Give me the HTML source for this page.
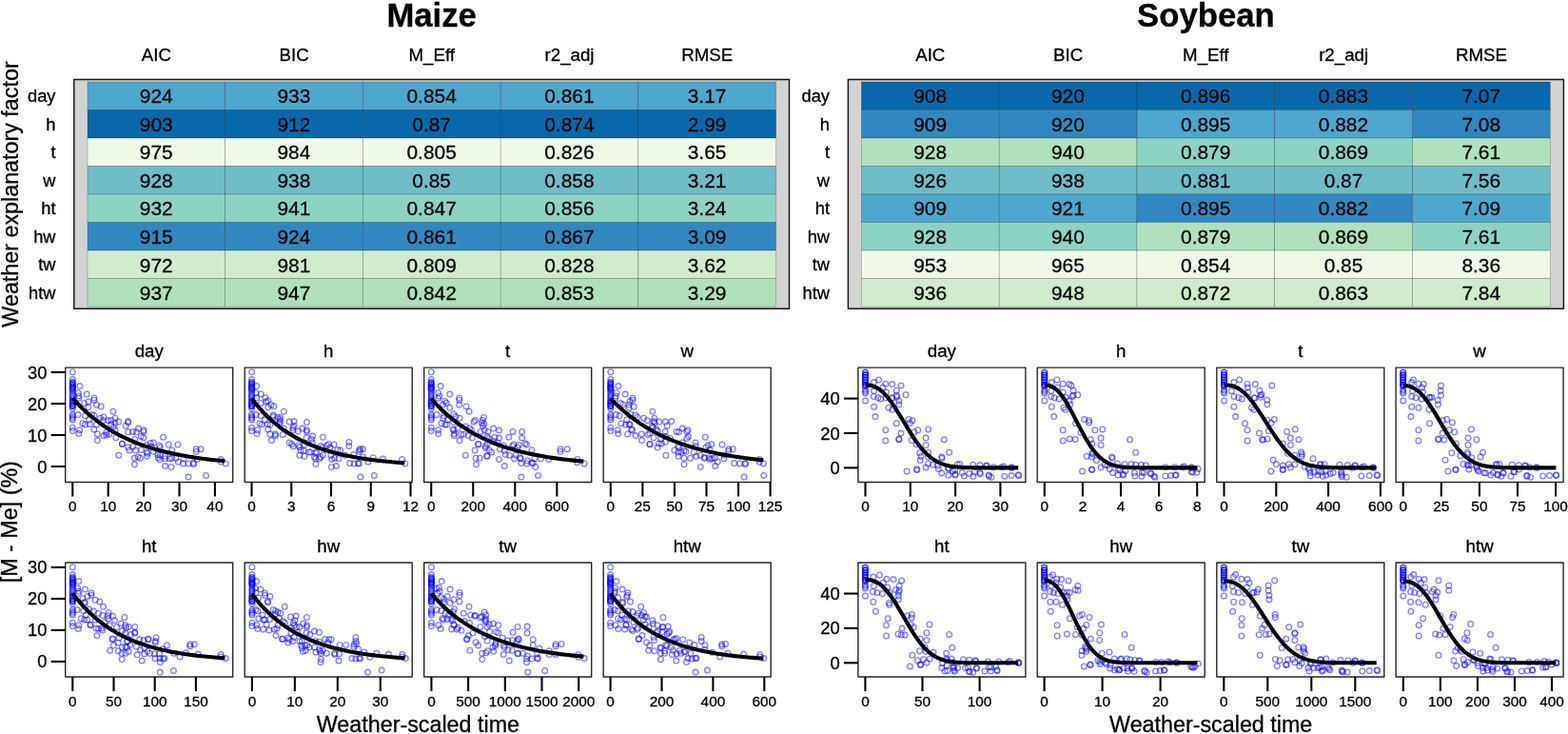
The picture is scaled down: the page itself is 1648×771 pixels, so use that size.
<!DOCTYPE html>
<html lang="en"><head><meta charset="utf-8"><title>Maize and Soybean weather-scaled drying models</title>
<style>
html,body{margin:0;padding:0;background:#fff;}
body{width:1648px;height:771px;overflow:hidden;font-family:"Liberation Sans", sans-serif;}
svg{display:block;}
text{font-family:"Liberation Sans", sans-serif;stroke:#000;stroke-width:0.3px;stroke-linejoin:round;}
</style></head><body>
<svg width="1648" height="771" viewBox="0 0 1648 771" font-family='"Liberation Sans", sans-serif'><rect x="0" y="0" width="1648" height="771" fill="#fff"/>
<rect x="77.8" y="83.45" width="751.7" height="240.75" fill="#d3d3d3"/>
<rect x="92.00" y="86.00" width="144.72" height="29.51" fill="#4EA7CD" stroke="#000" stroke-opacity="0.38" stroke-width="0.5"/>
<rect x="236.72" y="86.00" width="144.72" height="29.51" fill="#4EA7CD" stroke="#000" stroke-opacity="0.38" stroke-width="0.5"/>
<rect x="381.44" y="86.00" width="144.72" height="29.51" fill="#4EA7CD" stroke="#000" stroke-opacity="0.38" stroke-width="0.5"/>
<rect x="526.16" y="86.00" width="144.72" height="29.51" fill="#4EA7CD" stroke="#000" stroke-opacity="0.38" stroke-width="0.5"/>
<rect x="670.88" y="86.00" width="144.72" height="29.51" fill="#4EA7CD" stroke="#000" stroke-opacity="0.38" stroke-width="0.5"/>
<rect x="92.00" y="115.51" width="144.72" height="29.51" fill="#0868AC" stroke="#000" stroke-opacity="0.38" stroke-width="0.5"/>
<rect x="236.72" y="115.51" width="144.72" height="29.51" fill="#0868AC" stroke="#000" stroke-opacity="0.38" stroke-width="0.5"/>
<rect x="381.44" y="115.51" width="144.72" height="29.51" fill="#0868AC" stroke="#000" stroke-opacity="0.38" stroke-width="0.5"/>
<rect x="526.16" y="115.51" width="144.72" height="29.51" fill="#0868AC" stroke="#000" stroke-opacity="0.38" stroke-width="0.5"/>
<rect x="670.88" y="115.51" width="144.72" height="29.51" fill="#0868AC" stroke="#000" stroke-opacity="0.38" stroke-width="0.5"/>
<rect x="92.00" y="145.03" width="144.72" height="29.51" fill="#F0F9E8" stroke="#000" stroke-opacity="0.38" stroke-width="0.5"/>
<rect x="236.72" y="145.03" width="144.72" height="29.51" fill="#F0F9E8" stroke="#000" stroke-opacity="0.38" stroke-width="0.5"/>
<rect x="381.44" y="145.03" width="144.72" height="29.51" fill="#F0F9E8" stroke="#000" stroke-opacity="0.38" stroke-width="0.5"/>
<rect x="526.16" y="145.03" width="144.72" height="29.51" fill="#F0F9E8" stroke="#000" stroke-opacity="0.38" stroke-width="0.5"/>
<rect x="670.88" y="145.03" width="144.72" height="29.51" fill="#F0F9E8" stroke="#000" stroke-opacity="0.38" stroke-width="0.5"/>
<rect x="92.00" y="174.54" width="144.72" height="29.51" fill="#6EBDC9" stroke="#000" stroke-opacity="0.38" stroke-width="0.5"/>
<rect x="236.72" y="174.54" width="144.72" height="29.51" fill="#6EBDC9" stroke="#000" stroke-opacity="0.38" stroke-width="0.5"/>
<rect x="381.44" y="174.54" width="144.72" height="29.51" fill="#6EBDC9" stroke="#000" stroke-opacity="0.38" stroke-width="0.5"/>
<rect x="526.16" y="174.54" width="144.72" height="29.51" fill="#6EBDC9" stroke="#000" stroke-opacity="0.38" stroke-width="0.5"/>
<rect x="670.88" y="174.54" width="144.72" height="29.51" fill="#6EBDC9" stroke="#000" stroke-opacity="0.38" stroke-width="0.5"/>
<rect x="92.00" y="204.05" width="144.72" height="29.51" fill="#8DD3C4" stroke="#000" stroke-opacity="0.38" stroke-width="0.5"/>
<rect x="236.72" y="204.05" width="144.72" height="29.51" fill="#8DD3C4" stroke="#000" stroke-opacity="0.38" stroke-width="0.5"/>
<rect x="381.44" y="204.05" width="144.72" height="29.51" fill="#8DD3C4" stroke="#000" stroke-opacity="0.38" stroke-width="0.5"/>
<rect x="526.16" y="204.05" width="144.72" height="29.51" fill="#8DD3C4" stroke="#000" stroke-opacity="0.38" stroke-width="0.5"/>
<rect x="670.88" y="204.05" width="144.72" height="29.51" fill="#8DD3C4" stroke="#000" stroke-opacity="0.38" stroke-width="0.5"/>
<rect x="92.00" y="233.56" width="144.72" height="29.51" fill="#3188C0" stroke="#000" stroke-opacity="0.38" stroke-width="0.5"/>
<rect x="236.72" y="233.56" width="144.72" height="29.51" fill="#3188C0" stroke="#000" stroke-opacity="0.38" stroke-width="0.5"/>
<rect x="381.44" y="233.56" width="144.72" height="29.51" fill="#3188C0" stroke="#000" stroke-opacity="0.38" stroke-width="0.5"/>
<rect x="526.16" y="233.56" width="144.72" height="29.51" fill="#3188C0" stroke="#000" stroke-opacity="0.38" stroke-width="0.5"/>
<rect x="670.88" y="233.56" width="144.72" height="29.51" fill="#3188C0" stroke="#000" stroke-opacity="0.38" stroke-width="0.5"/>
<rect x="92.00" y="263.08" width="144.72" height="29.51" fill="#CFECCB" stroke="#000" stroke-opacity="0.38" stroke-width="0.5"/>
<rect x="236.72" y="263.08" width="144.72" height="29.51" fill="#CFECCB" stroke="#000" stroke-opacity="0.38" stroke-width="0.5"/>
<rect x="381.44" y="263.08" width="144.72" height="29.51" fill="#CFECCB" stroke="#000" stroke-opacity="0.38" stroke-width="0.5"/>
<rect x="526.16" y="263.08" width="144.72" height="29.51" fill="#CFECCB" stroke="#000" stroke-opacity="0.38" stroke-width="0.5"/>
<rect x="670.88" y="263.08" width="144.72" height="29.51" fill="#CFECCB" stroke="#000" stroke-opacity="0.38" stroke-width="0.5"/>
<rect x="92.00" y="292.59" width="144.72" height="29.51" fill="#B0E1BC" stroke="#000" stroke-opacity="0.38" stroke-width="0.5"/>
<rect x="236.72" y="292.59" width="144.72" height="29.51" fill="#B0E1BC" stroke="#000" stroke-opacity="0.38" stroke-width="0.5"/>
<rect x="381.44" y="292.59" width="144.72" height="29.51" fill="#B0E1BC" stroke="#000" stroke-opacity="0.38" stroke-width="0.5"/>
<rect x="526.16" y="292.59" width="144.72" height="29.51" fill="#B0E1BC" stroke="#000" stroke-opacity="0.38" stroke-width="0.5"/>
<rect x="670.88" y="292.59" width="144.72" height="29.51" fill="#B0E1BC" stroke="#000" stroke-opacity="0.38" stroke-width="0.5"/>
<text x="164.21" y="108.44" font-size="20.9" text-anchor="middle" fill="#000">924</text>
<text x="308.93" y="108.44" font-size="20.9" text-anchor="middle" fill="#000">933</text>
<text x="453.65" y="108.44" font-size="20.9" text-anchor="middle" fill="#000">0.854</text>
<text x="598.37" y="108.44" font-size="20.9" text-anchor="middle" fill="#000">0.861</text>
<text x="743.09" y="108.44" font-size="20.9" text-anchor="middle" fill="#000">3.17</text>
<text x="164.21" y="137.95" font-size="20.9" text-anchor="middle" fill="#000">903</text>
<text x="308.93" y="137.95" font-size="20.9" text-anchor="middle" fill="#000">912</text>
<text x="453.65" y="137.95" font-size="20.9" text-anchor="middle" fill="#000">0.87</text>
<text x="598.37" y="137.95" font-size="20.9" text-anchor="middle" fill="#000">0.874</text>
<text x="743.09" y="137.95" font-size="20.9" text-anchor="middle" fill="#000">2.99</text>
<text x="164.21" y="167.46" font-size="20.9" text-anchor="middle" fill="#000">975</text>
<text x="308.93" y="167.46" font-size="20.9" text-anchor="middle" fill="#000">984</text>
<text x="453.65" y="167.46" font-size="20.9" text-anchor="middle" fill="#000">0.805</text>
<text x="598.37" y="167.46" font-size="20.9" text-anchor="middle" fill="#000">0.826</text>
<text x="743.09" y="167.46" font-size="20.9" text-anchor="middle" fill="#000">3.65</text>
<text x="164.21" y="196.98" font-size="20.9" text-anchor="middle" fill="#000">928</text>
<text x="308.93" y="196.98" font-size="20.9" text-anchor="middle" fill="#000">938</text>
<text x="453.65" y="196.98" font-size="20.9" text-anchor="middle" fill="#000">0.85</text>
<text x="598.37" y="196.98" font-size="20.9" text-anchor="middle" fill="#000">0.858</text>
<text x="743.09" y="196.98" font-size="20.9" text-anchor="middle" fill="#000">3.21</text>
<text x="164.21" y="226.49" font-size="20.9" text-anchor="middle" fill="#000">932</text>
<text x="308.93" y="226.49" font-size="20.9" text-anchor="middle" fill="#000">941</text>
<text x="453.65" y="226.49" font-size="20.9" text-anchor="middle" fill="#000">0.847</text>
<text x="598.37" y="226.49" font-size="20.9" text-anchor="middle" fill="#000">0.856</text>
<text x="743.09" y="226.49" font-size="20.9" text-anchor="middle" fill="#000">3.24</text>
<text x="164.21" y="256.00" font-size="20.9" text-anchor="middle" fill="#000">915</text>
<text x="308.93" y="256.00" font-size="20.9" text-anchor="middle" fill="#000">924</text>
<text x="453.65" y="256.00" font-size="20.9" text-anchor="middle" fill="#000">0.861</text>
<text x="598.37" y="256.00" font-size="20.9" text-anchor="middle" fill="#000">0.867</text>
<text x="743.09" y="256.00" font-size="20.9" text-anchor="middle" fill="#000">3.09</text>
<text x="164.21" y="285.51" font-size="20.9" text-anchor="middle" fill="#000">972</text>
<text x="308.93" y="285.51" font-size="20.9" text-anchor="middle" fill="#000">981</text>
<text x="453.65" y="285.51" font-size="20.9" text-anchor="middle" fill="#000">0.809</text>
<text x="598.37" y="285.51" font-size="20.9" text-anchor="middle" fill="#000">0.828</text>
<text x="743.09" y="285.51" font-size="20.9" text-anchor="middle" fill="#000">3.62</text>
<text x="164.21" y="315.03" font-size="20.9" text-anchor="middle" fill="#000">937</text>
<text x="308.93" y="315.03" font-size="20.9" text-anchor="middle" fill="#000">947</text>
<text x="453.65" y="315.03" font-size="20.9" text-anchor="middle" fill="#000">0.842</text>
<text x="598.37" y="315.03" font-size="20.9" text-anchor="middle" fill="#000">0.853</text>
<text x="743.09" y="315.03" font-size="20.9" text-anchor="middle" fill="#000">3.29</text>
<rect x="77.8" y="83.45" width="751.7" height="240.75" fill="none" stroke="#161616" stroke-width="1.45" stroke-linejoin="round"/>
<text x="164.36" y="64.10" font-size="18.7" text-anchor="middle" fill="#000">AIC</text>
<text x="309.08" y="64.10" font-size="18.7" text-anchor="middle" fill="#000">BIC</text>
<text x="453.80" y="64.10" font-size="18.7" text-anchor="middle" fill="#000">M_Eff</text>
<text x="598.52" y="64.10" font-size="18.7" text-anchor="middle" fill="#000">r2_adj</text>
<text x="743.24" y="64.10" font-size="18.7" text-anchor="middle" fill="#000">RMSE</text>
<text x="58.50" y="107.01" font-size="18.3" text-anchor="end" fill="#000">day</text>
<text x="58.50" y="136.52" font-size="18.3" text-anchor="end" fill="#000">h</text>
<text x="58.50" y="166.03" font-size="18.3" text-anchor="end" fill="#000">t</text>
<text x="58.50" y="195.55" font-size="18.3" text-anchor="end" fill="#000">w</text>
<text x="58.50" y="225.06" font-size="18.3" text-anchor="end" fill="#000">ht</text>
<text x="58.50" y="254.57" font-size="18.3" text-anchor="end" fill="#000">hw</text>
<text x="58.50" y="284.08" font-size="18.3" text-anchor="end" fill="#000">tw</text>
<text x="58.50" y="313.60" font-size="18.3" text-anchor="end" fill="#000">htw</text>
<text x="453.65" y="27.50" font-size="34.7" text-anchor="middle" font-weight="bold" stroke-width="0.2" fill="#000">Maize</text>
<rect x="891.4" y="83.45" width="752.0000000000001" height="240.75" fill="#d3d3d3"/>
<rect x="905.40" y="86.00" width="144.78" height="29.51" fill="#0868AC" stroke="#000" stroke-opacity="0.38" stroke-width="0.5"/>
<rect x="1050.18" y="86.00" width="144.78" height="29.51" fill="#0868AC" stroke="#000" stroke-opacity="0.38" stroke-width="0.5"/>
<rect x="1194.96" y="86.00" width="144.78" height="29.51" fill="#0868AC" stroke="#000" stroke-opacity="0.38" stroke-width="0.5"/>
<rect x="1339.74" y="86.00" width="144.78" height="29.51" fill="#0868AC" stroke="#000" stroke-opacity="0.38" stroke-width="0.5"/>
<rect x="1484.52" y="86.00" width="144.78" height="29.51" fill="#0868AC" stroke="#000" stroke-opacity="0.38" stroke-width="0.5"/>
<rect x="905.40" y="115.51" width="144.78" height="29.51" fill="#3188C0" stroke="#000" stroke-opacity="0.38" stroke-width="0.5"/>
<rect x="1050.18" y="115.51" width="144.78" height="29.51" fill="#3188C0" stroke="#000" stroke-opacity="0.38" stroke-width="0.5"/>
<rect x="1194.96" y="115.51" width="144.78" height="29.51" fill="#4EA7CD" stroke="#000" stroke-opacity="0.38" stroke-width="0.5"/>
<rect x="1339.74" y="115.51" width="144.78" height="29.51" fill="#4EA7CD" stroke="#000" stroke-opacity="0.38" stroke-width="0.5"/>
<rect x="1484.52" y="115.51" width="144.78" height="29.51" fill="#3188C0" stroke="#000" stroke-opacity="0.38" stroke-width="0.5"/>
<rect x="905.40" y="145.03" width="144.78" height="29.51" fill="#B0E1BC" stroke="#000" stroke-opacity="0.38" stroke-width="0.5"/>
<rect x="1050.18" y="145.03" width="144.78" height="29.51" fill="#B0E1BC" stroke="#000" stroke-opacity="0.38" stroke-width="0.5"/>
<rect x="1194.96" y="145.03" width="144.78" height="29.51" fill="#8DD3C4" stroke="#000" stroke-opacity="0.38" stroke-width="0.5"/>
<rect x="1339.74" y="145.03" width="144.78" height="29.51" fill="#8DD3C4" stroke="#000" stroke-opacity="0.38" stroke-width="0.5"/>
<rect x="1484.52" y="145.03" width="144.78" height="29.51" fill="#B0E1BC" stroke="#000" stroke-opacity="0.38" stroke-width="0.5"/>
<rect x="905.40" y="174.54" width="144.78" height="29.51" fill="#6EBDC9" stroke="#000" stroke-opacity="0.38" stroke-width="0.5"/>
<rect x="1050.18" y="174.54" width="144.78" height="29.51" fill="#6EBDC9" stroke="#000" stroke-opacity="0.38" stroke-width="0.5"/>
<rect x="1194.96" y="174.54" width="144.78" height="29.51" fill="#6EBDC9" stroke="#000" stroke-opacity="0.38" stroke-width="0.5"/>
<rect x="1339.74" y="174.54" width="144.78" height="29.51" fill="#6EBDC9" stroke="#000" stroke-opacity="0.38" stroke-width="0.5"/>
<rect x="1484.52" y="174.54" width="144.78" height="29.51" fill="#6EBDC9" stroke="#000" stroke-opacity="0.38" stroke-width="0.5"/>
<rect x="905.40" y="204.05" width="144.78" height="29.51" fill="#4EA7CD" stroke="#000" stroke-opacity="0.38" stroke-width="0.5"/>
<rect x="1050.18" y="204.05" width="144.78" height="29.51" fill="#4EA7CD" stroke="#000" stroke-opacity="0.38" stroke-width="0.5"/>
<rect x="1194.96" y="204.05" width="144.78" height="29.51" fill="#3188C0" stroke="#000" stroke-opacity="0.38" stroke-width="0.5"/>
<rect x="1339.74" y="204.05" width="144.78" height="29.51" fill="#3188C0" stroke="#000" stroke-opacity="0.38" stroke-width="0.5"/>
<rect x="1484.52" y="204.05" width="144.78" height="29.51" fill="#4EA7CD" stroke="#000" stroke-opacity="0.38" stroke-width="0.5"/>
<rect x="905.40" y="233.56" width="144.78" height="29.51" fill="#8DD3C4" stroke="#000" stroke-opacity="0.38" stroke-width="0.5"/>
<rect x="1050.18" y="233.56" width="144.78" height="29.51" fill="#8DD3C4" stroke="#000" stroke-opacity="0.38" stroke-width="0.5"/>
<rect x="1194.96" y="233.56" width="144.78" height="29.51" fill="#B0E1BC" stroke="#000" stroke-opacity="0.38" stroke-width="0.5"/>
<rect x="1339.74" y="233.56" width="144.78" height="29.51" fill="#B0E1BC" stroke="#000" stroke-opacity="0.38" stroke-width="0.5"/>
<rect x="1484.52" y="233.56" width="144.78" height="29.51" fill="#8DD3C4" stroke="#000" stroke-opacity="0.38" stroke-width="0.5"/>
<rect x="905.40" y="263.08" width="144.78" height="29.51" fill="#F0F9E8" stroke="#000" stroke-opacity="0.38" stroke-width="0.5"/>
<rect x="1050.18" y="263.08" width="144.78" height="29.51" fill="#F0F9E8" stroke="#000" stroke-opacity="0.38" stroke-width="0.5"/>
<rect x="1194.96" y="263.08" width="144.78" height="29.51" fill="#F0F9E8" stroke="#000" stroke-opacity="0.38" stroke-width="0.5"/>
<rect x="1339.74" y="263.08" width="144.78" height="29.51" fill="#F0F9E8" stroke="#000" stroke-opacity="0.38" stroke-width="0.5"/>
<rect x="1484.52" y="263.08" width="144.78" height="29.51" fill="#F0F9E8" stroke="#000" stroke-opacity="0.38" stroke-width="0.5"/>
<rect x="905.40" y="292.59" width="144.78" height="29.51" fill="#CFECCB" stroke="#000" stroke-opacity="0.38" stroke-width="0.5"/>
<rect x="1050.18" y="292.59" width="144.78" height="29.51" fill="#CFECCB" stroke="#000" stroke-opacity="0.38" stroke-width="0.5"/>
<rect x="1194.96" y="292.59" width="144.78" height="29.51" fill="#CFECCB" stroke="#000" stroke-opacity="0.38" stroke-width="0.5"/>
<rect x="1339.74" y="292.59" width="144.78" height="29.51" fill="#CFECCB" stroke="#000" stroke-opacity="0.38" stroke-width="0.5"/>
<rect x="1484.52" y="292.59" width="144.78" height="29.51" fill="#CFECCB" stroke="#000" stroke-opacity="0.38" stroke-width="0.5"/>
<text x="977.64" y="108.44" font-size="20.9" text-anchor="middle" fill="#000">908</text>
<text x="1122.42" y="108.44" font-size="20.9" text-anchor="middle" fill="#000">920</text>
<text x="1267.20" y="108.44" font-size="20.9" text-anchor="middle" fill="#000">0.896</text>
<text x="1411.98" y="108.44" font-size="20.9" text-anchor="middle" fill="#000">0.883</text>
<text x="1556.76" y="108.44" font-size="20.9" text-anchor="middle" fill="#000">7.07</text>
<text x="977.64" y="137.95" font-size="20.9" text-anchor="middle" fill="#000">909</text>
<text x="1122.42" y="137.95" font-size="20.9" text-anchor="middle" fill="#000">920</text>
<text x="1267.20" y="137.95" font-size="20.9" text-anchor="middle" fill="#000">0.895</text>
<text x="1411.98" y="137.95" font-size="20.9" text-anchor="middle" fill="#000">0.882</text>
<text x="1556.76" y="137.95" font-size="20.9" text-anchor="middle" fill="#000">7.08</text>
<text x="977.64" y="167.46" font-size="20.9" text-anchor="middle" fill="#000">928</text>
<text x="1122.42" y="167.46" font-size="20.9" text-anchor="middle" fill="#000">940</text>
<text x="1267.20" y="167.46" font-size="20.9" text-anchor="middle" fill="#000">0.879</text>
<text x="1411.98" y="167.46" font-size="20.9" text-anchor="middle" fill="#000">0.869</text>
<text x="1556.76" y="167.46" font-size="20.9" text-anchor="middle" fill="#000">7.61</text>
<text x="977.64" y="196.98" font-size="20.9" text-anchor="middle" fill="#000">926</text>
<text x="1122.42" y="196.98" font-size="20.9" text-anchor="middle" fill="#000">938</text>
<text x="1267.20" y="196.98" font-size="20.9" text-anchor="middle" fill="#000">0.881</text>
<text x="1411.98" y="196.98" font-size="20.9" text-anchor="middle" fill="#000">0.87</text>
<text x="1556.76" y="196.98" font-size="20.9" text-anchor="middle" fill="#000">7.56</text>
<text x="977.64" y="226.49" font-size="20.9" text-anchor="middle" fill="#000">909</text>
<text x="1122.42" y="226.49" font-size="20.9" text-anchor="middle" fill="#000">921</text>
<text x="1267.20" y="226.49" font-size="20.9" text-anchor="middle" fill="#000">0.895</text>
<text x="1411.98" y="226.49" font-size="20.9" text-anchor="middle" fill="#000">0.882</text>
<text x="1556.76" y="226.49" font-size="20.9" text-anchor="middle" fill="#000">7.09</text>
<text x="977.64" y="256.00" font-size="20.9" text-anchor="middle" fill="#000">928</text>
<text x="1122.42" y="256.00" font-size="20.9" text-anchor="middle" fill="#000">940</text>
<text x="1267.20" y="256.00" font-size="20.9" text-anchor="middle" fill="#000">0.879</text>
<text x="1411.98" y="256.00" font-size="20.9" text-anchor="middle" fill="#000">0.869</text>
<text x="1556.76" y="256.00" font-size="20.9" text-anchor="middle" fill="#000">7.61</text>
<text x="977.64" y="285.51" font-size="20.9" text-anchor="middle" fill="#000">953</text>
<text x="1122.42" y="285.51" font-size="20.9" text-anchor="middle" fill="#000">965</text>
<text x="1267.20" y="285.51" font-size="20.9" text-anchor="middle" fill="#000">0.854</text>
<text x="1411.98" y="285.51" font-size="20.9" text-anchor="middle" fill="#000">0.85</text>
<text x="1556.76" y="285.51" font-size="20.9" text-anchor="middle" fill="#000">8.36</text>
<text x="977.64" y="315.03" font-size="20.9" text-anchor="middle" fill="#000">936</text>
<text x="1122.42" y="315.03" font-size="20.9" text-anchor="middle" fill="#000">948</text>
<text x="1267.20" y="315.03" font-size="20.9" text-anchor="middle" fill="#000">0.872</text>
<text x="1411.98" y="315.03" font-size="20.9" text-anchor="middle" fill="#000">0.863</text>
<text x="1556.76" y="315.03" font-size="20.9" text-anchor="middle" fill="#000">7.84</text>
<rect x="891.4" y="83.45" width="752.0000000000001" height="240.75" fill="none" stroke="#161616" stroke-width="1.45" stroke-linejoin="round"/>
<text x="977.79" y="64.10" font-size="18.7" text-anchor="middle" fill="#000">AIC</text>
<text x="1122.57" y="64.10" font-size="18.7" text-anchor="middle" fill="#000">BIC</text>
<text x="1267.35" y="64.10" font-size="18.7" text-anchor="middle" fill="#000">M_Eff</text>
<text x="1412.13" y="64.10" font-size="18.7" text-anchor="middle" fill="#000">r2_adj</text>
<text x="1556.91" y="64.10" font-size="18.7" text-anchor="middle" fill="#000">RMSE</text>
<text x="872.00" y="107.01" font-size="18.3" text-anchor="end" fill="#000">day</text>
<text x="872.00" y="136.52" font-size="18.3" text-anchor="end" fill="#000">h</text>
<text x="872.00" y="166.03" font-size="18.3" text-anchor="end" fill="#000">t</text>
<text x="872.00" y="195.55" font-size="18.3" text-anchor="end" fill="#000">w</text>
<text x="872.00" y="225.06" font-size="18.3" text-anchor="end" fill="#000">ht</text>
<text x="872.00" y="254.57" font-size="18.3" text-anchor="end" fill="#000">hw</text>
<text x="872.00" y="284.08" font-size="18.3" text-anchor="end" fill="#000">tw</text>
<text x="872.00" y="313.60" font-size="18.3" text-anchor="end" fill="#000">htw</text>
<text x="1267.40" y="27.50" font-size="34.7" text-anchor="middle" font-weight="bold" stroke-width="0.2" fill="#000">Soybean</text>
<text x="18.50" y="204.00" font-size="23.3" text-anchor="middle" transform="rotate(-90 18.50 204.00)" fill="#000">Weather explanatory factor</text>
<text x="18.50" y="548.20" font-size="23.3" text-anchor="middle" transform="rotate(-90 18.50 548.20)" fill="#000">[M - Me] (%)</text>
<text x="439.40" y="769.30" font-size="23.3" text-anchor="middle" fill="#000">Weather-scaled time</text>
<text x="1272.70" y="769.30" font-size="23.3" text-anchor="middle" fill="#000">Weather-scaled time</text>
<rect x="68.7" y="386.1" width="176.0" height="120.39999999999998" fill="#fff"/>
<g fill="none" stroke="#0000ff" stroke-opacity="0.5" stroke-width="1.3"><circle cx="76.3" cy="390.8" r="2.85"/><circle cx="76.3" cy="398.6" r="2.85"/><circle cx="76.3" cy="401.6" r="2.85"/><circle cx="76.3" cy="403.6" r="2.85"/><circle cx="76.3" cy="405.6" r="2.85"/><circle cx="76.3" cy="407.2" r="2.85"/><circle cx="76.3" cy="408.6" r="2.85"/><circle cx="76.3" cy="410.2" r="2.85"/><circle cx="76.3" cy="412.2" r="2.85"/><circle cx="76.3" cy="414.6" r="2.85"/><circle cx="76.3" cy="416.0" r="2.85"/><circle cx="76.3" cy="417.7" r="2.85"/><circle cx="76.3" cy="419.4" r="2.85"/><circle cx="76.3" cy="421.5" r="2.85"/><circle cx="76.3" cy="423.5" r="2.85"/><circle cx="76.3" cy="425.5" r="2.85"/><circle cx="76.3" cy="426.8" r="2.85"/><circle cx="76.3" cy="429.0" r="2.85"/><circle cx="76.3" cy="435.6" r="2.85"/><circle cx="76.3" cy="437.6" r="2.85"/><circle cx="76.3" cy="439.3" r="2.85"/><circle cx="76.3" cy="441.0" r="2.85"/><circle cx="76.3" cy="449.3" r="2.85"/><circle cx="76.3" cy="452.6" r="2.85"/><circle cx="76.3" cy="401.8" r="2.85"/><circle cx="76.3" cy="403.8" r="2.85"/><circle cx="76.3" cy="405.8" r="2.85"/><circle cx="76.3" cy="407.2" r="2.85"/><circle cx="76.3" cy="408.6" r="2.85"/><circle cx="76.3" cy="423.5" r="2.85"/><circle cx="76.3" cy="425.5" r="2.85"/><circle cx="76.3" cy="426.8" r="2.85"/><circle cx="76.3" cy="421.5" r="2.85"/><circle cx="83.8" cy="405.6" r="2.85"/><circle cx="82.3" cy="412.7" r="2.85"/><circle cx="82.8" cy="416.0" r="2.85"/><circle cx="82.8" cy="418.2" r="2.85"/><circle cx="91.2" cy="414.1" r="2.85"/><circle cx="98.9" cy="417.9" r="2.85"/><circle cx="98.9" cy="420.2" r="2.85"/><circle cx="92.7" cy="421.9" r="2.85"/><circle cx="88.6" cy="423.5" r="2.85"/><circle cx="101.4" cy="425.2" r="2.85"/><circle cx="106.2" cy="427.0" r="2.85"/><circle cx="92.7" cy="427.7" r="2.85"/><circle cx="81.9" cy="435.6" r="2.85"/><circle cx="89.4" cy="436.8" r="2.85"/><circle cx="96.5" cy="435.5" r="2.85"/><circle cx="98.9" cy="436.5" r="2.85"/><circle cx="93.6" cy="441.0" r="2.85"/><circle cx="86.9" cy="444.8" r="2.85"/><circle cx="89.4" cy="445.9" r="2.85"/><circle cx="94.4" cy="445.4" r="2.85"/><circle cx="98.9" cy="450.9" r="2.85"/><circle cx="83.6" cy="451.8" r="2.85"/><circle cx="82.8" cy="455.6" r="2.85"/><circle cx="102.4" cy="455.9" r="2.85"/><circle cx="102.4" cy="462.6" r="2.85"/><circle cx="101.5" cy="445.9" r="2.85"/><circle cx="105.5" cy="439.3" r="2.85"/><circle cx="109.0" cy="438.0" r="2.85"/><circle cx="108.5" cy="441.5" r="2.85"/><circle cx="119.0" cy="432.2" r="2.85"/><circle cx="113.8" cy="441.8" r="2.85"/><circle cx="116.8" cy="441.5" r="2.85"/><circle cx="121.0" cy="439.3" r="2.85"/><circle cx="124.8" cy="443.1" r="2.85"/><circle cx="121.0" cy="444.3" r="2.85"/><circle cx="116.8" cy="445.9" r="2.85"/><circle cx="119.3" cy="448.4" r="2.85"/><circle cx="121.0" cy="451.8" r="2.85"/><circle cx="111.8" cy="454.2" r="2.85"/><circle cx="114.8" cy="455.9" r="2.85"/><circle cx="109.0" cy="457.6" r="2.85"/><circle cx="111.8" cy="456.7" r="2.85"/><circle cx="121.8" cy="459.7" r="2.85"/><circle cx="134.6" cy="442.6" r="2.85"/><circle cx="134.6" cy="443.8" r="2.85"/><circle cx="132.1" cy="447.3" r="2.85"/><circle cx="134.7" cy="453.7" r="2.85"/><circle cx="139.6" cy="453.4" r="2.85"/><circle cx="143.4" cy="453.7" r="2.85"/><circle cx="145.5" cy="450.1" r="2.85"/><circle cx="150.9" cy="451.8" r="2.85"/><circle cx="150.9" cy="453.4" r="2.85"/><circle cx="148.4" cy="458.4" r="2.85"/><circle cx="150.9" cy="459.7" r="2.85"/><circle cx="141.7" cy="461.4" r="2.85"/><circle cx="128.4" cy="465.9" r="2.85"/><circle cx="128.4" cy="466.4" r="2.85"/><circle cx="134.6" cy="469.7" r="2.85"/><circle cx="139.6" cy="468.9" r="2.85"/><circle cx="135.9" cy="473.0" r="2.85"/><circle cx="142.6" cy="473.0" r="2.85"/><circle cx="148.4" cy="472.5" r="2.85"/><circle cx="124.8" cy="478.3" r="2.85"/><circle cx="141.4" cy="481.3" r="2.85"/><circle cx="145.0" cy="480.0" r="2.85"/><circle cx="147.5" cy="481.2" r="2.85"/><circle cx="141.4" cy="487.8" r="2.85"/><circle cx="154.2" cy="467.5" r="2.85"/><circle cx="158.3" cy="465.5" r="2.85"/><circle cx="161.3" cy="465.0" r="2.85"/><circle cx="159.2" cy="469.2" r="2.85"/><circle cx="154.2" cy="475.0" r="2.85"/><circle cx="155.0" cy="476.2" r="2.85"/><circle cx="154.5" cy="479.2" r="2.85"/><circle cx="161.3" cy="474.2" r="2.85"/><circle cx="167.5" cy="468.0" r="2.85"/><circle cx="168.3" cy="470.0" r="2.85"/><circle cx="171.6" cy="459.2" r="2.85"/><circle cx="177.1" cy="467.0" r="2.85"/><circle cx="186.9" cy="467.0" r="2.85"/><circle cx="180.8" cy="473.0" r="2.85"/><circle cx="165.8" cy="477.5" r="2.85"/><circle cx="168.3" cy="478.3" r="2.85"/><circle cx="173.6" cy="479.2" r="2.85"/><circle cx="166.3" cy="480.8" r="2.85"/><circle cx="167.8" cy="482.8" r="2.85"/><circle cx="173.6" cy="481.7" r="2.85"/><circle cx="178.3" cy="481.7" r="2.85"/><circle cx="180.8" cy="481.2" r="2.85"/><circle cx="184.9" cy="481.2" r="2.85"/><circle cx="173.6" cy="489.6" r="2.85"/><circle cx="179.9" cy="490.5" r="2.85"/><circle cx="187.4" cy="485.3" r="2.85"/><circle cx="192.4" cy="487.0" r="2.85"/><circle cx="193.2" cy="481.7" r="2.85"/><circle cx="197.9" cy="487.0" r="2.85"/><circle cx="203.2" cy="486.3" r="2.85"/><circle cx="203.5" cy="487.5" r="2.85"/><circle cx="207.3" cy="482.5" r="2.85"/><circle cx="206.2" cy="471.7" r="2.85"/><circle cx="206.2" cy="474.2" r="2.85"/><circle cx="211.1" cy="471.7" r="2.85"/><circle cx="197.9" cy="501.1" r="2.85"/><circle cx="216.5" cy="499.4" r="2.85"/><circle cx="232.2" cy="482.5" r="2.85"/><circle cx="232.2" cy="485.0" r="2.85"/><circle cx="237.2" cy="487.0" r="2.85"/></g>
<path d="M76.30,418.21 L78.97,421.18 L81.64,424.02 L84.30,426.75 L86.97,429.37 L89.64,431.88 L92.31,434.28 L94.98,436.59 L97.65,438.79 L100.31,440.91 L102.98,442.94 L105.65,444.89 L108.32,446.76 L110.99,448.54 L113.65,450.26 L116.32,451.90 L118.99,453.48 L121.66,454.99 L124.33,456.44 L126.99,457.83 L129.66,459.16 L132.33,460.43 L135.00,461.66 L137.67,462.83 L140.34,463.95 L143.00,465.03 L145.67,466.06 L148.34,467.05 L151.01,468.00 L153.68,468.91 L156.34,469.78 L159.01,470.62 L161.68,471.42 L164.35,472.19 L167.02,472.93 L169.68,473.63 L172.35,474.31 L175.02,474.96 L177.69,475.58 L180.36,476.18 L183.03,476.75 L185.69,477.30 L188.36,477.82 L191.03,478.33 L193.70,478.81 L196.37,479.27 L199.03,479.72 L201.70,480.14 L204.37,480.55 L207.04,480.94 L209.71,481.32 L212.37,481.67 L215.04,482.02 L217.71,482.35 L220.38,482.67 L223.05,482.97 L225.72,483.26 L228.38,483.54 L231.05,483.81 L233.72,484.06 L236.39,484.31" fill="none" stroke="#000" stroke-width="4.1" stroke-linejoin="round"/>
<rect x="68.7" y="386.1" width="176.0" height="120.39999999999998" fill="none" stroke="#262626" stroke-width="1.4" stroke-linejoin="round"/>
<line x1="76.30" y1="506.5" x2="76.30" y2="521.5" stroke="#000" stroke-width="2.1"/>
<text x="76.30" y="537.00" font-size="15.35" text-anchor="middle" fill="#000">0</text>
<line x1="113.70" y1="506.5" x2="113.70" y2="521.5" stroke="#000" stroke-width="2.1"/>
<text x="113.70" y="537.00" font-size="15.35" text-anchor="middle" fill="#000">10</text>
<line x1="151.10" y1="506.5" x2="151.10" y2="521.5" stroke="#000" stroke-width="2.1"/>
<text x="151.10" y="537.00" font-size="15.35" text-anchor="middle" fill="#000">20</text>
<line x1="188.50" y1="506.5" x2="188.50" y2="521.5" stroke="#000" stroke-width="2.1"/>
<text x="188.50" y="537.00" font-size="15.35" text-anchor="middle" fill="#000">30</text>
<line x1="225.90" y1="506.5" x2="225.90" y2="521.5" stroke="#000" stroke-width="2.1"/>
<text x="225.90" y="537.00" font-size="15.35" text-anchor="middle" fill="#000">40</text>
<line x1="53.7" y1="490.00" x2="68.7" y2="490.00" stroke="#000" stroke-width="2.1"/>
<text x="49.50" y="496.59" font-size="18.4" text-anchor="end" fill="#000">0</text>
<line x1="53.7" y1="457.00" x2="68.7" y2="457.00" stroke="#000" stroke-width="2.1"/>
<text x="49.50" y="463.59" font-size="18.4" text-anchor="end" fill="#000">10</text>
<line x1="53.7" y1="424.00" x2="68.7" y2="424.00" stroke="#000" stroke-width="2.1"/>
<text x="49.50" y="430.59" font-size="18.4" text-anchor="end" fill="#000">20</text>
<line x1="53.7" y1="391.00" x2="68.7" y2="391.00" stroke="#000" stroke-width="2.1"/>
<text x="49.50" y="397.59" font-size="18.4" text-anchor="end" fill="#000">30</text>
<text x="156.70" y="374.60" font-size="18.7" text-anchor="middle" fill="#000">day</text>
<rect x="257.2" y="386.1" width="176.0" height="120.39999999999998" fill="#fff"/>
<g fill="none" stroke="#0000ff" stroke-opacity="0.5" stroke-width="1.3"><circle cx="264.5" cy="390.8" r="2.85"/><circle cx="264.5" cy="398.6" r="2.85"/><circle cx="264.5" cy="401.6" r="2.85"/><circle cx="264.5" cy="403.6" r="2.85"/><circle cx="264.5" cy="405.6" r="2.85"/><circle cx="264.5" cy="407.2" r="2.85"/><circle cx="264.5" cy="408.6" r="2.85"/><circle cx="264.5" cy="410.2" r="2.85"/><circle cx="264.5" cy="412.2" r="2.85"/><circle cx="264.5" cy="414.6" r="2.85"/><circle cx="264.5" cy="416.0" r="2.85"/><circle cx="264.5" cy="417.7" r="2.85"/><circle cx="264.5" cy="419.4" r="2.85"/><circle cx="264.5" cy="421.5" r="2.85"/><circle cx="264.5" cy="423.5" r="2.85"/><circle cx="264.5" cy="425.5" r="2.85"/><circle cx="264.5" cy="426.8" r="2.85"/><circle cx="264.5" cy="429.0" r="2.85"/><circle cx="264.5" cy="435.6" r="2.85"/><circle cx="264.5" cy="437.6" r="2.85"/><circle cx="264.5" cy="439.3" r="2.85"/><circle cx="264.5" cy="441.0" r="2.85"/><circle cx="264.5" cy="449.3" r="2.85"/><circle cx="264.5" cy="452.6" r="2.85"/><circle cx="264.5" cy="401.8" r="2.85"/><circle cx="264.5" cy="403.8" r="2.85"/><circle cx="264.5" cy="405.8" r="2.85"/><circle cx="264.5" cy="407.2" r="2.85"/><circle cx="264.5" cy="408.6" r="2.85"/><circle cx="264.5" cy="423.5" r="2.85"/><circle cx="264.5" cy="425.5" r="2.85"/><circle cx="264.5" cy="426.8" r="2.85"/><circle cx="264.5" cy="421.5" r="2.85"/><circle cx="269.6" cy="405.6" r="2.85"/><circle cx="268.9" cy="412.7" r="2.85"/><circle cx="274.3" cy="413.9" r="2.85"/><circle cx="269.6" cy="417.7" r="2.85"/><circle cx="278.9" cy="417.7" r="2.85"/><circle cx="281.7" cy="421.0" r="2.85"/><circle cx="279.6" cy="421.9" r="2.85"/><circle cx="274.3" cy="423.5" r="2.85"/><circle cx="285.0" cy="425.2" r="2.85"/><circle cx="287.9" cy="426.8" r="2.85"/><circle cx="281.7" cy="427.7" r="2.85"/><circle cx="298.3" cy="432.2" r="2.85"/><circle cx="268.9" cy="435.6" r="2.85"/><circle cx="274.3" cy="436.8" r="2.85"/><circle cx="287.2" cy="436.0" r="2.85"/><circle cx="287.2" cy="437.6" r="2.85"/><circle cx="291.7" cy="438.5" r="2.85"/><circle cx="294.5" cy="438.5" r="2.85"/><circle cx="293.8" cy="440.5" r="2.85"/><circle cx="294.5" cy="442.6" r="2.85"/><circle cx="278.4" cy="441.0" r="2.85"/><circle cx="272.9" cy="444.8" r="2.85"/><circle cx="275.1" cy="445.9" r="2.85"/><circle cx="281.2" cy="445.4" r="2.85"/><circle cx="283.9" cy="445.9" r="2.85"/><circle cx="293.8" cy="445.1" r="2.85"/><circle cx="281.7" cy="450.9" r="2.85"/><circle cx="270.6" cy="451.8" r="2.85"/><circle cx="270.1" cy="455.6" r="2.85"/><circle cx="283.9" cy="455.9" r="2.85"/><circle cx="289.5" cy="455.9" r="2.85"/><circle cx="289.5" cy="457.6" r="2.85"/><circle cx="285.4" cy="462.6" r="2.85"/><circle cx="297.2" cy="456.4" r="2.85"/><circle cx="298.3" cy="450.1" r="2.85"/><circle cx="304.1" cy="443.1" r="2.85"/><circle cx="309.1" cy="442.6" r="2.85"/><circle cx="309.1" cy="447.6" r="2.85"/><circle cx="307.8" cy="449.3" r="2.85"/><circle cx="307.8" cy="451.8" r="2.85"/><circle cx="313.3" cy="453.1" r="2.85"/><circle cx="317.9" cy="450.1" r="2.85"/><circle cx="322.4" cy="443.5" r="2.85"/><circle cx="322.4" cy="451.8" r="2.85"/><circle cx="322.4" cy="453.4" r="2.85"/><circle cx="322.1" cy="459.7" r="2.85"/><circle cx="327.4" cy="461.4" r="2.85"/><circle cx="328.6" cy="458.1" r="2.85"/><circle cx="328.2" cy="465.0" r="2.85"/><circle cx="339.4" cy="459.2" r="2.85"/><circle cx="304.1" cy="465.0" r="2.85"/><circle cx="306.6" cy="466.4" r="2.85"/><circle cx="308.3" cy="468.7" r="2.85"/><circle cx="313.8" cy="468.0" r="2.85"/><circle cx="314.9" cy="469.7" r="2.85"/><circle cx="319.9" cy="467.5" r="2.85"/><circle cx="316.1" cy="473.0" r="2.85"/><circle cx="319.1" cy="473.3" r="2.85"/><circle cx="314.9" cy="478.3" r="2.85"/><circle cx="319.9" cy="479.2" r="2.85"/><circle cx="324.6" cy="475.0" r="2.85"/><circle cx="326.6" cy="475.0" r="2.85"/><circle cx="331.6" cy="475.8" r="2.85"/><circle cx="332.9" cy="475.0" r="2.85"/><circle cx="330.4" cy="480.0" r="2.85"/><circle cx="331.6" cy="481.7" r="2.85"/><circle cx="335.7" cy="481.7" r="2.85"/><circle cx="337.0" cy="480.0" r="2.85"/><circle cx="339.4" cy="478.0" r="2.85"/><circle cx="337.4" cy="468.4" r="2.85"/><circle cx="339.0" cy="470.0" r="2.85"/><circle cx="331.9" cy="487.5" r="2.85"/><circle cx="343.5" cy="468.0" r="2.85"/><circle cx="345.3" cy="466.4" r="2.85"/><circle cx="351.1" cy="467.0" r="2.85"/><circle cx="347.0" cy="470.0" r="2.85"/><circle cx="347.8" cy="478.3" r="2.85"/><circle cx="348.7" cy="482.5" r="2.85"/><circle cx="351.5" cy="481.2" r="2.85"/><circle cx="356.0" cy="481.7" r="2.85"/><circle cx="354.8" cy="472.5" r="2.85"/><circle cx="357.8" cy="473.0" r="2.85"/><circle cx="366.8" cy="464.5" r="2.85"/><circle cx="366.8" cy="468.4" r="2.85"/><circle cx="362.8" cy="478.3" r="2.85"/><circle cx="371.7" cy="477.5" r="2.85"/><circle cx="377.6" cy="472.5" r="2.85"/><circle cx="378.9" cy="471.7" r="2.85"/><circle cx="381.4" cy="471.7" r="2.85"/><circle cx="377.6" cy="474.2" r="2.85"/><circle cx="381.4" cy="480.0" r="2.85"/><circle cx="386.9" cy="485.3" r="2.85"/><circle cx="367.6" cy="486.6" r="2.85"/><circle cx="372.2" cy="487.0" r="2.85"/><circle cx="376.4" cy="486.6" r="2.85"/><circle cx="377.2" cy="487.0" r="2.85"/><circle cx="348.2" cy="490.5" r="2.85"/><circle cx="353.5" cy="489.6" r="2.85"/><circle cx="392.2" cy="480.8" r="2.85"/><circle cx="402.5" cy="482.1" r="2.85"/><circle cx="378.9" cy="501.1" r="2.85"/><circle cx="393.3" cy="499.4" r="2.85"/><circle cx="422.6" cy="482.5" r="2.85"/><circle cx="425.7" cy="487.0" r="2.85"/></g>
<path d="M264.50,418.70 L267.18,422.13 L269.86,425.40 L272.54,428.51 L275.23,431.47 L277.91,434.28 L280.59,436.96 L283.27,439.52 L285.95,441.95 L288.63,444.26 L291.31,446.46 L294.00,448.55 L296.68,450.55 L299.36,452.45 L302.04,454.25 L304.72,455.97 L307.40,457.61 L310.08,459.17 L312.77,460.65 L315.45,462.06 L318.13,463.41 L320.81,464.69 L323.49,465.91 L326.17,467.06 L328.86,468.17 L331.54,469.22 L334.22,470.22 L336.90,471.17 L339.58,472.08 L342.26,472.94 L344.94,473.76 L347.63,474.54 L350.31,475.29 L352.99,475.99 L355.67,476.67 L358.35,477.31 L361.03,477.92 L363.71,478.50 L366.40,479.05 L369.08,479.58 L371.76,480.08 L374.44,480.56 L377.12,481.01 L379.80,481.45 L382.48,481.86 L385.17,482.25 L387.85,482.62 L390.53,482.98 L393.21,483.31 L395.89,483.64 L398.57,483.94 L401.25,484.23 L403.94,484.51 L406.62,484.78 L409.30,485.03 L411.98,485.27 L414.66,485.49 L417.34,485.71 L420.03,485.92 L422.71,486.11 L425.39,486.30" fill="none" stroke="#000" stroke-width="4.1" stroke-linejoin="round"/>
<rect x="257.2" y="386.1" width="176.0" height="120.39999999999998" fill="none" stroke="#262626" stroke-width="1.4" stroke-linejoin="round"/>
<line x1="264.50" y1="506.5" x2="264.50" y2="521.5" stroke="#000" stroke-width="2.1"/>
<text x="264.50" y="537.00" font-size="15.35" text-anchor="middle" fill="#000">0</text>
<line x1="306.25" y1="506.5" x2="306.25" y2="521.5" stroke="#000" stroke-width="2.1"/>
<text x="306.25" y="537.00" font-size="15.35" text-anchor="middle" fill="#000">3</text>
<line x1="348.00" y1="506.5" x2="348.00" y2="521.5" stroke="#000" stroke-width="2.1"/>
<text x="348.00" y="537.00" font-size="15.35" text-anchor="middle" fill="#000">6</text>
<line x1="389.75" y1="506.5" x2="389.75" y2="521.5" stroke="#000" stroke-width="2.1"/>
<text x="389.75" y="537.00" font-size="15.35" text-anchor="middle" fill="#000">9</text>
<line x1="431.50" y1="506.5" x2="431.50" y2="521.5" stroke="#000" stroke-width="2.1"/>
<text x="431.50" y="537.00" font-size="15.35" text-anchor="middle" fill="#000">12</text>
<text x="345.20" y="374.60" font-size="18.7" text-anchor="middle" fill="#000">h</text>
<rect x="445.7" y="386.1" width="176.00000000000006" height="120.39999999999998" fill="#fff"/>
<g fill="none" stroke="#0000ff" stroke-opacity="0.5" stroke-width="1.3"><circle cx="453.2" cy="390.8" r="2.85"/><circle cx="453.2" cy="398.6" r="2.85"/><circle cx="453.2" cy="401.6" r="2.85"/><circle cx="453.2" cy="403.6" r="2.85"/><circle cx="453.2" cy="405.6" r="2.85"/><circle cx="453.2" cy="407.2" r="2.85"/><circle cx="453.2" cy="408.6" r="2.85"/><circle cx="453.2" cy="410.2" r="2.85"/><circle cx="453.2" cy="412.2" r="2.85"/><circle cx="453.2" cy="414.6" r="2.85"/><circle cx="453.2" cy="416.0" r="2.85"/><circle cx="453.2" cy="417.7" r="2.85"/><circle cx="453.2" cy="419.4" r="2.85"/><circle cx="453.2" cy="421.5" r="2.85"/><circle cx="453.2" cy="423.5" r="2.85"/><circle cx="453.2" cy="425.5" r="2.85"/><circle cx="453.2" cy="426.8" r="2.85"/><circle cx="453.2" cy="429.0" r="2.85"/><circle cx="453.2" cy="435.6" r="2.85"/><circle cx="453.2" cy="437.6" r="2.85"/><circle cx="453.2" cy="439.3" r="2.85"/><circle cx="453.2" cy="441.0" r="2.85"/><circle cx="453.2" cy="449.3" r="2.85"/><circle cx="453.2" cy="452.6" r="2.85"/><circle cx="453.2" cy="401.8" r="2.85"/><circle cx="453.2" cy="403.8" r="2.85"/><circle cx="453.2" cy="405.8" r="2.85"/><circle cx="453.2" cy="407.2" r="2.85"/><circle cx="453.2" cy="408.6" r="2.85"/><circle cx="453.2" cy="423.5" r="2.85"/><circle cx="453.2" cy="425.5" r="2.85"/><circle cx="453.2" cy="426.8" r="2.85"/><circle cx="453.2" cy="421.5" r="2.85"/><circle cx="463.1" cy="405.6" r="2.85"/><circle cx="460.6" cy="412.7" r="2.85"/><circle cx="461.9" cy="416.0" r="2.85"/><circle cx="460.6" cy="418.2" r="2.85"/><circle cx="472.7" cy="414.1" r="2.85"/><circle cx="482.7" cy="417.9" r="2.85"/><circle cx="482.7" cy="420.2" r="2.85"/><circle cx="467.6" cy="421.4" r="2.85"/><circle cx="469.2" cy="423.2" r="2.85"/><circle cx="465.6" cy="424.8" r="2.85"/><circle cx="482.7" cy="425.2" r="2.85"/><circle cx="472.7" cy="428.2" r="2.85"/><circle cx="490.0" cy="427.0" r="2.85"/><circle cx="493.0" cy="432.3" r="2.85"/><circle cx="458.9" cy="435.6" r="2.85"/><circle cx="476.9" cy="435.1" r="2.85"/><circle cx="478.9" cy="437.6" r="2.85"/><circle cx="466.4" cy="436.8" r="2.85"/><circle cx="465.6" cy="439.3" r="2.85"/><circle cx="470.9" cy="441.0" r="2.85"/><circle cx="483.0" cy="439.3" r="2.85"/><circle cx="463.9" cy="444.8" r="2.85"/><circle cx="467.6" cy="445.9" r="2.85"/><circle cx="469.7" cy="445.9" r="2.85"/><circle cx="476.9" cy="443.5" r="2.85"/><circle cx="475.9" cy="450.9" r="2.85"/><circle cx="477.2" cy="451.8" r="2.85"/><circle cx="460.6" cy="451.8" r="2.85"/><circle cx="460.6" cy="455.6" r="2.85"/><circle cx="477.5" cy="455.6" r="2.85"/><circle cx="477.2" cy="457.6" r="2.85"/><circle cx="483.0" cy="462.6" r="2.85"/><circle cx="480.9" cy="450.1" r="2.85"/><circle cx="484.7" cy="456.2" r="2.85"/><circle cx="487.2" cy="456.2" r="2.85"/><circle cx="492.1" cy="457.6" r="2.85"/><circle cx="489.2" cy="447.9" r="2.85"/><circle cx="493.5" cy="449.8" r="2.85"/><circle cx="495.5" cy="451.8" r="2.85"/><circle cx="496.3" cy="459.7" r="2.85"/><circle cx="498.0" cy="443.1" r="2.85"/><circle cx="499.6" cy="441.5" r="2.85"/><circle cx="507.1" cy="441.5" r="2.85"/><circle cx="508.4" cy="438.5" r="2.85"/><circle cx="506.3" cy="444.3" r="2.85"/><circle cx="508.8" cy="445.1" r="2.85"/><circle cx="507.4" cy="447.3" r="2.85"/><circle cx="509.1" cy="451.8" r="2.85"/><circle cx="505.1" cy="453.4" r="2.85"/><circle cx="512.9" cy="453.4" r="2.85"/><circle cx="518.7" cy="450.1" r="2.85"/><circle cx="524.5" cy="452.1" r="2.85"/><circle cx="512.1" cy="458.4" r="2.85"/><circle cx="513.4" cy="460.4" r="2.85"/><circle cx="519.9" cy="459.2" r="2.85"/><circle cx="524.5" cy="460.1" r="2.85"/><circle cx="502.9" cy="466.4" r="2.85"/><circle cx="502.6" cy="466.7" r="2.85"/><circle cx="512.1" cy="466.4" r="2.85"/><circle cx="510.4" cy="468.4" r="2.85"/><circle cx="510.1" cy="470.4" r="2.85"/><circle cx="514.2" cy="473.0" r="2.85"/><circle cx="516.6" cy="475.0" r="2.85"/><circle cx="511.6" cy="478.8" r="2.85"/><circle cx="512.1" cy="479.2" r="2.85"/><circle cx="499.1" cy="473.0" r="2.85"/><circle cx="489.3" cy="478.3" r="2.85"/><circle cx="500.1" cy="481.3" r="2.85"/><circle cx="504.3" cy="481.2" r="2.85"/><circle cx="500.5" cy="487.8" r="2.85"/><circle cx="524.5" cy="482.5" r="2.85"/><circle cx="530.3" cy="489.6" r="2.85"/><circle cx="518.4" cy="463.4" r="2.85"/><circle cx="522.9" cy="465.0" r="2.85"/><circle cx="525.4" cy="471.7" r="2.85"/><circle cx="529.5" cy="468.0" r="2.85"/><circle cx="530.3" cy="473.3" r="2.85"/><circle cx="531.2" cy="477.5" r="2.85"/><circle cx="535.3" cy="478.3" r="2.85"/><circle cx="534.8" cy="459.2" r="2.85"/><circle cx="539.0" cy="453.4" r="2.85"/><circle cx="548.6" cy="453.4" r="2.85"/><circle cx="548.6" cy="460.1" r="2.85"/><circle cx="540.0" cy="466.7" r="2.85"/><circle cx="538.7" cy="468.4" r="2.85"/><circle cx="545.3" cy="467.5" r="2.85"/><circle cx="544.0" cy="470.0" r="2.85"/><circle cx="551.9" cy="465.9" r="2.85"/><circle cx="553.6" cy="467.0" r="2.85"/><circle cx="558.9" cy="472.8" r="2.85"/><circle cx="542.0" cy="478.0" r="2.85"/><circle cx="540.6" cy="481.7" r="2.85"/><circle cx="546.6" cy="480.8" r="2.85"/><circle cx="547.3" cy="481.7" r="2.85"/><circle cx="547.8" cy="486.6" r="2.85"/><circle cx="554.4" cy="484.1" r="2.85"/><circle cx="553.6" cy="487.0" r="2.85"/><circle cx="558.9" cy="486.1" r="2.85"/><circle cx="560.2" cy="486.6" r="2.85"/><circle cx="561.9" cy="481.7" r="2.85"/><circle cx="562.7" cy="490.5" r="2.85"/><circle cx="568.5" cy="481.7" r="2.85"/><circle cx="576.8" cy="482.5" r="2.85"/><circle cx="589.0" cy="471.7" r="2.85"/><circle cx="589.0" cy="474.2" r="2.85"/><circle cx="596.3" cy="471.7" r="2.85"/><circle cx="547.8" cy="501.1" r="2.85"/><circle cx="565.6" cy="499.4" r="2.85"/><circle cx="606.7" cy="482.5" r="2.85"/><circle cx="606.7" cy="485.8" r="2.85"/><circle cx="614.2" cy="487.0" r="2.85"/></g>
<path d="M453.20,418.70 L455.87,421.71 L458.54,424.60 L461.21,427.36 L463.88,430.00 L466.55,432.53 L469.22,434.96 L471.89,437.28 L474.56,439.51 L477.23,441.64 L479.90,443.68 L482.57,445.64 L485.24,447.51 L487.91,449.30 L490.58,451.02 L493.25,452.67 L495.92,454.24 L498.59,455.75 L501.26,457.20 L503.93,458.58 L506.60,459.91 L509.27,461.18 L511.94,462.40 L514.61,463.56 L517.28,464.68 L519.95,465.75 L522.61,466.77 L525.28,467.75 L527.95,468.69 L530.62,469.59 L533.29,470.45 L535.96,471.28 L538.63,472.07 L541.30,472.82 L543.97,473.55 L546.64,474.24 L549.31,474.91 L551.98,475.55 L554.65,476.16 L557.32,476.74 L559.99,477.30 L562.66,477.84 L565.33,478.35 L568.00,478.84 L570.67,479.31 L573.34,479.76 L576.01,480.20 L578.68,480.61 L581.35,481.01 L584.02,481.39 L586.69,481.75 L589.36,482.10 L592.03,482.43 L594.70,482.75 L597.37,483.06 L600.04,483.35 L602.71,483.63 L605.38,483.90 L608.05,484.16 L610.72,484.40 L613.39,484.64" fill="none" stroke="#000" stroke-width="4.1" stroke-linejoin="round"/>
<rect x="445.7" y="386.1" width="176.00000000000006" height="120.39999999999998" fill="none" stroke="#262626" stroke-width="1.4" stroke-linejoin="round"/>
<line x1="453.20" y1="506.5" x2="453.20" y2="521.5" stroke="#000" stroke-width="2.1"/>
<text x="453.20" y="537.00" font-size="15.35" text-anchor="middle" fill="#000">0</text>
<line x1="497.25" y1="506.5" x2="497.25" y2="521.5" stroke="#000" stroke-width="2.1"/>
<text x="497.25" y="537.00" font-size="15.35" text-anchor="middle" fill="#000">200</text>
<line x1="541.30" y1="506.5" x2="541.30" y2="521.5" stroke="#000" stroke-width="2.1"/>
<text x="541.30" y="537.00" font-size="15.35" text-anchor="middle" fill="#000">400</text>
<line x1="585.35" y1="506.5" x2="585.35" y2="521.5" stroke="#000" stroke-width="2.1"/>
<text x="585.35" y="537.00" font-size="15.35" text-anchor="middle" fill="#000">600</text>
<text x="533.70" y="374.60" font-size="18.7" text-anchor="middle" fill="#000">t</text>
<rect x="634.2" y="386.1" width="176.0" height="120.39999999999998" fill="#fff"/>
<g fill="none" stroke="#0000ff" stroke-opacity="0.5" stroke-width="1.3"><circle cx="641.8" cy="390.8" r="2.85"/><circle cx="641.8" cy="398.6" r="2.85"/><circle cx="641.8" cy="401.6" r="2.85"/><circle cx="641.8" cy="403.6" r="2.85"/><circle cx="641.8" cy="405.6" r="2.85"/><circle cx="641.8" cy="407.2" r="2.85"/><circle cx="641.8" cy="408.6" r="2.85"/><circle cx="641.8" cy="410.2" r="2.85"/><circle cx="641.8" cy="412.2" r="2.85"/><circle cx="641.8" cy="414.6" r="2.85"/><circle cx="641.8" cy="416.0" r="2.85"/><circle cx="641.8" cy="417.7" r="2.85"/><circle cx="641.8" cy="419.4" r="2.85"/><circle cx="641.8" cy="421.5" r="2.85"/><circle cx="641.8" cy="423.5" r="2.85"/><circle cx="641.8" cy="425.5" r="2.85"/><circle cx="641.8" cy="426.8" r="2.85"/><circle cx="641.8" cy="429.0" r="2.85"/><circle cx="641.8" cy="435.6" r="2.85"/><circle cx="641.8" cy="437.6" r="2.85"/><circle cx="641.8" cy="439.3" r="2.85"/><circle cx="641.8" cy="441.0" r="2.85"/><circle cx="641.8" cy="449.3" r="2.85"/><circle cx="641.8" cy="452.6" r="2.85"/><circle cx="641.8" cy="401.8" r="2.85"/><circle cx="641.8" cy="403.8" r="2.85"/><circle cx="641.8" cy="405.8" r="2.85"/><circle cx="641.8" cy="407.2" r="2.85"/><circle cx="641.8" cy="408.6" r="2.85"/><circle cx="641.8" cy="423.5" r="2.85"/><circle cx="641.8" cy="425.5" r="2.85"/><circle cx="641.8" cy="426.8" r="2.85"/><circle cx="641.8" cy="421.5" r="2.85"/><circle cx="649.9" cy="405.6" r="2.85"/><circle cx="647.9" cy="412.7" r="2.85"/><circle cx="647.1" cy="416.0" r="2.85"/><circle cx="646.6" cy="418.2" r="2.85"/><circle cx="657.1" cy="414.1" r="2.85"/><circle cx="664.9" cy="417.9" r="2.85"/><circle cx="664.9" cy="420.2" r="2.85"/><circle cx="662.0" cy="421.4" r="2.85"/><circle cx="660.9" cy="425.2" r="2.85"/><circle cx="666.2" cy="427.3" r="2.85"/><circle cx="660.9" cy="428.2" r="2.85"/><circle cx="652.1" cy="423.5" r="2.85"/><circle cx="654.6" cy="424.8" r="2.85"/><circle cx="685.8" cy="432.2" r="2.85"/><circle cx="647.4" cy="435.6" r="2.85"/><circle cx="650.9" cy="436.8" r="2.85"/><circle cx="667.9" cy="436.0" r="2.85"/><circle cx="669.9" cy="438.1" r="2.85"/><circle cx="662.9" cy="435.1" r="2.85"/><circle cx="658.7" cy="441.0" r="2.85"/><circle cx="652.9" cy="444.8" r="2.85"/><circle cx="657.6" cy="445.9" r="2.85"/><circle cx="661.2" cy="445.4" r="2.85"/><circle cx="662.0" cy="445.9" r="2.85"/><circle cx="663.7" cy="450.9" r="2.85"/><circle cx="664.5" cy="451.8" r="2.85"/><circle cx="649.3" cy="451.8" r="2.85"/><circle cx="649.6" cy="455.6" r="2.85"/><circle cx="659.6" cy="455.9" r="2.85"/><circle cx="667.9" cy="457.6" r="2.85"/><circle cx="674.2" cy="455.9" r="2.85"/><circle cx="674.5" cy="462.6" r="2.85"/><circle cx="676.5" cy="439.3" r="2.85"/><circle cx="680.3" cy="441.8" r="2.85"/><circle cx="687.8" cy="439.3" r="2.85"/><circle cx="687.0" cy="442.6" r="2.85"/><circle cx="688.1" cy="444.3" r="2.85"/><circle cx="692.8" cy="443.1" r="2.85"/><circle cx="699.4" cy="443.1" r="2.85"/><circle cx="705.7" cy="442.6" r="2.85"/><circle cx="701.1" cy="447.3" r="2.85"/><circle cx="685.3" cy="447.6" r="2.85"/><circle cx="686.1" cy="449.3" r="2.85"/><circle cx="689.5" cy="450.9" r="2.85"/><circle cx="691.1" cy="452.6" r="2.85"/><circle cx="682.8" cy="455.1" r="2.85"/><circle cx="680.8" cy="456.4" r="2.85"/><circle cx="687.0" cy="459.7" r="2.85"/><circle cx="699.1" cy="453.4" r="2.85"/><circle cx="699.4" cy="458.4" r="2.85"/><circle cx="704.4" cy="460.4" r="2.85"/><circle cx="694.4" cy="460.9" r="2.85"/><circle cx="699.4" cy="464.2" r="2.85"/><circle cx="695.3" cy="465.9" r="2.85"/><circle cx="692.4" cy="465.9" r="2.85"/><circle cx="682.8" cy="466.4" r="2.85"/><circle cx="683.1" cy="466.7" r="2.85"/><circle cx="691.1" cy="470.0" r="2.85"/><circle cx="699.9" cy="478.3" r="2.85"/><circle cx="711.0" cy="453.4" r="2.85"/><circle cx="713.5" cy="453.7" r="2.85"/><circle cx="717.2" cy="450.1" r="2.85"/><circle cx="723.0" cy="451.8" r="2.85"/><circle cx="721.8" cy="453.4" r="2.85"/><circle cx="723.5" cy="458.4" r="2.85"/><circle cx="721.8" cy="460.4" r="2.85"/><circle cx="717.2" cy="465.0" r="2.85"/><circle cx="712.7" cy="468.4" r="2.85"/><circle cx="713.5" cy="470.0" r="2.85"/><circle cx="708.9" cy="473.0" r="2.85"/><circle cx="712.7" cy="475.0" r="2.85"/><circle cx="713.0" cy="479.2" r="2.85"/><circle cx="716.0" cy="475.0" r="2.85"/><circle cx="719.0" cy="473.3" r="2.85"/><circle cx="721.0" cy="474.2" r="2.85"/><circle cx="719.0" cy="481.3" r="2.85"/><circle cx="725.5" cy="481.2" r="2.85"/><circle cx="719.0" cy="487.8" r="2.85"/><circle cx="731.0" cy="465.0" r="2.85"/><circle cx="731.3" cy="468.4" r="2.85"/><circle cx="731.8" cy="479.2" r="2.85"/><circle cx="729.3" cy="475.0" r="2.85"/><circle cx="741.3" cy="459.2" r="2.85"/><circle cx="747.9" cy="466.7" r="2.85"/><circle cx="744.3" cy="468.0" r="2.85"/><circle cx="741.8" cy="470.0" r="2.85"/><circle cx="745.9" cy="472.5" r="2.85"/><circle cx="736.0" cy="478.3" r="2.85"/><circle cx="740.1" cy="480.5" r="2.85"/><circle cx="740.9" cy="481.2" r="2.85"/><circle cx="745.1" cy="480.8" r="2.85"/><circle cx="746.3" cy="482.5" r="2.85"/><circle cx="748.4" cy="481.7" r="2.85"/><circle cx="751.2" cy="481.2" r="2.85"/><circle cx="754.2" cy="485.0" r="2.85"/><circle cx="751.7" cy="489.6" r="2.85"/><circle cx="736.3" cy="490.5" r="2.85"/><circle cx="758.9" cy="467.0" r="2.85"/><circle cx="765.8" cy="471.7" r="2.85"/><circle cx="765.8" cy="473.8" r="2.85"/><circle cx="770.3" cy="471.7" r="2.85"/><circle cx="760.9" cy="478.0" r="2.85"/><circle cx="760.9" cy="481.7" r="2.85"/><circle cx="771.7" cy="486.6" r="2.85"/><circle cx="777.5" cy="487.0" r="2.85"/><circle cx="783.3" cy="486.6" r="2.85"/><circle cx="783.3" cy="487.5" r="2.85"/><circle cx="782.1" cy="501.1" r="2.85"/><circle cx="802.7" cy="499.4" r="2.85"/><circle cx="798.2" cy="482.5" r="2.85"/><circle cx="798.2" cy="485.3" r="2.85"/><circle cx="802.4" cy="487.0" r="2.85"/></g>
<path d="M641.80,418.70 L644.48,421.46 L647.15,424.11 L649.83,426.66 L652.51,429.11 L655.18,431.46 L657.86,433.73 L660.54,435.90 L663.21,438.00 L665.89,440.01 L668.56,441.94 L671.24,443.80 L673.92,445.59 L676.59,447.30 L679.27,448.95 L681.95,450.54 L684.62,452.07 L687.30,453.53 L689.98,454.95 L692.65,456.30 L695.33,457.60 L698.01,458.86 L700.68,460.06 L703.36,461.22 L706.04,462.33 L708.71,463.40 L711.39,464.43 L714.06,465.42 L716.74,466.37 L719.42,467.28 L722.09,468.16 L724.77,469.01 L727.45,469.82 L730.12,470.60 L732.80,471.35 L735.48,472.07 L738.15,472.76 L740.83,473.43 L743.51,474.07 L746.18,474.69 L748.86,475.28 L751.54,475.85 L754.21,476.40 L756.89,476.92 L759.56,477.43 L762.24,477.91 L764.92,478.38 L767.59,478.83 L770.27,479.26 L772.95,479.68 L775.62,480.08 L778.30,480.46 L780.98,480.83 L783.65,481.18 L786.33,481.53 L789.01,481.85 L791.68,482.17 L794.36,482.47 L797.04,482.76 L799.71,483.04 L802.39,483.31" fill="none" stroke="#000" stroke-width="4.1" stroke-linejoin="round"/>
<rect x="634.2" y="386.1" width="176.0" height="120.39999999999998" fill="none" stroke="#262626" stroke-width="1.4" stroke-linejoin="round"/>
<line x1="641.80" y1="506.5" x2="641.80" y2="521.5" stroke="#000" stroke-width="2.1"/>
<text x="641.80" y="537.00" font-size="15.35" text-anchor="middle" fill="#000">0</text>
<line x1="675.36" y1="506.5" x2="675.36" y2="521.5" stroke="#000" stroke-width="2.1"/>
<text x="675.36" y="537.00" font-size="15.35" text-anchor="middle" fill="#000">25</text>
<line x1="708.92" y1="506.5" x2="708.92" y2="521.5" stroke="#000" stroke-width="2.1"/>
<text x="708.92" y="537.00" font-size="15.35" text-anchor="middle" fill="#000">50</text>
<line x1="742.48" y1="506.5" x2="742.48" y2="521.5" stroke="#000" stroke-width="2.1"/>
<text x="742.48" y="537.00" font-size="15.35" text-anchor="middle" fill="#000">75</text>
<line x1="776.04" y1="506.5" x2="776.04" y2="521.5" stroke="#000" stroke-width="2.1"/>
<text x="776.04" y="537.00" font-size="15.35" text-anchor="middle" fill="#000">100</text>
<line x1="809.60" y1="506.5" x2="809.60" y2="521.5" stroke="#000" stroke-width="2.1"/>
<text x="809.60" y="537.00" font-size="15.35" text-anchor="middle" fill="#000">125</text>
<text x="722.20" y="374.60" font-size="18.7" text-anchor="middle" fill="#000">w</text>
<rect x="68.7" y="591.0" width="176.0" height="120.0" fill="#fff"/>
<g fill="none" stroke="#0000ff" stroke-opacity="0.5" stroke-width="1.3"><circle cx="76.3" cy="595.8" r="2.85"/><circle cx="76.3" cy="603.6" r="2.85"/><circle cx="76.3" cy="606.6" r="2.85"/><circle cx="76.3" cy="608.6" r="2.85"/><circle cx="76.3" cy="610.6" r="2.85"/><circle cx="76.3" cy="612.2" r="2.85"/><circle cx="76.3" cy="613.6" r="2.85"/><circle cx="76.3" cy="615.2" r="2.85"/><circle cx="76.3" cy="617.2" r="2.85"/><circle cx="76.3" cy="619.6" r="2.85"/><circle cx="76.3" cy="621.0" r="2.85"/><circle cx="76.3" cy="622.7" r="2.85"/><circle cx="76.3" cy="624.4" r="2.85"/><circle cx="76.3" cy="626.5" r="2.85"/><circle cx="76.3" cy="628.5" r="2.85"/><circle cx="76.3" cy="630.5" r="2.85"/><circle cx="76.3" cy="631.8" r="2.85"/><circle cx="76.3" cy="634.0" r="2.85"/><circle cx="76.3" cy="640.6" r="2.85"/><circle cx="76.3" cy="642.6" r="2.85"/><circle cx="76.3" cy="644.3" r="2.85"/><circle cx="76.3" cy="646.0" r="2.85"/><circle cx="76.3" cy="654.3" r="2.85"/><circle cx="76.3" cy="657.6" r="2.85"/><circle cx="76.3" cy="606.8" r="2.85"/><circle cx="76.3" cy="608.8" r="2.85"/><circle cx="76.3" cy="610.8" r="2.85"/><circle cx="76.3" cy="612.2" r="2.85"/><circle cx="76.3" cy="613.6" r="2.85"/><circle cx="76.3" cy="628.5" r="2.85"/><circle cx="76.3" cy="630.5" r="2.85"/><circle cx="76.3" cy="631.8" r="2.85"/><circle cx="76.3" cy="626.5" r="2.85"/><circle cx="82.8" cy="610.6" r="2.85"/><circle cx="81.6" cy="617.7" r="2.85"/><circle cx="82.8" cy="621.0" r="2.85"/><circle cx="82.3" cy="623.2" r="2.85"/><circle cx="89.4" cy="619.1" r="2.85"/><circle cx="96.0" cy="622.9" r="2.85"/><circle cx="96.0" cy="625.2" r="2.85"/><circle cx="91.9" cy="626.4" r="2.85"/><circle cx="100.2" cy="630.2" r="2.85"/><circle cx="104.8" cy="632.0" r="2.85"/><circle cx="108.5" cy="637.2" r="2.85"/><circle cx="86.9" cy="628.5" r="2.85"/><circle cx="88.6" cy="632.7" r="2.85"/><circle cx="89.4" cy="633.2" r="2.85"/><circle cx="81.1" cy="640.6" r="2.85"/><circle cx="87.7" cy="641.8" r="2.85"/><circle cx="93.6" cy="640.1" r="2.85"/><circle cx="98.5" cy="642.1" r="2.85"/><circle cx="103.5" cy="644.3" r="2.85"/><circle cx="107.7" cy="646.5" r="2.85"/><circle cx="114.0" cy="643.5" r="2.85"/><circle cx="113.5" cy="646.8" r="2.85"/><circle cx="118.5" cy="647.1" r="2.85"/><circle cx="113.5" cy="650.1" r="2.85"/><circle cx="90.2" cy="646.0" r="2.85"/><circle cx="85.3" cy="649.8" r="2.85"/><circle cx="88.6" cy="650.9" r="2.85"/><circle cx="91.6" cy="650.9" r="2.85"/><circle cx="100.2" cy="650.9" r="2.85"/><circle cx="94.9" cy="655.9" r="2.85"/><circle cx="95.2" cy="656.8" r="2.85"/><circle cx="82.8" cy="656.8" r="2.85"/><circle cx="82.3" cy="660.6" r="2.85"/><circle cx="101.0" cy="660.1" r="2.85"/><circle cx="103.5" cy="660.4" r="2.85"/><circle cx="106.8" cy="660.1" r="2.85"/><circle cx="107.7" cy="662.1" r="2.85"/><circle cx="101.9" cy="667.6" r="2.85"/><circle cx="110.2" cy="653.4" r="2.85"/><circle cx="115.1" cy="656.8" r="2.85"/><circle cx="120.5" cy="651.8" r="2.85"/><circle cx="122.6" cy="658.7" r="2.85"/><circle cx="127.3" cy="655.1" r="2.85"/><circle cx="130.9" cy="648.5" r="2.85"/><circle cx="131.8" cy="656.8" r="2.85"/><circle cx="135.1" cy="658.4" r="2.85"/><circle cx="141.7" cy="658.4" r="2.85"/><circle cx="132.6" cy="659.2" r="2.85"/><circle cx="128.4" cy="662.6" r="2.85"/><circle cx="131.8" cy="665.1" r="2.85"/><circle cx="137.6" cy="666.4" r="2.85"/><circle cx="141.7" cy="664.2" r="2.85"/><circle cx="141.7" cy="665.1" r="2.85"/><circle cx="118.5" cy="670.9" r="2.85"/><circle cx="118.1" cy="671.4" r="2.85"/><circle cx="125.1" cy="670.0" r="2.85"/><circle cx="124.3" cy="675.0" r="2.85"/><circle cx="119.3" cy="678.0" r="2.85"/><circle cx="115.6" cy="683.3" r="2.85"/><circle cx="124.3" cy="683.8" r="2.85"/><circle cx="128.4" cy="680.0" r="2.85"/><circle cx="131.8" cy="679.2" r="2.85"/><circle cx="133.4" cy="680.0" r="2.85"/><circle cx="136.7" cy="677.5" r="2.85"/><circle cx="134.2" cy="673.4" r="2.85"/><circle cx="133.4" cy="674.2" r="2.85"/><circle cx="128.1" cy="686.2" r="2.85"/><circle cx="131.8" cy="686.2" r="2.85"/><circle cx="135.1" cy="684.2" r="2.85"/><circle cx="128.1" cy="692.5" r="2.85"/><circle cx="143.4" cy="679.2" r="2.85"/><circle cx="147.5" cy="682.5" r="2.85"/><circle cx="144.2" cy="687.8" r="2.85"/><circle cx="151.7" cy="686.7" r="2.85"/><circle cx="155.0" cy="684.2" r="2.85"/><circle cx="157.5" cy="686.2" r="2.85"/><circle cx="149.2" cy="694.1" r="2.85"/><circle cx="146.7" cy="671.7" r="2.85"/><circle cx="150.9" cy="672.5" r="2.85"/><circle cx="155.8" cy="670.9" r="2.85"/><circle cx="155.8" cy="671.7" r="2.85"/><circle cx="151.7" cy="680.8" r="2.85"/><circle cx="164.1" cy="669.7" r="2.85"/><circle cx="163.3" cy="673.4" r="2.85"/><circle cx="163.3" cy="675.0" r="2.85"/><circle cx="162.5" cy="686.7" r="2.85"/><circle cx="163.0" cy="691.6" r="2.85"/><circle cx="167.5" cy="686.7" r="2.85"/><circle cx="168.0" cy="691.6" r="2.85"/><circle cx="171.6" cy="692.0" r="2.85"/><circle cx="172.9" cy="691.6" r="2.85"/><circle cx="168.3" cy="695.5" r="2.85"/><circle cx="170.8" cy="681.7" r="2.85"/><circle cx="175.4" cy="677.8" r="2.85"/><circle cx="182.9" cy="686.2" r="2.85"/><circle cx="189.1" cy="690.0" r="2.85"/><circle cx="195.4" cy="685.8" r="2.85"/><circle cx="199.8" cy="676.7" r="2.85"/><circle cx="199.8" cy="678.8" r="2.85"/><circle cx="204.3" cy="676.7" r="2.85"/><circle cx="208.2" cy="687.1" r="2.85"/><circle cx="168.3" cy="706.1" r="2.85"/><circle cx="182.4" cy="704.4" r="2.85"/><circle cx="232.2" cy="687.5" r="2.85"/><circle cx="232.2" cy="690.0" r="2.85"/><circle cx="237.2" cy="691.6" r="2.85"/></g>
<path d="M76.30,623.21 L78.97,626.69 L81.64,630.01 L84.30,633.17 L86.97,636.17 L89.64,639.03 L92.31,641.74 L94.98,644.33 L97.65,646.79 L100.31,649.13 L102.98,651.36 L105.65,653.47 L108.32,655.49 L110.99,657.40 L113.65,659.23 L116.32,660.96 L118.99,662.61 L121.66,664.18 L124.33,665.68 L126.99,667.10 L129.66,668.45 L132.33,669.74 L135.00,670.96 L137.67,672.13 L140.34,673.23 L143.00,674.29 L145.67,675.29 L148.34,676.24 L151.01,677.15 L153.68,678.01 L156.34,678.84 L159.01,679.62 L161.68,680.36 L164.35,681.07 L167.02,681.74 L169.68,682.38 L172.35,682.99 L175.02,683.57 L177.69,684.12 L180.36,684.64 L183.03,685.14 L185.69,685.62 L188.36,686.07 L191.03,686.50 L193.70,686.91 L196.37,687.30 L199.03,687.67 L201.70,688.02 L204.37,688.35 L207.04,688.67 L209.71,688.97 L212.37,689.26 L215.04,689.54 L217.71,689.80 L220.38,690.05 L223.05,690.28 L225.72,690.51 L228.38,690.72 L231.05,690.92 L233.72,691.12 L236.39,691.30" fill="none" stroke="#000" stroke-width="4.1" stroke-linejoin="round"/>
<rect x="68.7" y="591.0" width="176.0" height="120.0" fill="none" stroke="#262626" stroke-width="1.4" stroke-linejoin="round"/>
<line x1="76.30" y1="711.0" x2="76.30" y2="726.0" stroke="#000" stroke-width="2.1"/>
<text x="76.30" y="741.50" font-size="15.35" text-anchor="middle" fill="#000">0</text>
<line x1="119.50" y1="711.0" x2="119.50" y2="726.0" stroke="#000" stroke-width="2.1"/>
<text x="119.50" y="741.50" font-size="15.35" text-anchor="middle" fill="#000">50</text>
<line x1="162.70" y1="711.0" x2="162.70" y2="726.0" stroke="#000" stroke-width="2.1"/>
<text x="162.70" y="741.50" font-size="15.35" text-anchor="middle" fill="#000">100</text>
<line x1="205.90" y1="711.0" x2="205.90" y2="726.0" stroke="#000" stroke-width="2.1"/>
<text x="205.90" y="741.50" font-size="15.35" text-anchor="middle" fill="#000">150</text>
<line x1="53.7" y1="694.90" x2="68.7" y2="694.90" stroke="#000" stroke-width="2.1"/>
<text x="49.50" y="701.49" font-size="18.4" text-anchor="end" fill="#000">0</text>
<line x1="53.7" y1="661.90" x2="68.7" y2="661.90" stroke="#000" stroke-width="2.1"/>
<text x="49.50" y="668.49" font-size="18.4" text-anchor="end" fill="#000">10</text>
<line x1="53.7" y1="628.90" x2="68.7" y2="628.90" stroke="#000" stroke-width="2.1"/>
<text x="49.50" y="635.49" font-size="18.4" text-anchor="end" fill="#000">20</text>
<line x1="53.7" y1="595.90" x2="68.7" y2="595.90" stroke="#000" stroke-width="2.1"/>
<text x="49.50" y="602.49" font-size="18.4" text-anchor="end" fill="#000">30</text>
<text x="156.70" y="579.50" font-size="18.7" text-anchor="middle" fill="#000">ht</text>
<rect x="257.2" y="591.0" width="176.0" height="120.0" fill="#fff"/>
<g fill="none" stroke="#0000ff" stroke-opacity="0.5" stroke-width="1.3"><circle cx="264.9" cy="595.8" r="2.85"/><circle cx="264.9" cy="603.6" r="2.85"/><circle cx="264.9" cy="606.6" r="2.85"/><circle cx="264.9" cy="608.6" r="2.85"/><circle cx="264.9" cy="610.6" r="2.85"/><circle cx="264.9" cy="612.2" r="2.85"/><circle cx="264.9" cy="613.6" r="2.85"/><circle cx="264.9" cy="615.2" r="2.85"/><circle cx="264.9" cy="617.2" r="2.85"/><circle cx="264.9" cy="619.6" r="2.85"/><circle cx="264.9" cy="621.0" r="2.85"/><circle cx="264.9" cy="622.7" r="2.85"/><circle cx="264.9" cy="624.4" r="2.85"/><circle cx="264.9" cy="626.5" r="2.85"/><circle cx="264.9" cy="628.5" r="2.85"/><circle cx="264.9" cy="630.5" r="2.85"/><circle cx="264.9" cy="631.8" r="2.85"/><circle cx="264.9" cy="634.0" r="2.85"/><circle cx="264.9" cy="640.6" r="2.85"/><circle cx="264.9" cy="642.6" r="2.85"/><circle cx="264.9" cy="644.3" r="2.85"/><circle cx="264.9" cy="646.0" r="2.85"/><circle cx="264.9" cy="654.3" r="2.85"/><circle cx="264.9" cy="657.6" r="2.85"/><circle cx="264.9" cy="606.8" r="2.85"/><circle cx="264.9" cy="608.8" r="2.85"/><circle cx="264.9" cy="610.8" r="2.85"/><circle cx="264.9" cy="612.2" r="2.85"/><circle cx="264.9" cy="613.6" r="2.85"/><circle cx="264.9" cy="628.5" r="2.85"/><circle cx="264.9" cy="630.5" r="2.85"/><circle cx="264.9" cy="631.8" r="2.85"/><circle cx="264.9" cy="626.5" r="2.85"/><circle cx="269.6" cy="610.6" r="2.85"/><circle cx="268.4" cy="617.7" r="2.85"/><circle cx="273.9" cy="619.1" r="2.85"/><circle cx="268.9" cy="622.7" r="2.85"/><circle cx="278.4" cy="622.9" r="2.85"/><circle cx="278.4" cy="625.2" r="2.85"/><circle cx="283.9" cy="626.4" r="2.85"/><circle cx="271.8" cy="627.7" r="2.85"/><circle cx="281.2" cy="631.8" r="2.85"/><circle cx="281.7" cy="632.7" r="2.85"/><circle cx="299.2" cy="637.2" r="2.85"/><circle cx="268.9" cy="640.6" r="2.85"/><circle cx="270.9" cy="641.8" r="2.85"/><circle cx="287.2" cy="640.5" r="2.85"/><circle cx="289.5" cy="641.8" r="2.85"/><circle cx="292.2" cy="643.1" r="2.85"/><circle cx="295.0" cy="644.3" r="2.85"/><circle cx="289.2" cy="645.1" r="2.85"/><circle cx="275.9" cy="646.0" r="2.85"/><circle cx="293.4" cy="649.3" r="2.85"/><circle cx="271.8" cy="649.8" r="2.85"/><circle cx="276.7" cy="650.9" r="2.85"/><circle cx="278.4" cy="650.9" r="2.85"/><circle cx="283.4" cy="650.4" r="2.85"/><circle cx="280.1" cy="655.9" r="2.85"/><circle cx="269.6" cy="656.8" r="2.85"/><circle cx="270.6" cy="660.6" r="2.85"/><circle cx="276.7" cy="660.9" r="2.85"/><circle cx="282.9" cy="662.1" r="2.85"/><circle cx="288.4" cy="660.9" r="2.85"/><circle cx="290.9" cy="660.1" r="2.85"/><circle cx="292.2" cy="656.8" r="2.85"/><circle cx="290.0" cy="667.6" r="2.85"/><circle cx="297.5" cy="652.6" r="2.85"/><circle cx="299.5" cy="654.3" r="2.85"/><circle cx="305.5" cy="648.0" r="2.85"/><circle cx="311.1" cy="647.1" r="2.85"/><circle cx="310.0" cy="651.8" r="2.85"/><circle cx="308.3" cy="654.3" r="2.85"/><circle cx="309.1" cy="656.8" r="2.85"/><circle cx="305.5" cy="659.2" r="2.85"/><circle cx="311.6" cy="658.7" r="2.85"/><circle cx="314.9" cy="658.4" r="2.85"/><circle cx="318.6" cy="655.1" r="2.85"/><circle cx="322.4" cy="648.5" r="2.85"/><circle cx="322.4" cy="656.8" r="2.85"/><circle cx="322.4" cy="658.4" r="2.85"/><circle cx="322.1" cy="664.7" r="2.85"/><circle cx="325.7" cy="666.4" r="2.85"/><circle cx="330.4" cy="663.1" r="2.85"/><circle cx="335.4" cy="664.2" r="2.85"/><circle cx="296.7" cy="670.9" r="2.85"/><circle cx="297.0" cy="671.4" r="2.85"/><circle cx="302.8" cy="670.0" r="2.85"/><circle cx="304.1" cy="671.7" r="2.85"/><circle cx="307.5" cy="673.4" r="2.85"/><circle cx="302.8" cy="675.0" r="2.85"/><circle cx="309.1" cy="669.2" r="2.85"/><circle cx="305.8" cy="665.1" r="2.85"/><circle cx="312.5" cy="664.2" r="2.85"/><circle cx="314.9" cy="673.4" r="2.85"/><circle cx="317.4" cy="673.4" r="2.85"/><circle cx="316.6" cy="678.0" r="2.85"/><circle cx="320.8" cy="678.0" r="2.85"/><circle cx="317.4" cy="680.8" r="2.85"/><circle cx="318.3" cy="684.2" r="2.85"/><circle cx="321.1" cy="683.3" r="2.85"/><circle cx="324.9" cy="680.0" r="2.85"/><circle cx="323.2" cy="677.5" r="2.85"/><circle cx="331.6" cy="673.4" r="2.85"/><circle cx="335.4" cy="674.2" r="2.85"/><circle cx="330.7" cy="680.0" r="2.85"/><circle cx="331.9" cy="685.0" r="2.85"/><circle cx="335.7" cy="682.5" r="2.85"/><circle cx="336.5" cy="684.2" r="2.85"/><circle cx="337.4" cy="686.2" r="2.85"/><circle cx="339.0" cy="683.3" r="2.85"/><circle cx="343.2" cy="686.2" r="2.85"/><circle cx="337.4" cy="692.5" r="2.85"/><circle cx="337.0" cy="695.5" r="2.85"/><circle cx="341.5" cy="671.4" r="2.85"/><circle cx="345.7" cy="671.7" r="2.85"/><circle cx="348.2" cy="671.7" r="2.85"/><circle cx="344.8" cy="675.0" r="2.85"/><circle cx="351.5" cy="686.2" r="2.85"/><circle cx="352.0" cy="687.5" r="2.85"/><circle cx="356.5" cy="686.7" r="2.85"/><circle cx="356.0" cy="694.1" r="2.85"/><circle cx="357.0" cy="677.5" r="2.85"/><circle cx="363.6" cy="677.5" r="2.85"/><circle cx="373.9" cy="669.5" r="2.85"/><circle cx="373.9" cy="673.4" r="2.85"/><circle cx="374.7" cy="675.9" r="2.85"/><circle cx="372.2" cy="676.7" r="2.85"/><circle cx="371.9" cy="679.2" r="2.85"/><circle cx="376.7" cy="682.0" r="2.85"/><circle cx="382.7" cy="685.0" r="2.85"/><circle cx="369.8" cy="691.6" r="2.85"/><circle cx="373.9" cy="692.0" r="2.85"/><circle cx="377.6" cy="691.6" r="2.85"/><circle cx="378.6" cy="691.6" r="2.85"/><circle cx="388.8" cy="690.3" r="2.85"/><circle cx="395.8" cy="686.2" r="2.85"/><circle cx="408.4" cy="687.1" r="2.85"/><circle cx="386.4" cy="706.1" r="2.85"/><circle cx="401.0" cy="704.1" r="2.85"/><circle cx="422.9" cy="687.5" r="2.85"/><circle cx="422.9" cy="690.0" r="2.85"/><circle cx="426.2" cy="691.6" r="2.85"/></g>
<path d="M264.90,624.20 L267.57,627.63 L270.25,630.88 L272.92,633.98 L275.60,636.93 L278.27,639.74 L280.95,642.41 L283.62,644.95 L286.30,647.37 L288.97,649.67 L291.65,651.86 L294.32,653.94 L297.00,655.93 L299.67,657.81 L302.35,659.61 L305.02,661.32 L307.70,662.94 L310.37,664.49 L313.05,665.96 L315.72,667.36 L318.40,668.70 L321.07,669.97 L323.75,671.17 L326.42,672.32 L329.10,673.42 L331.77,674.46 L334.44,675.45 L337.12,676.39 L339.79,677.28 L342.47,678.14 L345.14,678.95 L347.82,679.72 L350.49,680.46 L353.17,681.15 L355.84,681.82 L358.52,682.45 L361.19,683.06 L363.87,683.63 L366.54,684.18 L369.22,684.69 L371.89,685.19 L374.57,685.66 L377.24,686.11 L379.92,686.53 L382.59,686.94 L385.27,687.32 L387.94,687.69 L390.62,688.04 L393.29,688.37 L395.97,688.69 L398.64,688.99 L401.31,689.27 L403.99,689.55 L406.66,689.81 L409.34,690.05 L412.01,690.29 L414.69,690.51 L417.36,690.72 L420.04,690.93 L422.71,691.12 L425.39,691.30" fill="none" stroke="#000" stroke-width="4.1" stroke-linejoin="round"/>
<rect x="257.2" y="591.0" width="176.0" height="120.0" fill="none" stroke="#262626" stroke-width="1.4" stroke-linejoin="round"/>
<line x1="264.90" y1="711.0" x2="264.90" y2="726.0" stroke="#000" stroke-width="2.1"/>
<text x="264.90" y="741.50" font-size="15.35" text-anchor="middle" fill="#000">0</text>
<line x1="309.85" y1="711.0" x2="309.85" y2="726.0" stroke="#000" stroke-width="2.1"/>
<text x="309.85" y="741.50" font-size="15.35" text-anchor="middle" fill="#000">10</text>
<line x1="354.80" y1="711.0" x2="354.80" y2="726.0" stroke="#000" stroke-width="2.1"/>
<text x="354.80" y="741.50" font-size="15.35" text-anchor="middle" fill="#000">20</text>
<line x1="399.75" y1="711.0" x2="399.75" y2="726.0" stroke="#000" stroke-width="2.1"/>
<text x="399.75" y="741.50" font-size="15.35" text-anchor="middle" fill="#000">30</text>
<text x="345.20" y="579.50" font-size="18.7" text-anchor="middle" fill="#000">hw</text>
<rect x="445.7" y="591.0" width="176.00000000000006" height="120.0" fill="#fff"/>
<g fill="none" stroke="#0000ff" stroke-opacity="0.5" stroke-width="1.3"><circle cx="453.4" cy="595.8" r="2.85"/><circle cx="453.4" cy="603.6" r="2.85"/><circle cx="453.4" cy="606.6" r="2.85"/><circle cx="453.4" cy="608.6" r="2.85"/><circle cx="453.4" cy="610.6" r="2.85"/><circle cx="453.4" cy="612.2" r="2.85"/><circle cx="453.4" cy="613.6" r="2.85"/><circle cx="453.4" cy="615.2" r="2.85"/><circle cx="453.4" cy="617.2" r="2.85"/><circle cx="453.4" cy="619.6" r="2.85"/><circle cx="453.4" cy="621.0" r="2.85"/><circle cx="453.4" cy="622.7" r="2.85"/><circle cx="453.4" cy="624.4" r="2.85"/><circle cx="453.4" cy="626.5" r="2.85"/><circle cx="453.4" cy="628.5" r="2.85"/><circle cx="453.4" cy="630.5" r="2.85"/><circle cx="453.4" cy="631.8" r="2.85"/><circle cx="453.4" cy="634.0" r="2.85"/><circle cx="453.4" cy="640.6" r="2.85"/><circle cx="453.4" cy="642.6" r="2.85"/><circle cx="453.4" cy="644.3" r="2.85"/><circle cx="453.4" cy="646.0" r="2.85"/><circle cx="453.4" cy="654.3" r="2.85"/><circle cx="453.4" cy="657.6" r="2.85"/><circle cx="453.4" cy="606.8" r="2.85"/><circle cx="453.4" cy="608.8" r="2.85"/><circle cx="453.4" cy="610.8" r="2.85"/><circle cx="453.4" cy="612.2" r="2.85"/><circle cx="453.4" cy="613.6" r="2.85"/><circle cx="453.4" cy="628.5" r="2.85"/><circle cx="453.4" cy="630.5" r="2.85"/><circle cx="453.4" cy="631.8" r="2.85"/><circle cx="453.4" cy="626.5" r="2.85"/><circle cx="464.2" cy="610.6" r="2.85"/><circle cx="461.4" cy="617.2" r="2.85"/><circle cx="458.9" cy="618.2" r="2.85"/><circle cx="461.9" cy="621.0" r="2.85"/><circle cx="459.8" cy="623.2" r="2.85"/><circle cx="473.0" cy="619.1" r="2.85"/><circle cx="483.0" cy="622.4" r="2.85"/><circle cx="483.0" cy="625.2" r="2.85"/><circle cx="470.2" cy="626.4" r="2.85"/><circle cx="463.9" cy="627.7" r="2.85"/><circle cx="466.4" cy="629.4" r="2.85"/><circle cx="476.9" cy="629.8" r="2.85"/><circle cx="483.0" cy="632.0" r="2.85"/><circle cx="473.0" cy="633.2" r="2.85"/><circle cx="466.4" cy="632.7" r="2.85"/><circle cx="493.0" cy="637.3" r="2.85"/><circle cx="458.9" cy="640.6" r="2.85"/><circle cx="463.9" cy="641.5" r="2.85"/><circle cx="477.5" cy="639.8" r="2.85"/><circle cx="476.4" cy="642.6" r="2.85"/><circle cx="468.1" cy="644.3" r="2.85"/><circle cx="471.4" cy="646.0" r="2.85"/><circle cx="487.2" cy="644.3" r="2.85"/><circle cx="464.7" cy="649.8" r="2.85"/><circle cx="465.9" cy="650.9" r="2.85"/><circle cx="470.2" cy="650.4" r="2.85"/><circle cx="473.9" cy="650.1" r="2.85"/><circle cx="475.5" cy="651.8" r="2.85"/><circle cx="476.9" cy="655.9" r="2.85"/><circle cx="477.2" cy="656.8" r="2.85"/><circle cx="460.9" cy="656.8" r="2.85"/><circle cx="463.1" cy="660.6" r="2.85"/><circle cx="474.7" cy="660.9" r="2.85"/><circle cx="480.2" cy="660.9" r="2.85"/><circle cx="481.4" cy="659.2" r="2.85"/><circle cx="485.0" cy="662.2" r="2.85"/><circle cx="488.0" cy="652.6" r="2.85"/><circle cx="493.5" cy="654.3" r="2.85"/><circle cx="494.6" cy="646.0" r="2.85"/><circle cx="498.8" cy="647.1" r="2.85"/><circle cx="499.6" cy="646.5" r="2.85"/><circle cx="504.6" cy="648.8" r="2.85"/><circle cx="506.3" cy="647.6" r="2.85"/><circle cx="509.1" cy="643.1" r="2.85"/><circle cx="510.7" cy="646.0" r="2.85"/><circle cx="510.4" cy="650.1" r="2.85"/><circle cx="509.6" cy="651.8" r="2.85"/><circle cx="510.7" cy="652.9" r="2.85"/><circle cx="514.2" cy="655.9" r="2.85"/><circle cx="518.4" cy="655.1" r="2.85"/><circle cx="523.7" cy="656.8" r="2.85"/><circle cx="512.1" cy="658.4" r="2.85"/><circle cx="504.9" cy="658.4" r="2.85"/><circle cx="514.6" cy="663.4" r="2.85"/><circle cx="521.5" cy="663.7" r="2.85"/><circle cx="523.7" cy="664.7" r="2.85"/><circle cx="497.1" cy="664.7" r="2.85"/><circle cx="492.5" cy="667.6" r="2.85"/><circle cx="490.8" cy="670.9" r="2.85"/><circle cx="490.5" cy="671.7" r="2.85"/><circle cx="500.1" cy="674.7" r="2.85"/><circle cx="502.6" cy="678.0" r="2.85"/><circle cx="493.8" cy="683.3" r="2.85"/><circle cx="506.6" cy="686.2" r="2.85"/><circle cx="510.7" cy="685.8" r="2.85"/><circle cx="512.4" cy="683.7" r="2.85"/><circle cx="506.8" cy="692.5" r="2.85"/><circle cx="509.6" cy="668.4" r="2.85"/><circle cx="512.1" cy="673.0" r="2.85"/><circle cx="517.9" cy="679.7" r="2.85"/><circle cx="518.7" cy="684.2" r="2.85"/><circle cx="520.4" cy="678.3" r="2.85"/><circle cx="520.7" cy="676.7" r="2.85"/><circle cx="521.2" cy="675.0" r="2.85"/><circle cx="528.2" cy="670.0" r="2.85"/><circle cx="529.5" cy="678.0" r="2.85"/><circle cx="530.3" cy="680.3" r="2.85"/><circle cx="533.7" cy="672.9" r="2.85"/><circle cx="534.0" cy="682.5" r="2.85"/><circle cx="529.2" cy="687.5" r="2.85"/><circle cx="535.3" cy="694.1" r="2.85"/><circle cx="538.2" cy="683.3" r="2.85"/><circle cx="539.1" cy="664.2" r="2.85"/><circle cx="544.0" cy="658.4" r="2.85"/><circle cx="554.1" cy="658.1" r="2.85"/><circle cx="554.1" cy="665.1" r="2.85"/><circle cx="538.7" cy="672.5" r="2.85"/><circle cx="543.3" cy="673.4" r="2.85"/><circle cx="544.5" cy="670.9" r="2.85"/><circle cx="545.3" cy="671.7" r="2.85"/><circle cx="544.0" cy="686.2" r="2.85"/><circle cx="544.5" cy="686.7" r="2.85"/><circle cx="549.4" cy="686.2" r="2.85"/><circle cx="560.2" cy="671.7" r="2.85"/><circle cx="560.2" cy="677.8" r="2.85"/><circle cx="566.9" cy="681.2" r="2.85"/><circle cx="554.4" cy="689.1" r="2.85"/><circle cx="553.3" cy="692.0" r="2.85"/><circle cx="553.6" cy="695.5" r="2.85"/><circle cx="558.9" cy="692.0" r="2.85"/><circle cx="564.7" cy="691.1" r="2.85"/><circle cx="565.2" cy="692.0" r="2.85"/><circle cx="564.4" cy="686.7" r="2.85"/><circle cx="577.3" cy="683.8" r="2.85"/><circle cx="577.3" cy="687.5" r="2.85"/><circle cx="584.0" cy="687.5" r="2.85"/><circle cx="584.0" cy="676.7" r="2.85"/><circle cx="584.0" cy="678.8" r="2.85"/><circle cx="590.1" cy="676.4" r="2.85"/><circle cx="554.8" cy="706.1" r="2.85"/><circle cx="572.7" cy="704.4" r="2.85"/><circle cx="607.9" cy="687.5" r="2.85"/><circle cx="607.9" cy="690.3" r="2.85"/><circle cx="614.2" cy="691.6" r="2.85"/></g>
<path d="M453.40,623.70 L456.07,626.73 L458.73,629.63 L461.40,632.40 L464.07,635.06 L466.73,637.60 L469.40,640.03 L472.07,642.36 L474.73,644.60 L477.40,646.73 L480.06,648.78 L482.73,650.74 L485.40,652.62 L488.06,654.41 L490.73,656.13 L493.40,657.78 L496.06,659.36 L498.73,660.87 L501.40,662.32 L504.06,663.70 L506.73,665.03 L509.40,666.29 L512.06,667.51 L514.73,668.67 L517.40,669.79 L520.06,670.86 L522.73,671.88 L525.39,672.86 L528.06,673.79 L530.73,674.69 L533.39,675.55 L536.06,676.37 L538.73,677.16 L541.39,677.91 L544.06,678.63 L546.73,679.32 L549.39,679.99 L552.06,680.62 L554.73,681.23 L557.39,681.81 L560.06,682.36 L562.73,682.90 L565.39,683.41 L568.06,683.90 L570.72,684.36 L573.39,684.81 L576.06,685.24 L578.72,685.65 L581.39,686.04 L584.06,686.42 L586.72,686.78 L589.39,687.12 L592.06,687.46 L594.72,687.77 L597.39,688.07 L600.06,688.36 L602.72,688.64 L605.39,688.91 L608.06,689.16 L610.72,689.41 L613.39,689.64" fill="none" stroke="#000" stroke-width="4.1" stroke-linejoin="round"/>
<rect x="445.7" y="591.0" width="176.00000000000006" height="120.0" fill="none" stroke="#262626" stroke-width="1.4" stroke-linejoin="round"/>
<line x1="453.40" y1="711.0" x2="453.40" y2="726.0" stroke="#000" stroke-width="2.1"/>
<text x="453.40" y="741.50" font-size="15.35" text-anchor="middle" fill="#000">0</text>
<line x1="492.10" y1="711.0" x2="492.10" y2="726.0" stroke="#000" stroke-width="2.1"/>
<text x="492.10" y="741.50" font-size="15.35" text-anchor="middle" fill="#000">500</text>
<line x1="530.80" y1="711.0" x2="530.80" y2="726.0" stroke="#000" stroke-width="2.1"/>
<text x="530.80" y="741.50" font-size="15.35" text-anchor="middle" fill="#000">1000</text>
<line x1="569.50" y1="711.0" x2="569.50" y2="726.0" stroke="#000" stroke-width="2.1"/>
<text x="569.50" y="741.50" font-size="15.35" text-anchor="middle" fill="#000">1500</text>
<line x1="608.20" y1="711.0" x2="608.20" y2="726.0" stroke="#000" stroke-width="2.1"/>
<text x="608.20" y="741.50" font-size="15.35" text-anchor="middle" fill="#000">2000</text>
<text x="533.70" y="579.50" font-size="18.7" text-anchor="middle" fill="#000">tw</text>
<rect x="634.2" y="591.0" width="176.0" height="120.0" fill="#fff"/>
<g fill="none" stroke="#0000ff" stroke-opacity="0.5" stroke-width="1.3"><circle cx="641.6" cy="595.8" r="2.85"/><circle cx="641.6" cy="603.6" r="2.85"/><circle cx="641.6" cy="606.6" r="2.85"/><circle cx="641.6" cy="608.6" r="2.85"/><circle cx="641.6" cy="610.6" r="2.85"/><circle cx="641.6" cy="612.2" r="2.85"/><circle cx="641.6" cy="613.6" r="2.85"/><circle cx="641.6" cy="615.2" r="2.85"/><circle cx="641.6" cy="617.2" r="2.85"/><circle cx="641.6" cy="619.6" r="2.85"/><circle cx="641.6" cy="621.0" r="2.85"/><circle cx="641.6" cy="622.7" r="2.85"/><circle cx="641.6" cy="624.4" r="2.85"/><circle cx="641.6" cy="626.5" r="2.85"/><circle cx="641.6" cy="628.5" r="2.85"/><circle cx="641.6" cy="630.5" r="2.85"/><circle cx="641.6" cy="631.8" r="2.85"/><circle cx="641.6" cy="634.0" r="2.85"/><circle cx="641.6" cy="640.6" r="2.85"/><circle cx="641.6" cy="642.6" r="2.85"/><circle cx="641.6" cy="644.3" r="2.85"/><circle cx="641.6" cy="646.0" r="2.85"/><circle cx="641.6" cy="654.3" r="2.85"/><circle cx="641.6" cy="657.6" r="2.85"/><circle cx="641.6" cy="606.8" r="2.85"/><circle cx="641.6" cy="608.8" r="2.85"/><circle cx="641.6" cy="610.8" r="2.85"/><circle cx="641.6" cy="612.2" r="2.85"/><circle cx="641.6" cy="613.6" r="2.85"/><circle cx="641.6" cy="628.5" r="2.85"/><circle cx="641.6" cy="630.5" r="2.85"/><circle cx="641.6" cy="631.8" r="2.85"/><circle cx="641.6" cy="626.5" r="2.85"/><circle cx="647.9" cy="610.6" r="2.85"/><circle cx="646.6" cy="617.7" r="2.85"/><circle cx="646.3" cy="621.0" r="2.85"/><circle cx="645.9" cy="622.7" r="2.85"/><circle cx="654.1" cy="619.1" r="2.85"/><circle cx="659.9" cy="622.7" r="2.85"/><circle cx="659.2" cy="625.2" r="2.85"/><circle cx="658.7" cy="626.9" r="2.85"/><circle cx="649.6" cy="627.7" r="2.85"/><circle cx="654.1" cy="632.7" r="2.85"/><circle cx="654.6" cy="633.2" r="2.85"/><circle cx="662.5" cy="632.0" r="2.85"/><circle cx="673.7" cy="637.2" r="2.85"/><circle cx="645.9" cy="640.6" r="2.85"/><circle cx="649.3" cy="641.8" r="2.85"/><circle cx="660.4" cy="641.8" r="2.85"/><circle cx="664.9" cy="642.6" r="2.85"/><circle cx="670.8" cy="644.3" r="2.85"/><circle cx="676.5" cy="643.5" r="2.85"/><circle cx="674.2" cy="646.0" r="2.85"/><circle cx="677.8" cy="647.6" r="2.85"/><circle cx="679.5" cy="648.1" r="2.85"/><circle cx="669.5" cy="646.8" r="2.85"/><circle cx="653.7" cy="646.0" r="2.85"/><circle cx="649.6" cy="649.8" r="2.85"/><circle cx="652.4" cy="650.9" r="2.85"/><circle cx="656.6" cy="650.1" r="2.85"/><circle cx="658.7" cy="650.9" r="2.85"/><circle cx="658.2" cy="655.9" r="2.85"/><circle cx="657.9" cy="656.8" r="2.85"/><circle cx="647.1" cy="656.8" r="2.85"/><circle cx="649.9" cy="660.6" r="2.85"/><circle cx="656.6" cy="660.9" r="2.85"/><circle cx="663.7" cy="660.9" r="2.85"/><circle cx="664.9" cy="662.6" r="2.85"/><circle cx="669.9" cy="660.9" r="2.85"/><circle cx="670.4" cy="659.2" r="2.85"/><circle cx="665.9" cy="653.4" r="2.85"/><circle cx="676.2" cy="650.9" r="2.85"/><circle cx="685.8" cy="651.8" r="2.85"/><circle cx="686.5" cy="655.1" r="2.85"/><circle cx="690.8" cy="656.8" r="2.85"/><circle cx="696.9" cy="648.5" r="2.85"/><circle cx="696.4" cy="658.4" r="2.85"/><circle cx="696.9" cy="658.7" r="2.85"/><circle cx="702.2" cy="658.1" r="2.85"/><circle cx="696.1" cy="663.7" r="2.85"/><circle cx="701.1" cy="665.9" r="2.85"/><circle cx="702.7" cy="664.7" r="2.85"/><circle cx="703.6" cy="663.4" r="2.85"/><circle cx="691.6" cy="663.1" r="2.85"/><circle cx="689.8" cy="664.2" r="2.85"/><circle cx="682.0" cy="658.4" r="2.85"/><circle cx="678.2" cy="655.9" r="2.85"/><circle cx="675.0" cy="667.6" r="2.85"/><circle cx="671.2" cy="670.9" r="2.85"/><circle cx="671.5" cy="671.4" r="2.85"/><circle cx="679.5" cy="674.7" r="2.85"/><circle cx="682.8" cy="678.0" r="2.85"/><circle cx="681.6" cy="683.3" r="2.85"/><circle cx="687.8" cy="683.8" r="2.85"/><circle cx="687.5" cy="672.5" r="2.85"/><circle cx="687.0" cy="669.2" r="2.85"/><circle cx="694.1" cy="680.0" r="2.85"/><circle cx="694.4" cy="680.8" r="2.85"/><circle cx="694.4" cy="686.2" r="2.85"/><circle cx="698.6" cy="683.8" r="2.85"/><circle cx="698.6" cy="686.2" r="2.85"/><circle cx="694.4" cy="692.5" r="2.85"/><circle cx="699.7" cy="677.5" r="2.85"/><circle cx="701.1" cy="678.3" r="2.85"/><circle cx="705.2" cy="680.0" r="2.85"/><circle cx="707.4" cy="683.3" r="2.85"/><circle cx="706.4" cy="687.5" r="2.85"/><circle cx="711.0" cy="686.7" r="2.85"/><circle cx="710.7" cy="694.1" r="2.85"/><circle cx="707.7" cy="671.7" r="2.85"/><circle cx="709.4" cy="671.4" r="2.85"/><circle cx="711.0" cy="670.5" r="2.85"/><circle cx="717.7" cy="671.7" r="2.85"/><circle cx="714.4" cy="683.3" r="2.85"/><circle cx="715.5" cy="686.2" r="2.85"/><circle cx="719.0" cy="685.0" r="2.85"/><circle cx="720.2" cy="684.2" r="2.85"/><circle cx="724.8" cy="675.0" r="2.85"/><circle cx="726.0" cy="686.2" r="2.85"/><circle cx="729.8" cy="677.5" r="2.85"/><circle cx="721.5" cy="695.5" r="2.85"/><circle cx="723.0" cy="691.6" r="2.85"/><circle cx="727.3" cy="692.0" r="2.85"/><circle cx="731.0" cy="691.6" r="2.85"/><circle cx="731.8" cy="691.3" r="2.85"/><circle cx="737.1" cy="669.5" r="2.85"/><circle cx="737.1" cy="673.4" r="2.85"/><circle cx="740.9" cy="677.8" r="2.85"/><circle cx="740.9" cy="682.5" r="2.85"/><circle cx="748.4" cy="685.3" r="2.85"/><circle cx="756.7" cy="690.0" r="2.85"/><circle cx="758.7" cy="676.7" r="2.85"/><circle cx="758.7" cy="678.8" r="2.85"/><circle cx="762.5" cy="676.4" r="2.85"/><circle cx="765.0" cy="686.2" r="2.85"/><circle cx="781.6" cy="687.1" r="2.85"/><circle cx="731.0" cy="706.1" r="2.85"/><circle cx="743.4" cy="704.1" r="2.85"/><circle cx="798.7" cy="687.5" r="2.85"/><circle cx="798.7" cy="690.0" r="2.85"/><circle cx="802.7" cy="691.6" r="2.85"/></g>
<path d="M641.60,623.70 L644.28,627.27 L646.96,630.65 L649.64,633.87 L652.32,636.93 L655.00,639.83 L657.68,642.59 L660.36,645.20 L663.04,647.69 L665.72,650.06 L668.40,652.30 L671.08,654.43 L673.76,656.46 L676.44,658.38 L679.12,660.21 L681.80,661.95 L684.48,663.60 L687.16,665.16 L689.84,666.65 L692.52,668.07 L695.20,669.41 L697.88,670.69 L700.56,671.90 L703.24,673.05 L705.92,674.14 L708.60,675.18 L711.27,676.17 L713.95,677.11 L716.63,678.00 L719.31,678.84 L721.99,679.65 L724.67,680.41 L727.35,681.14 L730.03,681.83 L732.71,682.48 L735.39,683.10 L738.07,683.69 L740.75,684.25 L743.43,684.79 L746.11,685.29 L748.79,685.77 L751.47,686.23 L754.15,686.67 L756.83,687.08 L759.51,687.47 L762.19,687.84 L764.87,688.19 L767.55,688.53 L770.23,688.85 L772.91,689.15 L775.59,689.44 L778.27,689.71 L780.95,689.97 L783.63,690.22 L786.31,690.45 L788.99,690.68 L791.67,690.89 L794.35,691.09 L797.03,691.28 L799.71,691.46 L802.39,691.63" fill="none" stroke="#000" stroke-width="4.1" stroke-linejoin="round"/>
<rect x="634.2" y="591.0" width="176.0" height="120.0" fill="none" stroke="#262626" stroke-width="1.4" stroke-linejoin="round"/>
<line x1="641.60" y1="711.0" x2="641.60" y2="726.0" stroke="#000" stroke-width="2.1"/>
<text x="641.60" y="741.50" font-size="15.35" text-anchor="middle" fill="#000">0</text>
<line x1="695.50" y1="711.0" x2="695.50" y2="726.0" stroke="#000" stroke-width="2.1"/>
<text x="695.50" y="741.50" font-size="15.35" text-anchor="middle" fill="#000">200</text>
<line x1="749.40" y1="711.0" x2="749.40" y2="726.0" stroke="#000" stroke-width="2.1"/>
<text x="749.40" y="741.50" font-size="15.35" text-anchor="middle" fill="#000">400</text>
<line x1="803.30" y1="711.0" x2="803.30" y2="726.0" stroke="#000" stroke-width="2.1"/>
<text x="803.30" y="741.50" font-size="15.35" text-anchor="middle" fill="#000">600</text>
<text x="722.20" y="579.50" font-size="18.7" text-anchor="middle" fill="#000">htw</text>
<rect x="901.9" y="386.1" width="176.0000000000001" height="120.39999999999998" fill="#fff"/>
<g fill="none" stroke="#0000ff" stroke-opacity="0.5" stroke-width="1.3"><circle cx="909.5" cy="391.1" r="2.85"/><circle cx="909.5" cy="391.3" r="2.85"/><circle cx="909.5" cy="393.8" r="2.85"/><circle cx="909.5" cy="394.0" r="2.85"/><circle cx="909.5" cy="394.1" r="2.85"/><circle cx="909.5" cy="396.1" r="2.85"/><circle cx="909.5" cy="396.4" r="2.85"/><circle cx="909.5" cy="398.8" r="2.85"/><circle cx="909.5" cy="398.9" r="2.85"/><circle cx="909.5" cy="399.1" r="2.85"/><circle cx="909.5" cy="401.4" r="2.85"/><circle cx="909.5" cy="401.8" r="2.85"/><circle cx="909.5" cy="403.8" r="2.85"/><circle cx="909.5" cy="404.1" r="2.85"/><circle cx="909.5" cy="405.4" r="2.85"/><circle cx="909.5" cy="405.6" r="2.85"/><circle cx="909.5" cy="409.4" r="2.85"/><circle cx="909.5" cy="411.2" r="2.85"/><circle cx="909.5" cy="412.9" r="2.85"/><circle cx="909.5" cy="420.9" r="2.85"/><circle cx="918.6" cy="401.6" r="2.85"/><circle cx="923.6" cy="398.9" r="2.85"/><circle cx="930.7" cy="403.3" r="2.85"/><circle cx="937.7" cy="403.6" r="2.85"/><circle cx="947.0" cy="404.9" r="2.85"/><circle cx="927.9" cy="406.9" r="2.85"/><circle cx="931.5" cy="411.9" r="2.85"/><circle cx="918.6" cy="410.6" r="2.85"/><circle cx="918.3" cy="416.5" r="2.85"/><circle cx="922.9" cy="417.7" r="2.85"/><circle cx="925.7" cy="418.9" r="2.85"/><circle cx="931.2" cy="417.7" r="2.85"/><circle cx="937.4" cy="417.7" r="2.85"/><circle cx="937.8" cy="418.2" r="2.85"/><circle cx="942.3" cy="410.2" r="2.85"/><circle cx="942.3" cy="415.2" r="2.85"/><circle cx="942.7" cy="416.9" r="2.85"/><circle cx="944.8" cy="421.0" r="2.85"/><circle cx="944.8" cy="424.8" r="2.85"/><circle cx="952.0" cy="414.7" r="2.85"/><circle cx="918.6" cy="427.3" r="2.85"/><circle cx="934.0" cy="428.2" r="2.85"/><circle cx="937.7" cy="430.2" r="2.85"/><circle cx="919.9" cy="437.6" r="2.85"/><circle cx="942.3" cy="444.8" r="2.85"/><circle cx="930.7" cy="451.8" r="2.85"/><circle cx="930.7" cy="463.0" r="2.85"/><circle cx="944.8" cy="460.9" r="2.85"/><circle cx="944.8" cy="461.7" r="2.85"/><circle cx="947.0" cy="455.1" r="2.85"/><circle cx="955.1" cy="440.5" r="2.85"/><circle cx="958.9" cy="441.8" r="2.85"/><circle cx="956.5" cy="444.3" r="2.85"/><circle cx="960.9" cy="453.7" r="2.85"/><circle cx="964.8" cy="451.8" r="2.85"/><circle cx="975.6" cy="450.9" r="2.85"/><circle cx="973.1" cy="460.1" r="2.85"/><circle cx="958.1" cy="462.6" r="2.85"/><circle cx="963.1" cy="466.7" r="2.85"/><circle cx="973.1" cy="467.5" r="2.85"/><circle cx="992.2" cy="461.7" r="2.85"/><circle cx="966.7" cy="475.8" r="2.85"/><circle cx="968.1" cy="479.2" r="2.85"/><circle cx="975.6" cy="475.3" r="2.85"/><circle cx="975.6" cy="480.0" r="2.85"/><circle cx="967.2" cy="483.6" r="2.85"/><circle cx="975.6" cy="487.0" r="2.85"/><circle cx="973.1" cy="491.1" r="2.85"/><circle cx="963.4" cy="492.9" r="2.85"/><circle cx="963.8" cy="493.6" r="2.85"/><circle cx="953.1" cy="494.9" r="2.85"/><circle cx="980.5" cy="488.3" r="2.85"/><circle cx="985.5" cy="489.1" r="2.85"/><circle cx="986.3" cy="492.4" r="2.85"/><circle cx="989.7" cy="480.0" r="2.85"/><circle cx="990.0" cy="481.2" r="2.85"/><circle cx="997.6" cy="475.3" r="2.85"/><circle cx="989.7" cy="496.9" r="2.85"/><circle cx="996.3" cy="491.6" r="2.85"/><circle cx="997.1" cy="492.4" r="2.85"/><circle cx="996.8" cy="499.1" r="2.85"/><circle cx="1001.3" cy="494.9" r="2.85"/><circle cx="1003.8" cy="493.3" r="2.85"/><circle cx="1003.8" cy="499.1" r="2.85"/><circle cx="1004.1" cy="498.3" r="2.85"/><circle cx="1006.3" cy="487.8" r="2.85"/><circle cx="1008.8" cy="487.5" r="2.85"/><circle cx="1011.3" cy="496.6" r="2.85"/><circle cx="1013.3" cy="499.9" r="2.85"/><circle cx="1018.7" cy="497.4" r="2.85"/><circle cx="1022.6" cy="488.3" r="2.85"/><circle cx="1022.9" cy="500.3" r="2.85"/><circle cx="1024.5" cy="495.8" r="2.85"/><circle cx="1029.9" cy="488.6" r="2.85"/><circle cx="1029.9" cy="496.6" r="2.85"/><circle cx="1030.4" cy="497.8" r="2.85"/><circle cx="1036.7" cy="488.8" r="2.85"/><circle cx="1037.0" cy="489.6" r="2.85"/><circle cx="1039.2" cy="499.1" r="2.85"/><circle cx="1039.5" cy="500.3" r="2.85"/><circle cx="1042.0" cy="501.2" r="2.85"/><circle cx="1044.1" cy="490.8" r="2.85"/><circle cx="1052.8" cy="490.8" r="2.85"/><circle cx="1054.8" cy="490.0" r="2.85"/><circle cx="1063.1" cy="490.8" r="2.85"/><circle cx="1063.2" cy="491.6" r="2.85"/><circle cx="1055.8" cy="500.3" r="2.85"/><circle cx="1063.1" cy="499.6" r="2.85"/><circle cx="1070.2" cy="498.8" r="2.85"/><circle cx="1070.6" cy="499.4" r="2.85"/></g>
<path d="M909.50,404.42 L910.84,404.44 L912.18,404.50 L913.52,404.64 L914.86,404.85 L916.20,405.14 L917.54,405.53 L918.88,406.02 L920.21,406.60 L921.55,407.29 L922.89,408.09 L924.23,408.99 L925.57,410.00 L926.91,411.12 L928.25,412.35 L929.59,413.68 L930.93,415.12 L932.27,416.65 L933.61,418.27 L934.95,419.98 L936.29,421.78 L937.63,423.66 L938.97,425.60 L940.30,427.61 L941.64,429.67 L942.98,431.79 L944.32,433.94 L945.66,436.13 L947.00,438.34 L948.34,440.56 L949.68,442.80 L951.02,445.03 L952.36,447.25 L953.70,449.46 L955.04,451.65 L956.38,453.80 L957.72,455.91 L959.05,457.99 L960.39,460.01 L961.73,461.97 L963.07,463.88 L964.41,465.73 L965.75,467.50 L967.09,469.21 L968.43,470.84 L969.77,472.40 L971.11,473.89 L972.45,475.30 L973.79,476.63 L975.13,477.88 L976.47,479.06 L977.81,480.17 L979.14,481.20 L980.48,482.16 L981.82,483.05 L983.16,483.88 L984.50,484.64 L985.84,485.34 L987.18,485.98 L988.52,486.57 L989.86,487.11 L991.20,487.59 L992.54,488.03 L993.88,488.43 L995.22,488.79 L996.56,489.11 L997.90,489.40 L999.23,489.65 L1000.57,489.88 L1001.91,490.08 L1003.25,490.26 L1004.59,490.42 L1005.93,490.56 L1007.27,490.68 L1008.61,490.78 L1009.95,490.87 L1011.29,490.95 L1012.63,491.02 L1013.97,491.08 L1015.31,491.13 L1016.65,491.17 L1017.99,491.21 L1019.32,491.24 L1020.66,491.27 L1022.00,491.29 L1023.34,491.31 L1024.68,491.33 L1026.02,491.34 L1027.36,491.35 L1028.70,491.36 L1030.04,491.37 L1031.38,491.37 L1032.72,491.38 L1034.06,491.38 L1035.40,491.39 L1036.74,491.39 L1038.07,491.39 L1039.41,491.39 L1040.75,491.39 L1042.09,491.40 L1043.43,491.40 L1044.77,491.40 L1046.11,491.40 L1047.45,491.40 L1048.79,491.40 L1050.13,491.40 L1051.47,491.40 L1052.81,491.40 L1054.15,491.40 L1055.49,491.40 L1056.83,491.40 L1058.16,491.40 L1059.50,491.40 L1060.84,491.40 L1062.18,491.40 L1063.52,491.40 L1064.86,491.40 L1066.20,491.40 L1067.54,491.40 L1068.88,491.40 L1070.22,491.40" fill="none" stroke="#000" stroke-width="4.1" stroke-linejoin="round"/>
<rect x="901.9" y="386.1" width="176.0000000000001" height="120.39999999999998" fill="none" stroke="#262626" stroke-width="1.4" stroke-linejoin="round"/>
<line x1="909.50" y1="506.5" x2="909.50" y2="521.5" stroke="#000" stroke-width="2.1"/>
<text x="909.50" y="537.00" font-size="15.35" text-anchor="middle" fill="#000">0</text>
<line x1="956.80" y1="506.5" x2="956.80" y2="521.5" stroke="#000" stroke-width="2.1"/>
<text x="956.80" y="537.00" font-size="15.35" text-anchor="middle" fill="#000">10</text>
<line x1="1004.10" y1="506.5" x2="1004.10" y2="521.5" stroke="#000" stroke-width="2.1"/>
<text x="1004.10" y="537.00" font-size="15.35" text-anchor="middle" fill="#000">20</text>
<line x1="1051.40" y1="506.5" x2="1051.40" y2="521.5" stroke="#000" stroke-width="2.1"/>
<text x="1051.40" y="537.00" font-size="15.35" text-anchor="middle" fill="#000">30</text>
<line x1="886.9" y1="491.40" x2="901.9" y2="491.40" stroke="#000" stroke-width="2.1"/>
<text x="882.70" y="497.99" font-size="18.4" text-anchor="end" fill="#000">0</text>
<line x1="886.9" y1="455.00" x2="901.9" y2="455.00" stroke="#000" stroke-width="2.1"/>
<text x="882.70" y="461.59" font-size="18.4" text-anchor="end" fill="#000">20</text>
<line x1="886.9" y1="418.60" x2="901.9" y2="418.60" stroke="#000" stroke-width="2.1"/>
<text x="882.70" y="425.19" font-size="18.4" text-anchor="end" fill="#000">40</text>
<text x="989.90" y="374.60" font-size="18.7" text-anchor="middle" fill="#000">day</text>
<rect x="1090.2" y="386.1" width="176.0" height="120.39999999999998" fill="#fff"/>
<g fill="none" stroke="#0000ff" stroke-opacity="0.5" stroke-width="1.3"><circle cx="1097.8" cy="391.1" r="2.85"/><circle cx="1097.8" cy="391.3" r="2.85"/><circle cx="1097.8" cy="393.8" r="2.85"/><circle cx="1097.8" cy="394.0" r="2.85"/><circle cx="1097.8" cy="394.1" r="2.85"/><circle cx="1097.8" cy="396.1" r="2.85"/><circle cx="1097.8" cy="396.4" r="2.85"/><circle cx="1097.8" cy="398.8" r="2.85"/><circle cx="1097.8" cy="398.9" r="2.85"/><circle cx="1097.8" cy="399.1" r="2.85"/><circle cx="1097.8" cy="401.4" r="2.85"/><circle cx="1097.8" cy="401.8" r="2.85"/><circle cx="1097.8" cy="403.8" r="2.85"/><circle cx="1097.8" cy="404.1" r="2.85"/><circle cx="1097.8" cy="405.4" r="2.85"/><circle cx="1097.8" cy="405.6" r="2.85"/><circle cx="1097.8" cy="409.4" r="2.85"/><circle cx="1097.8" cy="411.2" r="2.85"/><circle cx="1097.8" cy="412.9" r="2.85"/><circle cx="1097.8" cy="420.9" r="2.85"/><circle cx="1105.3" cy="401.6" r="2.85"/><circle cx="1110.9" cy="398.9" r="2.85"/><circle cx="1117.2" cy="403.3" r="2.85"/><circle cx="1123.9" cy="403.6" r="2.85"/><circle cx="1125.9" cy="404.9" r="2.85"/><circle cx="1111.4" cy="406.9" r="2.85"/><circle cx="1117.2" cy="411.9" r="2.85"/><circle cx="1104.8" cy="410.6" r="2.85"/><circle cx="1104.8" cy="416.5" r="2.85"/><circle cx="1108.1" cy="417.7" r="2.85"/><circle cx="1113.1" cy="418.9" r="2.85"/><circle cx="1120.2" cy="417.4" r="2.85"/><circle cx="1126.8" cy="416.5" r="2.85"/><circle cx="1128.0" cy="410.2" r="2.85"/><circle cx="1128.0" cy="415.2" r="2.85"/><circle cx="1123.9" cy="421.0" r="2.85"/><circle cx="1124.7" cy="424.8" r="2.85"/><circle cx="1132.7" cy="414.7" r="2.85"/><circle cx="1105.3" cy="427.3" r="2.85"/><circle cx="1118.0" cy="428.2" r="2.85"/><circle cx="1119.7" cy="430.2" r="2.85"/><circle cx="1107.6" cy="437.6" r="2.85"/><circle cx="1130.5" cy="444.8" r="2.85"/><circle cx="1117.2" cy="451.8" r="2.85"/><circle cx="1117.2" cy="463.0" r="2.85"/><circle cx="1124.2" cy="460.9" r="2.85"/><circle cx="1130.2" cy="461.4" r="2.85"/><circle cx="1136.0" cy="454.2" r="2.85"/><circle cx="1139.6" cy="440.5" r="2.85"/><circle cx="1144.6" cy="441.5" r="2.85"/><circle cx="1144.6" cy="443.8" r="2.85"/><circle cx="1150.8" cy="451.8" r="2.85"/><circle cx="1158.7" cy="450.9" r="2.85"/><circle cx="1157.1" cy="460.1" r="2.85"/><circle cx="1146.3" cy="461.7" r="2.85"/><circle cx="1147.9" cy="465.9" r="2.85"/><circle cx="1157.1" cy="467.5" r="2.85"/><circle cx="1187.5" cy="461.7" r="2.85"/><circle cx="1147.9" cy="475.8" r="2.85"/><circle cx="1148.8" cy="477.0" r="2.85"/><circle cx="1147.4" cy="479.7" r="2.85"/><circle cx="1142.1" cy="479.2" r="2.85"/><circle cx="1152.4" cy="483.6" r="2.85"/><circle cx="1193.6" cy="475.3" r="2.85"/><circle cx="1168.4" cy="480.0" r="2.85"/><circle cx="1169.2" cy="481.2" r="2.85"/><circle cx="1161.2" cy="488.3" r="2.85"/><circle cx="1164.1" cy="488.8" r="2.85"/><circle cx="1157.1" cy="491.1" r="2.85"/><circle cx="1147.4" cy="492.9" r="2.85"/><circle cx="1147.8" cy="493.6" r="2.85"/><circle cx="1137.6" cy="494.9" r="2.85"/><circle cx="1166.2" cy="492.4" r="2.85"/><circle cx="1169.5" cy="496.6" r="2.85"/><circle cx="1174.5" cy="487.0" r="2.85"/><circle cx="1175.0" cy="499.1" r="2.85"/><circle cx="1175.3" cy="492.4" r="2.85"/><circle cx="1177.0" cy="493.6" r="2.85"/><circle cx="1180.3" cy="499.1" r="2.85"/><circle cx="1180.7" cy="498.3" r="2.85"/><circle cx="1182.0" cy="487.5" r="2.85"/><circle cx="1182.8" cy="494.6" r="2.85"/><circle cx="1189.0" cy="487.5" r="2.85"/><circle cx="1192.3" cy="496.6" r="2.85"/><circle cx="1192.8" cy="499.9" r="2.85"/><circle cx="1193.6" cy="488.3" r="2.85"/><circle cx="1199.4" cy="488.3" r="2.85"/><circle cx="1199.8" cy="500.3" r="2.85"/><circle cx="1200.3" cy="496.6" r="2.85"/><circle cx="1202.3" cy="496.3" r="2.85"/><circle cx="1204.4" cy="488.8" r="2.85"/><circle cx="1209.1" cy="497.1" r="2.85"/><circle cx="1209.9" cy="497.8" r="2.85"/><circle cx="1212.7" cy="500.3" r="2.85"/><circle cx="1214.0" cy="501.2" r="2.85"/><circle cx="1224.8" cy="490.8" r="2.85"/><circle cx="1224.8" cy="499.9" r="2.85"/><circle cx="1230.5" cy="499.6" r="2.85"/><circle cx="1235.5" cy="499.1" r="2.85"/><circle cx="1236.0" cy="499.1" r="2.85"/><circle cx="1234.6" cy="490.8" r="2.85"/><circle cx="1242.9" cy="490.8" r="2.85"/><circle cx="1244.8" cy="490.0" r="2.85"/><circle cx="1252.1" cy="490.8" r="2.85"/><circle cx="1252.6" cy="491.6" r="2.85"/><circle cx="1252.1" cy="495.4" r="2.85"/><circle cx="1253.4" cy="496.1" r="2.85"/><circle cx="1257.9" cy="496.3" r="2.85"/><circle cx="1259.2" cy="492.4" r="2.85"/></g>
<path d="M1097.80,404.42 L1099.14,404.45 L1100.48,404.56 L1101.81,404.77 L1103.15,405.11 L1104.49,405.57 L1105.83,406.18 L1107.17,406.92 L1108.51,407.82 L1109.84,408.87 L1111.18,410.06 L1112.52,411.41 L1113.86,412.90 L1115.20,414.53 L1116.54,416.30 L1117.87,418.20 L1119.21,420.22 L1120.55,422.35 L1121.89,424.58 L1123.23,426.91 L1124.56,429.31 L1125.90,431.78 L1127.24,434.30 L1128.58,436.86 L1129.92,439.45 L1131.26,442.06 L1132.59,444.66 L1133.93,447.26 L1135.27,449.83 L1136.61,452.36 L1137.95,454.85 L1139.29,457.28 L1140.62,459.65 L1141.96,461.94 L1143.30,464.15 L1144.64,466.27 L1145.98,468.30 L1147.31,470.23 L1148.65,472.07 L1149.99,473.80 L1151.33,475.43 L1152.67,476.95 L1154.01,478.38 L1155.34,479.70 L1156.68,480.92 L1158.02,482.05 L1159.36,483.08 L1160.70,484.03 L1162.04,484.89 L1163.37,485.67 L1164.71,486.37 L1166.05,487.00 L1167.39,487.57 L1168.73,488.08 L1170.06,488.53 L1171.40,488.92 L1172.74,489.27 L1174.08,489.58 L1175.42,489.85 L1176.76,490.08 L1178.09,490.29 L1179.43,490.46 L1180.77,490.61 L1182.11,490.74 L1183.45,490.85 L1184.79,490.94 L1186.12,491.02 L1187.46,491.09 L1188.80,491.15 L1190.14,491.19 L1191.48,491.23 L1192.81,491.26 L1194.15,491.29 L1195.49,491.31 L1196.83,491.33 L1198.17,491.34 L1199.51,491.35 L1200.84,491.36 L1202.18,491.37 L1203.52,491.38 L1204.86,491.38 L1206.20,491.39 L1207.54,491.39 L1208.87,491.39 L1210.21,491.39 L1211.55,491.40 L1212.89,491.40 L1214.23,491.40 L1215.56,491.40 L1216.90,491.40 L1218.24,491.40 L1219.58,491.40 L1220.92,491.40 L1222.26,491.40 L1223.59,491.40 L1224.93,491.40 L1226.27,491.40 L1227.61,491.40 L1228.95,491.40 L1230.29,491.40 L1231.62,491.40 L1232.96,491.40 L1234.30,491.40 L1235.64,491.40 L1236.98,491.40 L1238.31,491.40 L1239.65,491.40 L1240.99,491.40 L1242.33,491.40 L1243.67,491.40 L1245.01,491.40 L1246.34,491.40 L1247.68,491.40 L1249.02,491.40 L1250.36,491.40 L1251.70,491.40 L1253.04,491.40 L1254.37,491.40 L1255.71,491.40 L1257.05,491.40 L1258.39,491.40" fill="none" stroke="#000" stroke-width="4.1" stroke-linejoin="round"/>
<rect x="1090.2" y="386.1" width="176.0" height="120.39999999999998" fill="none" stroke="#262626" stroke-width="1.4" stroke-linejoin="round"/>
<line x1="1097.80" y1="506.5" x2="1097.80" y2="521.5" stroke="#000" stroke-width="2.1"/>
<text x="1097.80" y="537.00" font-size="15.35" text-anchor="middle" fill="#000">0</text>
<line x1="1137.90" y1="506.5" x2="1137.90" y2="521.5" stroke="#000" stroke-width="2.1"/>
<text x="1137.90" y="537.00" font-size="15.35" text-anchor="middle" fill="#000">2</text>
<line x1="1178.00" y1="506.5" x2="1178.00" y2="521.5" stroke="#000" stroke-width="2.1"/>
<text x="1178.00" y="537.00" font-size="15.35" text-anchor="middle" fill="#000">4</text>
<line x1="1218.10" y1="506.5" x2="1218.10" y2="521.5" stroke="#000" stroke-width="2.1"/>
<text x="1218.10" y="537.00" font-size="15.35" text-anchor="middle" fill="#000">6</text>
<line x1="1258.20" y1="506.5" x2="1258.20" y2="521.5" stroke="#000" stroke-width="2.1"/>
<text x="1258.20" y="537.00" font-size="15.35" text-anchor="middle" fill="#000">8</text>
<text x="1178.20" y="374.60" font-size="18.7" text-anchor="middle" fill="#000">h</text>
<rect x="1278.8" y="386.1" width="176.0" height="120.39999999999998" fill="#fff"/>
<g fill="none" stroke="#0000ff" stroke-opacity="0.5" stroke-width="1.3"><circle cx="1286.5" cy="391.1" r="2.85"/><circle cx="1286.5" cy="391.3" r="2.85"/><circle cx="1286.5" cy="393.8" r="2.85"/><circle cx="1286.5" cy="394.0" r="2.85"/><circle cx="1286.5" cy="394.1" r="2.85"/><circle cx="1286.5" cy="396.1" r="2.85"/><circle cx="1286.5" cy="396.4" r="2.85"/><circle cx="1286.5" cy="398.8" r="2.85"/><circle cx="1286.5" cy="398.9" r="2.85"/><circle cx="1286.5" cy="399.1" r="2.85"/><circle cx="1286.5" cy="401.4" r="2.85"/><circle cx="1286.5" cy="401.8" r="2.85"/><circle cx="1286.5" cy="403.8" r="2.85"/><circle cx="1286.5" cy="404.1" r="2.85"/><circle cx="1286.5" cy="405.4" r="2.85"/><circle cx="1286.5" cy="405.6" r="2.85"/><circle cx="1286.5" cy="409.4" r="2.85"/><circle cx="1286.5" cy="411.2" r="2.85"/><circle cx="1286.5" cy="412.9" r="2.85"/><circle cx="1286.5" cy="420.9" r="2.85"/><circle cx="1296.9" cy="401.6" r="2.85"/><circle cx="1302.7" cy="398.9" r="2.85"/><circle cx="1311.0" cy="403.3" r="2.85"/><circle cx="1319.3" cy="403.6" r="2.85"/><circle cx="1336.8" cy="404.9" r="2.85"/><circle cx="1311.4" cy="406.9" r="2.85"/><circle cx="1311.9" cy="411.9" r="2.85"/><circle cx="1294.4" cy="410.6" r="2.85"/><circle cx="1296.9" cy="416.5" r="2.85"/><circle cx="1301.9" cy="417.7" r="2.85"/><circle cx="1305.2" cy="418.9" r="2.85"/><circle cx="1318.2" cy="417.7" r="2.85"/><circle cx="1318.8" cy="418.2" r="2.85"/><circle cx="1323.8" cy="410.2" r="2.85"/><circle cx="1324.8" cy="414.9" r="2.85"/><circle cx="1326.0" cy="414.4" r="2.85"/><circle cx="1325.1" cy="417.2" r="2.85"/><circle cx="1331.8" cy="420.2" r="2.85"/><circle cx="1331.8" cy="424.8" r="2.85"/><circle cx="1296.9" cy="427.3" r="2.85"/><circle cx="1315.5" cy="428.2" r="2.85"/><circle cx="1317.7" cy="430.2" r="2.85"/><circle cx="1298.6" cy="437.6" r="2.85"/><circle cx="1308.5" cy="444.8" r="2.85"/><circle cx="1311.0" cy="451.8" r="2.85"/><circle cx="1311.0" cy="463.0" r="2.85"/><circle cx="1323.5" cy="455.1" r="2.85"/><circle cx="1326.5" cy="461.7" r="2.85"/><circle cx="1327.6" cy="462.1" r="2.85"/><circle cx="1332.1" cy="460.9" r="2.85"/><circle cx="1332.1" cy="441.5" r="2.85"/><circle cx="1339.3" cy="440.5" r="2.85"/><circle cx="1335.9" cy="444.3" r="2.85"/><circle cx="1333.5" cy="452.6" r="2.85"/><circle cx="1352.6" cy="453.4" r="2.85"/><circle cx="1361.2" cy="450.9" r="2.85"/><circle cx="1356.4" cy="460.1" r="2.85"/><circle cx="1348.4" cy="465.9" r="2.85"/><circle cx="1356.4" cy="467.5" r="2.85"/><circle cx="1365.0" cy="461.7" r="2.85"/><circle cx="1353.4" cy="476.3" r="2.85"/><circle cx="1360.9" cy="478.3" r="2.85"/><circle cx="1367.5" cy="475.0" r="2.85"/><circle cx="1368.3" cy="477.0" r="2.85"/><circle cx="1368.0" cy="479.2" r="2.85"/><circle cx="1338.1" cy="483.3" r="2.85"/><circle cx="1341.4" cy="487.5" r="2.85"/><circle cx="1348.4" cy="489.1" r="2.85"/><circle cx="1354.5" cy="487.8" r="2.85"/><circle cx="1360.9" cy="487.8" r="2.85"/><circle cx="1356.4" cy="491.1" r="2.85"/><circle cx="1348.1" cy="492.9" r="2.85"/><circle cx="1348.4" cy="493.6" r="2.85"/><circle cx="1335.9" cy="494.9" r="2.85"/><circle cx="1380.0" cy="481.7" r="2.85"/><circle cx="1371.2" cy="490.3" r="2.85"/><circle cx="1375.0" cy="491.6" r="2.85"/><circle cx="1376.3" cy="493.6" r="2.85"/><circle cx="1377.0" cy="496.6" r="2.85"/><circle cx="1377.1" cy="499.9" r="2.85"/><circle cx="1381.6" cy="495.8" r="2.85"/><circle cx="1384.9" cy="499.1" r="2.85"/><circle cx="1385.8" cy="494.9" r="2.85"/><circle cx="1387.4" cy="487.5" r="2.85"/><circle cx="1388.3" cy="488.3" r="2.85"/><circle cx="1388.8" cy="495.8" r="2.85"/><circle cx="1390.3" cy="500.3" r="2.85"/><circle cx="1391.9" cy="487.5" r="2.85"/><circle cx="1393.2" cy="494.9" r="2.85"/><circle cx="1393.7" cy="499.1" r="2.85"/><circle cx="1398.2" cy="497.4" r="2.85"/><circle cx="1401.2" cy="496.6" r="2.85"/><circle cx="1407.9" cy="488.3" r="2.85"/><circle cx="1409.8" cy="495.8" r="2.85"/><circle cx="1409.8" cy="497.4" r="2.85"/><circle cx="1410.2" cy="499.1" r="2.85"/><circle cx="1410.2" cy="500.8" r="2.85"/><circle cx="1415.2" cy="501.2" r="2.85"/><circle cx="1416.2" cy="488.8" r="2.85"/><circle cx="1424.0" cy="488.8" r="2.85"/><circle cx="1424.3" cy="489.5" r="2.85"/><circle cx="1421.5" cy="491.6" r="2.85"/><circle cx="1431.4" cy="490.8" r="2.85"/><circle cx="1433.6" cy="490.0" r="2.85"/><circle cx="1443.1" cy="490.8" r="2.85"/><circle cx="1443.4" cy="491.6" r="2.85"/><circle cx="1430.9" cy="499.9" r="2.85"/><circle cx="1439.2" cy="499.6" r="2.85"/><circle cx="1447.2" cy="498.8" r="2.85"/><circle cx="1447.6" cy="499.4" r="2.85"/></g>
<path d="M1286.50,404.42 L1287.83,404.43 L1289.16,404.47 L1290.50,404.57 L1291.83,404.71 L1293.16,404.93 L1294.49,405.21 L1295.83,405.57 L1297.16,406.00 L1298.49,406.53 L1299.82,407.14 L1301.16,407.84 L1302.49,408.63 L1303.82,409.52 L1305.15,410.50 L1306.49,411.57 L1307.82,412.73 L1309.15,413.99 L1310.48,415.33 L1311.82,416.76 L1313.15,418.27 L1314.48,419.87 L1315.81,421.53 L1317.15,423.27 L1318.48,425.08 L1319.81,426.94 L1321.14,428.86 L1322.47,430.83 L1323.81,432.84 L1325.14,434.88 L1326.47,436.95 L1327.80,439.04 L1329.14,441.15 L1330.47,443.26 L1331.80,445.38 L1333.13,447.48 L1334.47,449.57 L1335.80,451.65 L1337.13,453.69 L1338.46,455.71 L1339.80,457.69 L1341.13,459.62 L1342.46,461.51 L1343.79,463.35 L1345.13,465.13 L1346.46,466.85 L1347.79,468.51 L1349.12,470.10 L1350.46,471.63 L1351.79,473.09 L1353.12,474.48 L1354.45,475.81 L1355.78,477.06 L1357.12,478.24 L1358.45,479.36 L1359.78,480.40 L1361.11,481.38 L1362.45,482.30 L1363.78,483.15 L1365.11,483.94 L1366.44,484.67 L1367.78,485.35 L1369.11,485.97 L1370.44,486.54 L1371.77,487.06 L1373.11,487.54 L1374.44,487.97 L1375.77,488.36 L1377.10,488.71 L1378.44,489.03 L1379.77,489.32 L1381.10,489.58 L1382.43,489.81 L1383.77,490.01 L1385.10,490.19 L1386.43,490.35 L1387.76,490.50 L1389.09,490.62 L1390.43,490.73 L1391.76,490.83 L1393.09,490.91 L1394.42,490.98 L1395.76,491.05 L1397.09,491.10 L1398.42,491.15 L1399.75,491.19 L1401.09,491.22 L1402.42,491.25 L1403.75,491.27 L1405.08,491.30 L1406.42,491.31 L1407.75,491.33 L1409.08,491.34 L1410.41,491.35 L1411.75,491.36 L1413.08,491.37 L1414.41,491.37 L1415.74,491.38 L1417.08,491.38 L1418.41,491.39 L1419.74,491.39 L1421.07,491.39 L1422.40,491.39 L1423.74,491.39 L1425.07,491.40 L1426.40,491.40 L1427.73,491.40 L1429.07,491.40 L1430.40,491.40 L1431.73,491.40 L1433.06,491.40 L1434.40,491.40 L1435.73,491.40 L1437.06,491.40 L1438.39,491.40 L1439.73,491.40 L1441.06,491.40 L1442.39,491.40 L1443.72,491.40 L1445.06,491.40 L1446.39,491.40" fill="none" stroke="#000" stroke-width="4.1" stroke-linejoin="round"/>
<rect x="1278.8" y="386.1" width="176.0" height="120.39999999999998" fill="none" stroke="#262626" stroke-width="1.4" stroke-linejoin="round"/>
<line x1="1286.50" y1="506.5" x2="1286.50" y2="521.5" stroke="#000" stroke-width="2.1"/>
<text x="1286.50" y="537.00" font-size="15.35" text-anchor="middle" fill="#000">0</text>
<line x1="1341.30" y1="506.5" x2="1341.30" y2="521.5" stroke="#000" stroke-width="2.1"/>
<text x="1341.30" y="537.00" font-size="15.35" text-anchor="middle" fill="#000">200</text>
<line x1="1396.10" y1="506.5" x2="1396.10" y2="521.5" stroke="#000" stroke-width="2.1"/>
<text x="1396.10" y="537.00" font-size="15.35" text-anchor="middle" fill="#000">400</text>
<line x1="1450.90" y1="506.5" x2="1450.90" y2="521.5" stroke="#000" stroke-width="2.1"/>
<text x="1450.90" y="537.00" font-size="15.35" text-anchor="middle" fill="#000">600</text>
<text x="1366.80" y="374.60" font-size="18.7" text-anchor="middle" fill="#000">t</text>
<rect x="1467.1" y="386.1" width="176.0" height="120.39999999999998" fill="#fff"/>
<g fill="none" stroke="#0000ff" stroke-opacity="0.5" stroke-width="1.3"><circle cx="1474.7" cy="391.1" r="2.85"/><circle cx="1474.7" cy="391.3" r="2.85"/><circle cx="1474.7" cy="393.8" r="2.85"/><circle cx="1474.7" cy="394.0" r="2.85"/><circle cx="1474.7" cy="394.1" r="2.85"/><circle cx="1474.7" cy="396.1" r="2.85"/><circle cx="1474.7" cy="396.4" r="2.85"/><circle cx="1474.7" cy="398.8" r="2.85"/><circle cx="1474.7" cy="398.9" r="2.85"/><circle cx="1474.7" cy="399.1" r="2.85"/><circle cx="1474.7" cy="401.4" r="2.85"/><circle cx="1474.7" cy="401.8" r="2.85"/><circle cx="1474.7" cy="403.8" r="2.85"/><circle cx="1474.7" cy="404.1" r="2.85"/><circle cx="1474.7" cy="405.4" r="2.85"/><circle cx="1474.7" cy="405.6" r="2.85"/><circle cx="1474.7" cy="409.4" r="2.85"/><circle cx="1474.7" cy="411.2" r="2.85"/><circle cx="1474.7" cy="412.9" r="2.85"/><circle cx="1474.7" cy="420.9" r="2.85"/><circle cx="1483.7" cy="401.6" r="2.85"/><circle cx="1485.4" cy="398.9" r="2.85"/><circle cx="1490.9" cy="403.3" r="2.85"/><circle cx="1496.2" cy="403.6" r="2.85"/><circle cx="1494.5" cy="406.9" r="2.85"/><circle cx="1514.5" cy="404.9" r="2.85"/><circle cx="1495.4" cy="411.9" r="2.85"/><circle cx="1484.6" cy="410.6" r="2.85"/><circle cx="1514.1" cy="410.6" r="2.85"/><circle cx="1514.5" cy="415.2" r="2.85"/><circle cx="1483.7" cy="416.5" r="2.85"/><circle cx="1488.2" cy="417.7" r="2.85"/><circle cx="1494.2" cy="418.9" r="2.85"/><circle cx="1502.0" cy="417.2" r="2.85"/><circle cx="1503.2" cy="417.7" r="2.85"/><circle cx="1504.8" cy="417.2" r="2.85"/><circle cx="1511.1" cy="420.5" r="2.85"/><circle cx="1511.5" cy="424.8" r="2.85"/><circle cx="1483.7" cy="427.3" r="2.85"/><circle cx="1490.9" cy="428.2" r="2.85"/><circle cx="1502.0" cy="430.2" r="2.85"/><circle cx="1482.9" cy="437.6" r="2.85"/><circle cx="1502.5" cy="444.8" r="2.85"/><circle cx="1490.9" cy="451.8" r="2.85"/><circle cx="1490.9" cy="463.0" r="2.85"/><circle cx="1511.5" cy="460.9" r="2.85"/><circle cx="1512.0" cy="461.7" r="2.85"/><circle cx="1517.8" cy="462.1" r="2.85"/><circle cx="1516.1" cy="455.1" r="2.85"/><circle cx="1516.5" cy="441.5" r="2.85"/><circle cx="1520.6" cy="440.5" r="2.85"/><circle cx="1526.4" cy="443.8" r="2.85"/><circle cx="1523.3" cy="451.8" r="2.85"/><circle cx="1528.6" cy="453.7" r="2.85"/><circle cx="1546.4" cy="450.9" r="2.85"/><circle cx="1543.0" cy="460.1" r="2.85"/><circle cx="1551.8" cy="461.7" r="2.85"/><circle cx="1530.2" cy="465.9" r="2.85"/><circle cx="1543.0" cy="467.5" r="2.85"/><circle cx="1525.8" cy="475.8" r="2.85"/><circle cx="1534.9" cy="478.8" r="2.85"/><circle cx="1542.2" cy="475.3" r="2.85"/><circle cx="1542.7" cy="477.0" r="2.85"/><circle cx="1546.9" cy="480.8" r="2.85"/><circle cx="1556.0" cy="480.0" r="2.85"/><circle cx="1558.5" cy="475.3" r="2.85"/><circle cx="1519.0" cy="483.3" r="2.85"/><circle cx="1538.1" cy="487.5" r="2.85"/><circle cx="1542.2" cy="488.3" r="2.85"/><circle cx="1543.5" cy="489.1" r="2.85"/><circle cx="1546.0" cy="488.3" r="2.85"/><circle cx="1543.9" cy="492.9" r="2.85"/><circle cx="1529.7" cy="492.9" r="2.85"/><circle cx="1530.1" cy="493.6" r="2.85"/><circle cx="1521.9" cy="494.9" r="2.85"/><circle cx="1551.8" cy="490.0" r="2.85"/><circle cx="1552.2" cy="491.3" r="2.85"/><circle cx="1553.0" cy="493.6" r="2.85"/><circle cx="1554.0" cy="494.9" r="2.85"/><circle cx="1559.6" cy="496.6" r="2.85"/><circle cx="1561.3" cy="496.9" r="2.85"/><circle cx="1566.8" cy="499.1" r="2.85"/><circle cx="1569.3" cy="496.6" r="2.85"/><circle cx="1572.6" cy="487.5" r="2.85"/><circle cx="1573.1" cy="488.3" r="2.85"/><circle cx="1575.9" cy="487.5" r="2.85"/><circle cx="1573.8" cy="498.3" r="2.85"/><circle cx="1574.3" cy="499.1" r="2.85"/><circle cx="1577.9" cy="500.3" r="2.85"/><circle cx="1579.7" cy="496.6" r="2.85"/><circle cx="1580.1" cy="497.1" r="2.85"/><circle cx="1588.0" cy="500.3" r="2.85"/><circle cx="1589.2" cy="488.3" r="2.85"/><circle cx="1590.9" cy="495.4" r="2.85"/><circle cx="1591.7" cy="495.8" r="2.85"/><circle cx="1596.3" cy="488.8" r="2.85"/><circle cx="1596.7" cy="492.9" r="2.85"/><circle cx="1602.8" cy="488.8" r="2.85"/><circle cx="1603.3" cy="489.6" r="2.85"/><circle cx="1607.5" cy="490.8" r="2.85"/><circle cx="1604.7" cy="499.6" r="2.85"/><circle cx="1605.0" cy="500.3" r="2.85"/><circle cx="1608.6" cy="501.2" r="2.85"/><circle cx="1614.9" cy="490.8" r="2.85"/><circle cx="1615.3" cy="491.6" r="2.85"/><circle cx="1621.6" cy="499.9" r="2.85"/><circle cx="1628.6" cy="499.6" r="2.85"/><circle cx="1635.4" cy="498.8" r="2.85"/><circle cx="1635.7" cy="499.4" r="2.85"/></g>
<path d="M1474.70,405.09 L1476.04,405.10 L1477.38,405.18 L1478.72,405.32 L1480.06,405.55 L1481.39,405.87 L1482.73,406.29 L1484.07,406.81 L1485.41,407.44 L1486.75,408.18 L1488.09,409.03 L1489.43,410.00 L1490.77,411.08 L1492.11,412.27 L1493.45,413.58 L1494.78,414.99 L1496.12,416.51 L1497.46,418.13 L1498.80,419.84 L1500.14,421.64 L1501.48,423.53 L1502.82,425.49 L1504.16,427.52 L1505.50,429.61 L1506.84,431.76 L1508.17,433.94 L1509.51,436.17 L1510.85,438.42 L1512.19,440.68 L1513.53,442.96 L1514.87,445.24 L1516.21,447.50 L1517.55,449.75 L1518.89,451.98 L1520.23,454.17 L1521.56,456.32 L1522.90,458.43 L1524.24,460.48 L1525.58,462.47 L1526.92,464.41 L1528.26,466.27 L1529.60,468.06 L1530.94,469.78 L1532.28,471.43 L1533.62,472.99 L1534.95,474.48 L1536.29,475.88 L1537.63,477.21 L1538.97,478.46 L1540.31,479.63 L1541.65,480.72 L1542.99,481.73 L1544.33,482.68 L1545.67,483.55 L1547.00,484.35 L1548.34,485.09 L1549.68,485.77 L1551.02,486.39 L1552.36,486.95 L1553.70,487.46 L1555.04,487.93 L1556.38,488.34 L1557.72,488.72 L1559.06,489.05 L1560.39,489.35 L1561.73,489.62 L1563.07,489.86 L1564.41,490.06 L1565.75,490.25 L1567.09,490.41 L1568.43,490.55 L1569.77,490.68 L1571.11,490.78 L1572.45,490.88 L1573.78,490.96 L1575.12,491.03 L1576.46,491.08 L1577.80,491.14 L1579.14,491.18 L1580.48,491.22 L1581.82,491.25 L1583.16,491.27 L1584.50,491.30 L1585.84,491.31 L1587.17,491.33 L1588.51,491.34 L1589.85,491.35 L1591.19,491.36 L1592.53,491.37 L1593.87,491.38 L1595.21,491.38 L1596.55,491.38 L1597.89,491.39 L1599.23,491.39 L1600.56,491.39 L1601.90,491.39 L1603.24,491.39 L1604.58,491.40 L1605.92,491.40 L1607.26,491.40 L1608.60,491.40 L1609.94,491.40 L1611.28,491.40 L1612.61,491.40 L1613.95,491.40 L1615.29,491.40 L1616.63,491.40 L1617.97,491.40 L1619.31,491.40 L1620.65,491.40 L1621.99,491.40 L1623.33,491.40 L1624.67,491.40 L1626.00,491.40 L1627.34,491.40 L1628.68,491.40 L1630.02,491.40 L1631.36,491.40 L1632.70,491.40 L1634.04,491.40 L1635.38,491.40" fill="none" stroke="#000" stroke-width="4.1" stroke-linejoin="round"/>
<rect x="1467.1" y="386.1" width="176.0" height="120.39999999999998" fill="none" stroke="#262626" stroke-width="1.4" stroke-linejoin="round"/>
<line x1="1474.70" y1="506.5" x2="1474.70" y2="521.5" stroke="#000" stroke-width="2.1"/>
<text x="1474.70" y="537.00" font-size="15.35" text-anchor="middle" fill="#000">0</text>
<line x1="1514.80" y1="506.5" x2="1514.80" y2="521.5" stroke="#000" stroke-width="2.1"/>
<text x="1514.80" y="537.00" font-size="15.35" text-anchor="middle" fill="#000">25</text>
<line x1="1554.90" y1="506.5" x2="1554.90" y2="521.5" stroke="#000" stroke-width="2.1"/>
<text x="1554.90" y="537.00" font-size="15.35" text-anchor="middle" fill="#000">50</text>
<line x1="1595.00" y1="506.5" x2="1595.00" y2="521.5" stroke="#000" stroke-width="2.1"/>
<text x="1595.00" y="537.00" font-size="15.35" text-anchor="middle" fill="#000">75</text>
<line x1="1635.10" y1="506.5" x2="1635.10" y2="521.5" stroke="#000" stroke-width="2.1"/>
<text x="1635.10" y="537.00" font-size="15.35" text-anchor="middle" fill="#000">100</text>
<text x="1555.10" y="374.60" font-size="18.7" text-anchor="middle" fill="#000">w</text>
<rect x="901.9" y="591.0" width="176.0000000000001" height="120.0" fill="#fff"/>
<g fill="none" stroke="#0000ff" stroke-opacity="0.5" stroke-width="1.3"><circle cx="909.4" cy="596.1" r="2.85"/><circle cx="909.4" cy="596.3" r="2.85"/><circle cx="909.4" cy="598.8" r="2.85"/><circle cx="909.4" cy="599.0" r="2.85"/><circle cx="909.4" cy="599.1" r="2.85"/><circle cx="909.4" cy="601.1" r="2.85"/><circle cx="909.4" cy="601.4" r="2.85"/><circle cx="909.4" cy="603.8" r="2.85"/><circle cx="909.4" cy="603.9" r="2.85"/><circle cx="909.4" cy="604.1" r="2.85"/><circle cx="909.4" cy="606.4" r="2.85"/><circle cx="909.4" cy="606.8" r="2.85"/><circle cx="909.4" cy="608.8" r="2.85"/><circle cx="909.4" cy="609.1" r="2.85"/><circle cx="909.4" cy="610.4" r="2.85"/><circle cx="909.4" cy="610.6" r="2.85"/><circle cx="909.4" cy="614.4" r="2.85"/><circle cx="909.4" cy="616.2" r="2.85"/><circle cx="909.4" cy="617.9" r="2.85"/><circle cx="909.4" cy="625.9" r="2.85"/><circle cx="917.8" cy="606.1" r="2.85"/><circle cx="924.4" cy="603.9" r="2.85"/><circle cx="931.9" cy="608.3" r="2.85"/><circle cx="939.0" cy="608.6" r="2.85"/><circle cx="947.6" cy="609.9" r="2.85"/><circle cx="928.2" cy="611.9" r="2.85"/><circle cx="932.9" cy="616.9" r="2.85"/><circle cx="918.6" cy="615.6" r="2.85"/><circle cx="917.4" cy="621.5" r="2.85"/><circle cx="921.9" cy="622.4" r="2.85"/><circle cx="927.4" cy="623.5" r="2.85"/><circle cx="934.9" cy="622.4" r="2.85"/><circle cx="941.5" cy="619.4" r="2.85"/><circle cx="945.2" cy="615.2" r="2.85"/><circle cx="945.2" cy="619.9" r="2.85"/><circle cx="944.5" cy="622.2" r="2.85"/><circle cx="944.3" cy="626.0" r="2.85"/><circle cx="944.3" cy="629.8" r="2.85"/><circle cx="917.8" cy="632.3" r="2.85"/><circle cx="934.5" cy="633.2" r="2.85"/><circle cx="934.9" cy="635.2" r="2.85"/><circle cx="920.4" cy="642.3" r="2.85"/><circle cx="933.2" cy="649.8" r="2.85"/><circle cx="931.5" cy="656.8" r="2.85"/><circle cx="931.5" cy="668.0" r="2.85"/><circle cx="944.0" cy="665.9" r="2.85"/><circle cx="947.3" cy="666.7" r="2.85"/><circle cx="951.1" cy="667.1" r="2.85"/><circle cx="948.1" cy="660.1" r="2.85"/><circle cx="953.5" cy="646.8" r="2.85"/><circle cx="958.4" cy="645.5" r="2.85"/><circle cx="958.1" cy="648.9" r="2.85"/><circle cx="957.3" cy="655.9" r="2.85"/><circle cx="960.3" cy="658.7" r="2.85"/><circle cx="976.9" cy="655.9" r="2.85"/><circle cx="973.9" cy="664.7" r="2.85"/><circle cx="967.2" cy="670.9" r="2.85"/><circle cx="973.9" cy="672.5" r="2.85"/><circle cx="997.6" cy="666.4" r="2.85"/><circle cx="966.7" cy="683.8" r="2.85"/><circle cx="972.2" cy="680.0" r="2.85"/><circle cx="973.1" cy="684.2" r="2.85"/><circle cx="980.9" cy="685.0" r="2.85"/><circle cx="1000.8" cy="680.3" r="2.85"/><circle cx="994.7" cy="686.3" r="2.85"/><circle cx="958.9" cy="688.3" r="2.85"/><circle cx="964.4" cy="693.8" r="2.85"/><circle cx="970.6" cy="692.8" r="2.85"/><circle cx="977.2" cy="692.1" r="2.85"/><circle cx="973.9" cy="696.1" r="2.85"/><circle cx="967.2" cy="697.9" r="2.85"/><circle cx="967.6" cy="698.6" r="2.85"/><circle cx="956.5" cy="699.9" r="2.85"/><circle cx="990.5" cy="696.6" r="2.85"/><circle cx="989.7" cy="701.6" r="2.85"/><circle cx="994.7" cy="692.0" r="2.85"/><circle cx="995.5" cy="693.3" r="2.85"/><circle cx="995.1" cy="699.1" r="2.85"/><circle cx="993.0" cy="704.9" r="2.85"/><circle cx="995.8" cy="704.6" r="2.85"/><circle cx="1000.0" cy="692.0" r="2.85"/><circle cx="1001.3" cy="695.8" r="2.85"/><circle cx="1002.1" cy="699.9" r="2.85"/><circle cx="1002.1" cy="701.6" r="2.85"/><circle cx="1002.5" cy="704.1" r="2.85"/><circle cx="1003.5" cy="705.3" r="2.85"/><circle cx="1006.6" cy="701.6" r="2.85"/><circle cx="1012.4" cy="692.8" r="2.85"/><circle cx="1014.6" cy="701.6" r="2.85"/><circle cx="1017.4" cy="701.3" r="2.85"/><circle cx="1018.7" cy="693.3" r="2.85"/><circle cx="1018.4" cy="705.3" r="2.85"/><circle cx="1019.2" cy="705.8" r="2.85"/><circle cx="1022.6" cy="706.2" r="2.85"/><circle cx="1025.0" cy="693.8" r="2.85"/><circle cx="1025.4" cy="694.6" r="2.85"/><circle cx="1026.2" cy="701.6" r="2.85"/><circle cx="1026.5" cy="702.1" r="2.85"/><circle cx="1035.0" cy="704.9" r="2.85"/><circle cx="1038.3" cy="695.0" r="2.85"/><circle cx="1039.5" cy="700.4" r="2.85"/><circle cx="1041.5" cy="700.8" r="2.85"/><circle cx="1041.2" cy="704.9" r="2.85"/><circle cx="1046.5" cy="700.4" r="2.85"/><circle cx="1047.8" cy="703.8" r="2.85"/><circle cx="1048.1" cy="704.4" r="2.85"/><circle cx="1050.0" cy="695.0" r="2.85"/><circle cx="1059.4" cy="695.5" r="2.85"/><circle cx="1061.4" cy="694.6" r="2.85"/><circle cx="1070.2" cy="695.8" r="2.85"/><circle cx="1070.6" cy="696.6" r="2.85"/><circle cx="1070.7" cy="696.1" r="2.85"/></g>
<path d="M909.40,608.92 L910.74,608.94 L912.08,608.99 L913.42,609.10 L914.76,609.29 L916.10,609.56 L917.44,609.91 L918.78,610.36 L920.12,610.91 L921.46,611.56 L922.80,612.33 L924.14,613.20 L925.48,614.19 L926.82,615.28 L928.16,616.49 L929.50,617.81 L930.84,619.24 L932.18,620.78 L933.52,622.42 L934.86,624.15 L936.20,625.98 L937.54,627.89 L938.88,629.88 L940.22,631.95 L941.56,634.07 L942.90,636.26 L944.24,638.48 L945.58,640.75 L946.92,643.05 L948.26,645.36 L949.60,647.69 L950.94,650.02 L952.28,652.34 L953.63,654.64 L954.97,656.91 L956.31,659.16 L957.65,661.36 L958.99,663.51 L960.33,665.61 L961.67,667.65 L963.01,669.63 L964.35,671.53 L965.69,673.36 L967.03,675.11 L968.37,676.78 L969.71,678.36 L971.05,679.87 L972.39,681.29 L973.73,682.63 L975.07,683.88 L976.41,685.05 L977.75,686.14 L979.09,687.15 L980.43,688.09 L981.77,688.95 L983.11,689.74 L984.45,690.46 L985.79,691.12 L987.13,691.72 L988.47,692.26 L989.81,692.75 L991.15,693.19 L992.49,693.59 L993.83,693.94 L995.17,694.25 L996.51,694.53 L997.85,694.77 L999.19,694.99 L1000.53,695.18 L1001.87,695.34 L1003.21,695.48 L1004.55,695.61 L1005.89,695.72 L1007.23,695.81 L1008.57,695.89 L1009.91,695.96 L1011.25,696.01 L1012.59,696.06 L1013.93,696.10 L1015.27,696.14 L1016.61,696.17 L1017.95,696.19 L1019.29,696.21 L1020.63,696.23 L1021.97,696.24 L1023.31,696.25 L1024.65,696.26 L1025.99,696.27 L1027.33,696.28 L1028.67,696.28 L1030.01,696.28 L1031.35,696.29 L1032.69,696.29 L1034.03,696.29 L1035.37,696.29 L1036.71,696.30 L1038.05,696.30 L1039.39,696.30 L1040.74,696.30 L1042.08,696.30 L1043.42,696.30 L1044.76,696.30 L1046.10,696.30 L1047.44,696.30 L1048.78,696.30 L1050.12,696.30 L1051.46,696.30 L1052.80,696.30 L1054.14,696.30 L1055.48,696.30 L1056.82,696.30 L1058.16,696.30 L1059.50,696.30 L1060.84,696.30 L1062.18,696.30 L1063.52,696.30 L1064.86,696.30 L1066.20,696.30 L1067.54,696.30 L1068.88,696.30 L1070.22,696.30" fill="none" stroke="#000" stroke-width="4.1" stroke-linejoin="round"/>
<rect x="901.9" y="591.0" width="176.0000000000001" height="120.0" fill="none" stroke="#262626" stroke-width="1.4" stroke-linejoin="round"/>
<line x1="909.40" y1="711.0" x2="909.40" y2="726.0" stroke="#000" stroke-width="2.1"/>
<text x="909.40" y="741.50" font-size="15.35" text-anchor="middle" fill="#000">0</text>
<line x1="969.50" y1="711.0" x2="969.50" y2="726.0" stroke="#000" stroke-width="2.1"/>
<text x="969.50" y="741.50" font-size="15.35" text-anchor="middle" fill="#000">50</text>
<line x1="1029.60" y1="711.0" x2="1029.60" y2="726.0" stroke="#000" stroke-width="2.1"/>
<text x="1029.60" y="741.50" font-size="15.35" text-anchor="middle" fill="#000">100</text>
<line x1="886.9" y1="696.30" x2="901.9" y2="696.30" stroke="#000" stroke-width="2.1"/>
<text x="882.70" y="702.89" font-size="18.4" text-anchor="end" fill="#000">0</text>
<line x1="886.9" y1="659.90" x2="901.9" y2="659.90" stroke="#000" stroke-width="2.1"/>
<text x="882.70" y="666.49" font-size="18.4" text-anchor="end" fill="#000">20</text>
<line x1="886.9" y1="623.50" x2="901.9" y2="623.50" stroke="#000" stroke-width="2.1"/>
<text x="882.70" y="630.09" font-size="18.4" text-anchor="end" fill="#000">40</text>
<text x="989.90" y="579.50" font-size="18.7" text-anchor="middle" fill="#000">ht</text>
<rect x="1090.2" y="591.0" width="176.0" height="120.0" fill="#fff"/>
<g fill="none" stroke="#0000ff" stroke-opacity="0.5" stroke-width="1.3"><circle cx="1097.6" cy="596.1" r="2.85"/><circle cx="1097.6" cy="596.3" r="2.85"/><circle cx="1097.6" cy="598.8" r="2.85"/><circle cx="1097.6" cy="599.0" r="2.85"/><circle cx="1097.6" cy="599.1" r="2.85"/><circle cx="1097.6" cy="601.1" r="2.85"/><circle cx="1097.6" cy="601.4" r="2.85"/><circle cx="1097.6" cy="603.8" r="2.85"/><circle cx="1097.6" cy="603.9" r="2.85"/><circle cx="1097.6" cy="604.1" r="2.85"/><circle cx="1097.6" cy="606.4" r="2.85"/><circle cx="1097.6" cy="606.8" r="2.85"/><circle cx="1097.6" cy="608.8" r="2.85"/><circle cx="1097.6" cy="609.1" r="2.85"/><circle cx="1097.6" cy="610.4" r="2.85"/><circle cx="1097.6" cy="610.6" r="2.85"/><circle cx="1097.6" cy="614.4" r="2.85"/><circle cx="1097.6" cy="616.2" r="2.85"/><circle cx="1097.6" cy="617.9" r="2.85"/><circle cx="1097.6" cy="625.9" r="2.85"/><circle cx="1103.9" cy="606.1" r="2.85"/><circle cx="1106.4" cy="603.9" r="2.85"/><circle cx="1110.9" cy="608.3" r="2.85"/><circle cx="1115.6" cy="608.6" r="2.85"/><circle cx="1123.0" cy="609.9" r="2.85"/><circle cx="1109.7" cy="611.9" r="2.85"/><circle cx="1114.7" cy="616.9" r="2.85"/><circle cx="1104.8" cy="615.6" r="2.85"/><circle cx="1103.6" cy="621.5" r="2.85"/><circle cx="1107.3" cy="622.4" r="2.85"/><circle cx="1111.9" cy="623.5" r="2.85"/><circle cx="1118.0" cy="622.4" r="2.85"/><circle cx="1121.4" cy="621.9" r="2.85"/><circle cx="1124.2" cy="622.4" r="2.85"/><circle cx="1130.2" cy="619.4" r="2.85"/><circle cx="1132.7" cy="615.2" r="2.85"/><circle cx="1133.0" cy="620.2" r="2.85"/><circle cx="1121.4" cy="626.0" r="2.85"/><circle cx="1121.9" cy="629.8" r="2.85"/><circle cx="1103.9" cy="632.3" r="2.85"/><circle cx="1110.1" cy="632.3" r="2.85"/><circle cx="1116.7" cy="635.2" r="2.85"/><circle cx="1104.3" cy="642.3" r="2.85"/><circle cx="1124.4" cy="649.8" r="2.85"/><circle cx="1111.1" cy="656.8" r="2.85"/><circle cx="1111.1" cy="668.0" r="2.85"/><circle cx="1121.4" cy="665.9" r="2.85"/><circle cx="1130.5" cy="666.4" r="2.85"/><circle cx="1132.2" cy="658.7" r="2.85"/><circle cx="1137.1" cy="666.7" r="2.85"/><circle cx="1134.7" cy="646.8" r="2.85"/><circle cx="1137.5" cy="645.5" r="2.85"/><circle cx="1145.0" cy="648.5" r="2.85"/><circle cx="1141.8" cy="656.4" r="2.85"/><circle cx="1138.8" cy="660.1" r="2.85"/><circle cx="1157.4" cy="655.9" r="2.85"/><circle cx="1155.7" cy="664.7" r="2.85"/><circle cx="1146.3" cy="670.9" r="2.85"/><circle cx="1155.7" cy="672.5" r="2.85"/><circle cx="1182.0" cy="666.4" r="2.85"/><circle cx="1140.5" cy="679.2" r="2.85"/><circle cx="1141.3" cy="680.8" r="2.85"/><circle cx="1142.1" cy="682.0" r="2.85"/><circle cx="1141.8" cy="684.2" r="2.85"/><circle cx="1137.1" cy="683.8" r="2.85"/><circle cx="1136.8" cy="688.3" r="2.85"/><circle cx="1189.1" cy="680.3" r="2.85"/><circle cx="1158.2" cy="686.2" r="2.85"/><circle cx="1165.9" cy="685.0" r="2.85"/><circle cx="1153.8" cy="693.8" r="2.85"/><circle cx="1155.7" cy="695.0" r="2.85"/><circle cx="1156.2" cy="697.4" r="2.85"/><circle cx="1157.9" cy="693.3" r="2.85"/><circle cx="1161.7" cy="696.1" r="2.85"/><circle cx="1162.9" cy="697.4" r="2.85"/><circle cx="1145.8" cy="697.9" r="2.85"/><circle cx="1146.1" cy="698.6" r="2.85"/><circle cx="1139.3" cy="699.9" r="2.85"/><circle cx="1167.0" cy="698.6" r="2.85"/><circle cx="1166.7" cy="701.9" r="2.85"/><circle cx="1171.2" cy="692.0" r="2.85"/><circle cx="1171.5" cy="704.1" r="2.85"/><circle cx="1174.5" cy="702.4" r="2.85"/><circle cx="1176.2" cy="704.1" r="2.85"/><circle cx="1176.5" cy="703.3" r="2.85"/><circle cx="1177.5" cy="692.5" r="2.85"/><circle cx="1178.7" cy="692.0" r="2.85"/><circle cx="1181.2" cy="701.6" r="2.85"/><circle cx="1184.5" cy="692.0" r="2.85"/><circle cx="1184.8" cy="701.9" r="2.85"/><circle cx="1185.6" cy="704.9" r="2.85"/><circle cx="1187.8" cy="692.8" r="2.85"/><circle cx="1189.5" cy="701.6" r="2.85"/><circle cx="1189.8" cy="702.1" r="2.85"/><circle cx="1192.0" cy="705.3" r="2.85"/><circle cx="1192.8" cy="693.3" r="2.85"/><circle cx="1197.4" cy="693.8" r="2.85"/><circle cx="1197.8" cy="694.5" r="2.85"/><circle cx="1202.8" cy="704.4" r="2.85"/><circle cx="1203.1" cy="705.3" r="2.85"/><circle cx="1205.2" cy="706.2" r="2.85"/><circle cx="1214.9" cy="695.5" r="2.85"/><circle cx="1214.4" cy="704.9" r="2.85"/><circle cx="1219.4" cy="704.6" r="2.85"/><circle cx="1223.5" cy="703.8" r="2.85"/><circle cx="1223.8" cy="704.1" r="2.85"/><circle cx="1221.0" cy="695.5" r="2.85"/><circle cx="1227.7" cy="695.0" r="2.85"/><circle cx="1229.8" cy="695.8" r="2.85"/><circle cx="1236.5" cy="695.8" r="2.85"/><circle cx="1236.8" cy="696.3" r="2.85"/><circle cx="1251.7" cy="699.9" r="2.85"/><circle cx="1253.1" cy="700.8" r="2.85"/><circle cx="1254.2" cy="701.3" r="2.85"/><circle cx="1255.9" cy="699.9" r="2.85"/><circle cx="1259.2" cy="697.1" r="2.85"/></g>
<path d="M1097.60,609.75 L1098.94,609.79 L1100.28,609.93 L1101.62,610.19 L1102.96,610.61 L1104.30,611.20 L1105.64,611.95 L1106.98,612.88 L1108.32,613.99 L1109.66,615.29 L1111.00,616.76 L1112.34,618.42 L1113.68,620.24 L1115.02,622.23 L1116.36,624.37 L1117.70,626.66 L1119.04,629.07 L1120.38,631.60 L1121.72,634.22 L1123.06,636.93 L1124.40,639.71 L1125.74,642.53 L1127.08,645.38 L1128.42,648.24 L1129.76,651.10 L1131.10,653.94 L1132.44,656.74 L1133.78,659.49 L1135.12,662.17 L1136.46,664.77 L1137.80,667.28 L1139.14,669.69 L1140.48,671.99 L1141.82,674.18 L1143.16,676.25 L1144.50,678.20 L1145.84,680.02 L1147.18,681.72 L1148.52,683.29 L1149.86,684.74 L1151.20,686.08 L1152.54,687.29 L1153.88,688.39 L1155.22,689.39 L1156.56,690.29 L1157.90,691.09 L1159.24,691.81 L1160.58,692.44 L1161.92,693.00 L1163.26,693.49 L1164.60,693.92 L1165.93,694.29 L1167.27,694.61 L1168.61,694.89 L1169.95,695.12 L1171.29,695.32 L1172.63,695.50 L1173.97,695.64 L1175.31,695.76 L1176.65,695.86 L1177.99,695.94 L1179.33,696.01 L1180.67,696.07 L1182.01,696.12 L1183.35,696.15 L1184.69,696.18 L1186.03,696.21 L1187.37,696.23 L1188.71,696.24 L1190.05,696.26 L1191.39,696.27 L1192.73,696.27 L1194.07,696.28 L1195.41,696.29 L1196.75,696.29 L1198.09,696.29 L1199.43,696.29 L1200.77,696.30 L1202.11,696.30 L1203.45,696.30 L1204.79,696.30 L1206.13,696.30 L1207.47,696.30 L1208.81,696.30 L1210.15,696.30 L1211.49,696.30 L1212.83,696.30 L1214.17,696.30 L1215.51,696.30 L1216.85,696.30 L1218.19,696.30 L1219.53,696.30 L1220.87,696.30 L1222.21,696.30 L1223.55,696.30 L1224.89,696.30 L1226.23,696.30 L1227.57,696.30 L1228.91,696.30 L1230.25,696.30 L1231.59,696.30 L1232.93,696.30 L1234.27,696.30 L1235.61,696.30 L1236.95,696.30 L1238.29,696.30 L1239.63,696.30 L1240.97,696.30 L1242.31,696.30 L1243.65,696.30 L1244.99,696.30 L1246.33,696.30 L1247.67,696.30 L1249.01,696.30 L1250.35,696.30 L1251.69,696.30 L1253.03,696.30 L1254.37,696.30 L1255.71,696.30 L1257.05,696.30 L1258.39,696.30" fill="none" stroke="#000" stroke-width="4.1" stroke-linejoin="round"/>
<rect x="1090.2" y="591.0" width="176.0" height="120.0" fill="none" stroke="#262626" stroke-width="1.4" stroke-linejoin="round"/>
<line x1="1097.60" y1="711.0" x2="1097.60" y2="726.0" stroke="#000" stroke-width="2.1"/>
<text x="1097.60" y="741.50" font-size="15.35" text-anchor="middle" fill="#000">0</text>
<line x1="1158.60" y1="711.0" x2="1158.60" y2="726.0" stroke="#000" stroke-width="2.1"/>
<text x="1158.60" y="741.50" font-size="15.35" text-anchor="middle" fill="#000">10</text>
<line x1="1219.60" y1="711.0" x2="1219.60" y2="726.0" stroke="#000" stroke-width="2.1"/>
<text x="1219.60" y="741.50" font-size="15.35" text-anchor="middle" fill="#000">20</text>
<text x="1178.20" y="579.50" font-size="18.7" text-anchor="middle" fill="#000">hw</text>
<rect x="1278.8" y="591.0" width="176.0" height="120.0" fill="#fff"/>
<g fill="none" stroke="#0000ff" stroke-opacity="0.5" stroke-width="1.3"><circle cx="1286.3" cy="596.1" r="2.85"/><circle cx="1286.3" cy="596.3" r="2.85"/><circle cx="1286.3" cy="598.8" r="2.85"/><circle cx="1286.3" cy="599.0" r="2.85"/><circle cx="1286.3" cy="599.1" r="2.85"/><circle cx="1286.3" cy="601.1" r="2.85"/><circle cx="1286.3" cy="601.4" r="2.85"/><circle cx="1286.3" cy="603.8" r="2.85"/><circle cx="1286.3" cy="603.9" r="2.85"/><circle cx="1286.3" cy="604.1" r="2.85"/><circle cx="1286.3" cy="606.4" r="2.85"/><circle cx="1286.3" cy="606.8" r="2.85"/><circle cx="1286.3" cy="608.8" r="2.85"/><circle cx="1286.3" cy="609.1" r="2.85"/><circle cx="1286.3" cy="610.4" r="2.85"/><circle cx="1286.3" cy="610.6" r="2.85"/><circle cx="1286.3" cy="614.4" r="2.85"/><circle cx="1286.3" cy="616.2" r="2.85"/><circle cx="1286.3" cy="617.9" r="2.85"/><circle cx="1286.3" cy="625.9" r="2.85"/><circle cx="1296.4" cy="606.1" r="2.85"/><circle cx="1298.6" cy="603.6" r="2.85"/><circle cx="1304.9" cy="608.3" r="2.85"/><circle cx="1311.0" cy="608.6" r="2.85"/><circle cx="1339.6" cy="609.8" r="2.85"/><circle cx="1313.0" cy="612.2" r="2.85"/><circle cx="1310.5" cy="616.9" r="2.85"/><circle cx="1295.3" cy="615.6" r="2.85"/><circle cx="1296.4" cy="621.5" r="2.85"/><circle cx="1301.6" cy="622.4" r="2.85"/><circle cx="1308.9" cy="623.5" r="2.85"/><circle cx="1316.3" cy="622.7" r="2.85"/><circle cx="1317.7" cy="622.2" r="2.85"/><circle cx="1321.0" cy="621.9" r="2.85"/><circle cx="1322.3" cy="619.1" r="2.85"/><circle cx="1333.1" cy="614.9" r="2.85"/><circle cx="1333.1" cy="620.2" r="2.85"/><circle cx="1333.9" cy="625.5" r="2.85"/><circle cx="1333.9" cy="629.8" r="2.85"/><circle cx="1296.6" cy="632.3" r="2.85"/><circle cx="1305.5" cy="632.7" r="2.85"/><circle cx="1316.5" cy="635.2" r="2.85"/><circle cx="1295.6" cy="642.3" r="2.85"/><circle cx="1305.2" cy="649.8" r="2.85"/><circle cx="1304.9" cy="656.8" r="2.85"/><circle cx="1304.9" cy="668.0" r="2.85"/><circle cx="1324.3" cy="647.1" r="2.85"/><circle cx="1329.0" cy="656.4" r="2.85"/><circle cx="1326.5" cy="660.1" r="2.85"/><circle cx="1323.2" cy="666.7" r="2.85"/><circle cx="1330.5" cy="666.4" r="2.85"/><circle cx="1333.9" cy="665.9" r="2.85"/><circle cx="1340.1" cy="645.5" r="2.85"/><circle cx="1340.1" cy="648.5" r="2.85"/><circle cx="1354.7" cy="658.7" r="2.85"/><circle cx="1366.7" cy="655.9" r="2.85"/><circle cx="1360.9" cy="664.7" r="2.85"/><circle cx="1360.9" cy="665.4" r="2.85"/><circle cx="1351.7" cy="670.9" r="2.85"/><circle cx="1360.9" cy="672.5" r="2.85"/><circle cx="1347.1" cy="680.5" r="2.85"/><circle cx="1364.7" cy="680.0" r="2.85"/><circle cx="1370.0" cy="679.7" r="2.85"/><circle cx="1370.5" cy="681.7" r="2.85"/><circle cx="1370.0" cy="684.2" r="2.85"/><circle cx="1371.7" cy="686.3" r="2.85"/><circle cx="1324.3" cy="688.3" r="2.85"/><circle cx="1340.4" cy="692.5" r="2.85"/><circle cx="1345.1" cy="693.8" r="2.85"/><circle cx="1342.3" cy="699.6" r="2.85"/><circle cx="1351.7" cy="697.9" r="2.85"/><circle cx="1352.1" cy="698.6" r="2.85"/><circle cx="1353.7" cy="692.8" r="2.85"/><circle cx="1358.7" cy="692.5" r="2.85"/><circle cx="1360.9" cy="695.8" r="2.85"/><circle cx="1365.8" cy="693.6" r="2.85"/><circle cx="1368.0" cy="696.6" r="2.85"/><circle cx="1365.8" cy="699.6" r="2.85"/><circle cx="1375.0" cy="701.6" r="2.85"/><circle cx="1376.1" cy="704.9" r="2.85"/><circle cx="1377.1" cy="695.8" r="2.85"/><circle cx="1377.8" cy="697.4" r="2.85"/><circle cx="1380.8" cy="701.6" r="2.85"/><circle cx="1384.9" cy="701.6" r="2.85"/><circle cx="1386.6" cy="700.8" r="2.85"/><circle cx="1387.8" cy="692.5" r="2.85"/><circle cx="1388.3" cy="693.3" r="2.85"/><circle cx="1388.8" cy="700.8" r="2.85"/><circle cx="1389.4" cy="704.9" r="2.85"/><circle cx="1390.3" cy="704.1" r="2.85"/><circle cx="1393.7" cy="692.0" r="2.85"/><circle cx="1395.7" cy="700.8" r="2.85"/><circle cx="1396.6" cy="702.4" r="2.85"/><circle cx="1397.7" cy="703.8" r="2.85"/><circle cx="1400.7" cy="695.8" r="2.85"/><circle cx="1409.0" cy="693.3" r="2.85"/><circle cx="1410.3" cy="704.1" r="2.85"/><circle cx="1410.7" cy="705.3" r="2.85"/><circle cx="1411.2" cy="705.8" r="2.85"/><circle cx="1416.2" cy="706.1" r="2.85"/><circle cx="1416.8" cy="693.8" r="2.85"/><circle cx="1424.0" cy="693.8" r="2.85"/><circle cx="1424.3" cy="694.5" r="2.85"/><circle cx="1422.3" cy="696.3" r="2.85"/><circle cx="1431.4" cy="695.8" r="2.85"/><circle cx="1431.9" cy="696.6" r="2.85"/><circle cx="1431.8" cy="704.9" r="2.85"/><circle cx="1439.2" cy="704.6" r="2.85"/><circle cx="1447.2" cy="703.8" r="2.85"/><circle cx="1447.6" cy="704.4" r="2.85"/></g>
<path d="M1286.30,610.25 L1287.64,610.27 L1288.97,610.32 L1290.31,610.44 L1291.65,610.62 L1292.98,610.87 L1294.32,611.21 L1295.66,611.62 L1296.99,612.13 L1298.33,612.72 L1299.67,613.41 L1301.01,614.19 L1302.34,615.07 L1303.68,616.04 L1305.02,617.11 L1306.35,618.27 L1307.69,619.52 L1309.03,620.86 L1310.36,622.29 L1311.70,623.80 L1313.04,625.38 L1314.37,627.04 L1315.71,628.78 L1317.05,630.57 L1318.38,632.42 L1319.72,634.33 L1321.06,636.28 L1322.39,638.26 L1323.73,640.29 L1325.07,642.33 L1326.41,644.40 L1327.74,646.48 L1329.08,648.56 L1330.42,650.64 L1331.75,652.71 L1333.09,654.77 L1334.43,656.81 L1335.76,658.82 L1337.10,660.80 L1338.44,662.74 L1339.77,664.64 L1341.11,666.49 L1342.45,668.29 L1343.78,670.04 L1345.12,671.72 L1346.46,673.35 L1347.79,674.92 L1349.13,676.42 L1350.47,677.85 L1351.80,679.22 L1353.14,680.53 L1354.48,681.76 L1355.82,682.93 L1357.15,684.03 L1358.49,685.07 L1359.83,686.04 L1361.16,686.95 L1362.50,687.80 L1363.84,688.59 L1365.17,689.32 L1366.51,689.99 L1367.85,690.62 L1369.18,691.20 L1370.52,691.72 L1371.86,692.21 L1373.19,692.65 L1374.53,693.05 L1375.87,693.41 L1377.20,693.74 L1378.54,694.04 L1379.88,694.31 L1381.22,694.55 L1382.55,694.76 L1383.89,694.96 L1385.23,695.13 L1386.56,695.28 L1387.90,695.41 L1389.24,695.53 L1390.57,695.64 L1391.91,695.73 L1393.25,695.81 L1394.58,695.88 L1395.92,695.94 L1397.26,695.99 L1398.59,696.04 L1399.93,696.08 L1401.27,696.11 L1402.60,696.14 L1403.94,696.17 L1405.28,696.19 L1406.62,696.21 L1407.95,696.22 L1409.29,696.24 L1410.63,696.25 L1411.96,696.26 L1413.30,696.26 L1414.64,696.27 L1415.97,696.28 L1417.31,696.28 L1418.65,696.28 L1419.98,696.29 L1421.32,696.29 L1422.66,696.29 L1423.99,696.29 L1425.33,696.29 L1426.67,696.30 L1428.00,696.30 L1429.34,696.30 L1430.68,696.30 L1432.02,696.30 L1433.35,696.30 L1434.69,696.30 L1436.03,696.30 L1437.36,696.30 L1438.70,696.30 L1440.04,696.30 L1441.37,696.30 L1442.71,696.30 L1444.05,696.30 L1445.38,696.30 L1446.72,696.30" fill="none" stroke="#000" stroke-width="4.1" stroke-linejoin="round"/>
<rect x="1278.8" y="591.0" width="176.0" height="120.0" fill="none" stroke="#262626" stroke-width="1.4" stroke-linejoin="round"/>
<line x1="1286.30" y1="711.0" x2="1286.30" y2="726.0" stroke="#000" stroke-width="2.1"/>
<text x="1286.30" y="741.50" font-size="15.35" text-anchor="middle" fill="#000">0</text>
<line x1="1332.30" y1="711.0" x2="1332.30" y2="726.0" stroke="#000" stroke-width="2.1"/>
<text x="1332.30" y="741.50" font-size="15.35" text-anchor="middle" fill="#000">500</text>
<line x1="1378.30" y1="711.0" x2="1378.30" y2="726.0" stroke="#000" stroke-width="2.1"/>
<text x="1378.30" y="741.50" font-size="15.35" text-anchor="middle" fill="#000">1000</text>
<line x1="1424.30" y1="711.0" x2="1424.30" y2="726.0" stroke="#000" stroke-width="2.1"/>
<text x="1424.30" y="741.50" font-size="15.35" text-anchor="middle" fill="#000">1500</text>
<text x="1366.80" y="579.50" font-size="18.7" text-anchor="middle" fill="#000">tw</text>
<rect x="1467.1" y="591.0" width="176.0" height="120.0" fill="#fff"/>
<g fill="none" stroke="#0000ff" stroke-opacity="0.5" stroke-width="1.3"><circle cx="1474.8" cy="596.1" r="2.85"/><circle cx="1474.8" cy="596.3" r="2.85"/><circle cx="1474.8" cy="598.8" r="2.85"/><circle cx="1474.8" cy="599.0" r="2.85"/><circle cx="1474.8" cy="599.1" r="2.85"/><circle cx="1474.8" cy="601.1" r="2.85"/><circle cx="1474.8" cy="601.4" r="2.85"/><circle cx="1474.8" cy="603.8" r="2.85"/><circle cx="1474.8" cy="603.9" r="2.85"/><circle cx="1474.8" cy="604.1" r="2.85"/><circle cx="1474.8" cy="606.4" r="2.85"/><circle cx="1474.8" cy="606.8" r="2.85"/><circle cx="1474.8" cy="608.8" r="2.85"/><circle cx="1474.8" cy="609.1" r="2.85"/><circle cx="1474.8" cy="610.4" r="2.85"/><circle cx="1474.8" cy="610.6" r="2.85"/><circle cx="1474.8" cy="614.4" r="2.85"/><circle cx="1474.8" cy="616.2" r="2.85"/><circle cx="1474.8" cy="617.9" r="2.85"/><circle cx="1474.8" cy="625.9" r="2.85"/><circle cx="1482.9" cy="606.1" r="2.85"/><circle cx="1485.7" cy="603.6" r="2.85"/><circle cx="1491.2" cy="608.3" r="2.85"/><circle cx="1497.0" cy="608.6" r="2.85"/><circle cx="1512.0" cy="609.8" r="2.85"/><circle cx="1493.2" cy="612.2" r="2.85"/><circle cx="1497.9" cy="616.9" r="2.85"/><circle cx="1483.7" cy="615.2" r="2.85"/><circle cx="1482.6" cy="621.5" r="2.85"/><circle cx="1486.6" cy="622.4" r="2.85"/><circle cx="1492.0" cy="623.5" r="2.85"/><circle cx="1498.7" cy="622.4" r="2.85"/><circle cx="1505.3" cy="621.5" r="2.85"/><circle cx="1507.0" cy="619.1" r="2.85"/><circle cx="1510.8" cy="621.9" r="2.85"/><circle cx="1522.8" cy="614.9" r="2.85"/><circle cx="1522.8" cy="620.2" r="2.85"/><circle cx="1509.0" cy="625.5" r="2.85"/><circle cx="1509.0" cy="629.8" r="2.85"/><circle cx="1482.6" cy="632.3" r="2.85"/><circle cx="1490.9" cy="632.7" r="2.85"/><circle cx="1498.2" cy="635.2" r="2.85"/><circle cx="1482.9" cy="642.3" r="2.85"/><circle cx="1495.7" cy="649.8" r="2.85"/><circle cx="1491.2" cy="656.8" r="2.85"/><circle cx="1491.2" cy="668.0" r="2.85"/><circle cx="1513.6" cy="646.8" r="2.85"/><circle cx="1527.8" cy="645.5" r="2.85"/><circle cx="1526.6" cy="648.5" r="2.85"/><circle cx="1524.1" cy="658.4" r="2.85"/><circle cx="1517.0" cy="660.1" r="2.85"/><circle cx="1508.7" cy="665.9" r="2.85"/><circle cx="1512.8" cy="667.1" r="2.85"/><circle cx="1519.0" cy="666.4" r="2.85"/><circle cx="1545.7" cy="655.6" r="2.85"/><circle cx="1541.9" cy="664.7" r="2.85"/><circle cx="1539.4" cy="670.9" r="2.85"/><circle cx="1542.2" cy="672.5" r="2.85"/><circle cx="1566.5" cy="666.4" r="2.85"/><circle cx="1532.2" cy="680.5" r="2.85"/><circle cx="1529.7" cy="683.8" r="2.85"/><circle cx="1535.2" cy="682.5" r="2.85"/><circle cx="1536.1" cy="684.2" r="2.85"/><circle cx="1548.0" cy="685.0" r="2.85"/><circle cx="1555.7" cy="686.3" r="2.85"/><circle cx="1572.1" cy="680.3" r="2.85"/><circle cx="1512.0" cy="688.3" r="2.85"/><circle cx="1527.8" cy="693.8" r="2.85"/><circle cx="1530.7" cy="699.6" r="2.85"/><circle cx="1538.2" cy="692.8" r="2.85"/><circle cx="1539.4" cy="697.9" r="2.85"/><circle cx="1539.7" cy="698.6" r="2.85"/><circle cx="1542.4" cy="695.8" r="2.85"/><circle cx="1548.5" cy="692.8" r="2.85"/><circle cx="1549.3" cy="693.8" r="2.85"/><circle cx="1553.0" cy="696.6" r="2.85"/><circle cx="1553.5" cy="699.6" r="2.85"/><circle cx="1558.5" cy="701.6" r="2.85"/><circle cx="1558.8" cy="704.9" r="2.85"/><circle cx="1560.1" cy="696.6" r="2.85"/><circle cx="1561.0" cy="697.4" r="2.85"/><circle cx="1562.3" cy="701.6" r="2.85"/><circle cx="1563.5" cy="704.1" r="2.85"/><circle cx="1565.6" cy="692.0" r="2.85"/><circle cx="1566.8" cy="692.5" r="2.85"/><circle cx="1568.4" cy="703.3" r="2.85"/><circle cx="1568.8" cy="705.3" r="2.85"/><circle cx="1569.3" cy="700.8" r="2.85"/><circle cx="1573.8" cy="701.9" r="2.85"/><circle cx="1578.4" cy="692.8" r="2.85"/><circle cx="1581.7" cy="701.6" r="2.85"/><circle cx="1582.2" cy="702.1" r="2.85"/><circle cx="1583.7" cy="705.3" r="2.85"/><circle cx="1584.6" cy="705.8" r="2.85"/><circle cx="1584.7" cy="693.3" r="2.85"/><circle cx="1588.0" cy="706.1" r="2.85"/><circle cx="1590.0" cy="693.8" r="2.85"/><circle cx="1590.5" cy="694.5" r="2.85"/><circle cx="1599.2" cy="704.9" r="2.85"/><circle cx="1605.3" cy="704.6" r="2.85"/><circle cx="1610.5" cy="703.8" r="2.85"/><circle cx="1610.8" cy="704.1" r="2.85"/><circle cx="1607.0" cy="695.5" r="2.85"/><circle cx="1615.3" cy="695.5" r="2.85"/><circle cx="1623.3" cy="694.6" r="2.85"/><circle cx="1627.4" cy="695.5" r="2.85"/><circle cx="1621.6" cy="701.1" r="2.85"/><circle cx="1624.1" cy="700.8" r="2.85"/><circle cx="1625.2" cy="700.4" r="2.85"/><circle cx="1630.7" cy="697.9" r="2.85"/><circle cx="1635.4" cy="695.8" r="2.85"/><circle cx="1635.7" cy="696.3" r="2.85"/><circle cx="1636.0" cy="696.6" r="2.85"/></g>
<path d="M1474.80,610.58 L1476.14,610.60 L1477.48,610.67 L1478.81,610.80 L1480.15,611.02 L1481.49,611.32 L1482.83,611.72 L1484.17,612.22 L1485.51,612.84 L1486.84,613.56 L1488.18,614.40 L1489.52,615.35 L1490.86,616.42 L1492.20,617.60 L1493.53,618.90 L1494.87,620.30 L1496.21,621.82 L1497.55,623.44 L1498.89,625.16 L1500.22,626.98 L1501.56,628.88 L1502.90,630.86 L1504.24,632.91 L1505.58,635.03 L1506.92,637.20 L1508.25,639.42 L1509.59,641.68 L1510.93,643.96 L1512.27,646.27 L1513.61,648.58 L1514.94,650.89 L1516.28,653.19 L1517.62,655.48 L1518.96,657.73 L1520.30,659.95 L1521.64,662.13 L1522.97,664.26 L1524.31,666.33 L1525.65,668.34 L1526.99,670.29 L1528.33,672.16 L1529.66,673.96 L1531.00,675.68 L1532.34,677.32 L1533.68,678.87 L1535.02,680.34 L1536.35,681.73 L1537.69,683.04 L1539.03,684.26 L1540.37,685.40 L1541.71,686.46 L1543.05,687.45 L1544.38,688.36 L1545.72,689.19 L1547.06,689.96 L1548.40,690.66 L1549.74,691.30 L1551.07,691.88 L1552.41,692.40 L1553.75,692.88 L1555.09,693.30 L1556.43,693.68 L1557.77,694.02 L1559.10,694.32 L1560.44,694.59 L1561.78,694.83 L1563.12,695.03 L1564.46,695.22 L1565.79,695.37 L1567.13,695.51 L1568.47,695.63 L1569.81,695.74 L1571.15,695.82 L1572.48,695.90 L1573.82,695.97 L1575.16,696.02 L1576.50,696.07 L1577.84,696.11 L1579.18,696.14 L1580.51,696.17 L1581.85,696.19 L1583.19,696.21 L1584.53,696.23 L1585.87,696.24 L1587.20,696.25 L1588.54,696.26 L1589.88,696.27 L1591.22,696.28 L1592.56,696.28 L1593.90,696.28 L1595.23,696.29 L1596.57,696.29 L1597.91,696.29 L1599.25,696.29 L1600.59,696.30 L1601.92,696.30 L1603.26,696.30 L1604.60,696.30 L1605.94,696.30 L1607.28,696.30 L1608.61,696.30 L1609.95,696.30 L1611.29,696.30 L1612.63,696.30 L1613.97,696.30 L1615.31,696.30 L1616.64,696.30 L1617.98,696.30 L1619.32,696.30 L1620.66,696.30 L1622.00,696.30 L1623.33,696.30 L1624.67,696.30 L1626.01,696.30 L1627.35,696.30 L1628.69,696.30 L1630.03,696.30 L1631.36,696.30 L1632.70,696.30 L1634.04,696.30 L1635.38,696.30" fill="none" stroke="#000" stroke-width="4.1" stroke-linejoin="round"/>
<rect x="1467.1" y="591.0" width="176.0" height="120.0" fill="none" stroke="#262626" stroke-width="1.4" stroke-linejoin="round"/>
<line x1="1474.80" y1="711.0" x2="1474.80" y2="726.0" stroke="#000" stroke-width="2.1"/>
<text x="1474.80" y="741.50" font-size="15.35" text-anchor="middle" fill="#000">0</text>
<line x1="1513.85" y1="711.0" x2="1513.85" y2="726.0" stroke="#000" stroke-width="2.1"/>
<text x="1513.85" y="741.50" font-size="15.35" text-anchor="middle" fill="#000">100</text>
<line x1="1552.90" y1="711.0" x2="1552.90" y2="726.0" stroke="#000" stroke-width="2.1"/>
<text x="1552.90" y="741.50" font-size="15.35" text-anchor="middle" fill="#000">200</text>
<line x1="1591.95" y1="711.0" x2="1591.95" y2="726.0" stroke="#000" stroke-width="2.1"/>
<text x="1591.95" y="741.50" font-size="15.35" text-anchor="middle" fill="#000">300</text>
<line x1="1631.00" y1="711.0" x2="1631.00" y2="726.0" stroke="#000" stroke-width="2.1"/>
<text x="1631.00" y="741.50" font-size="15.35" text-anchor="middle" fill="#000">400</text>
<text x="1555.10" y="579.50" font-size="18.7" text-anchor="middle" fill="#000">htw</text></svg>
</body></html>
